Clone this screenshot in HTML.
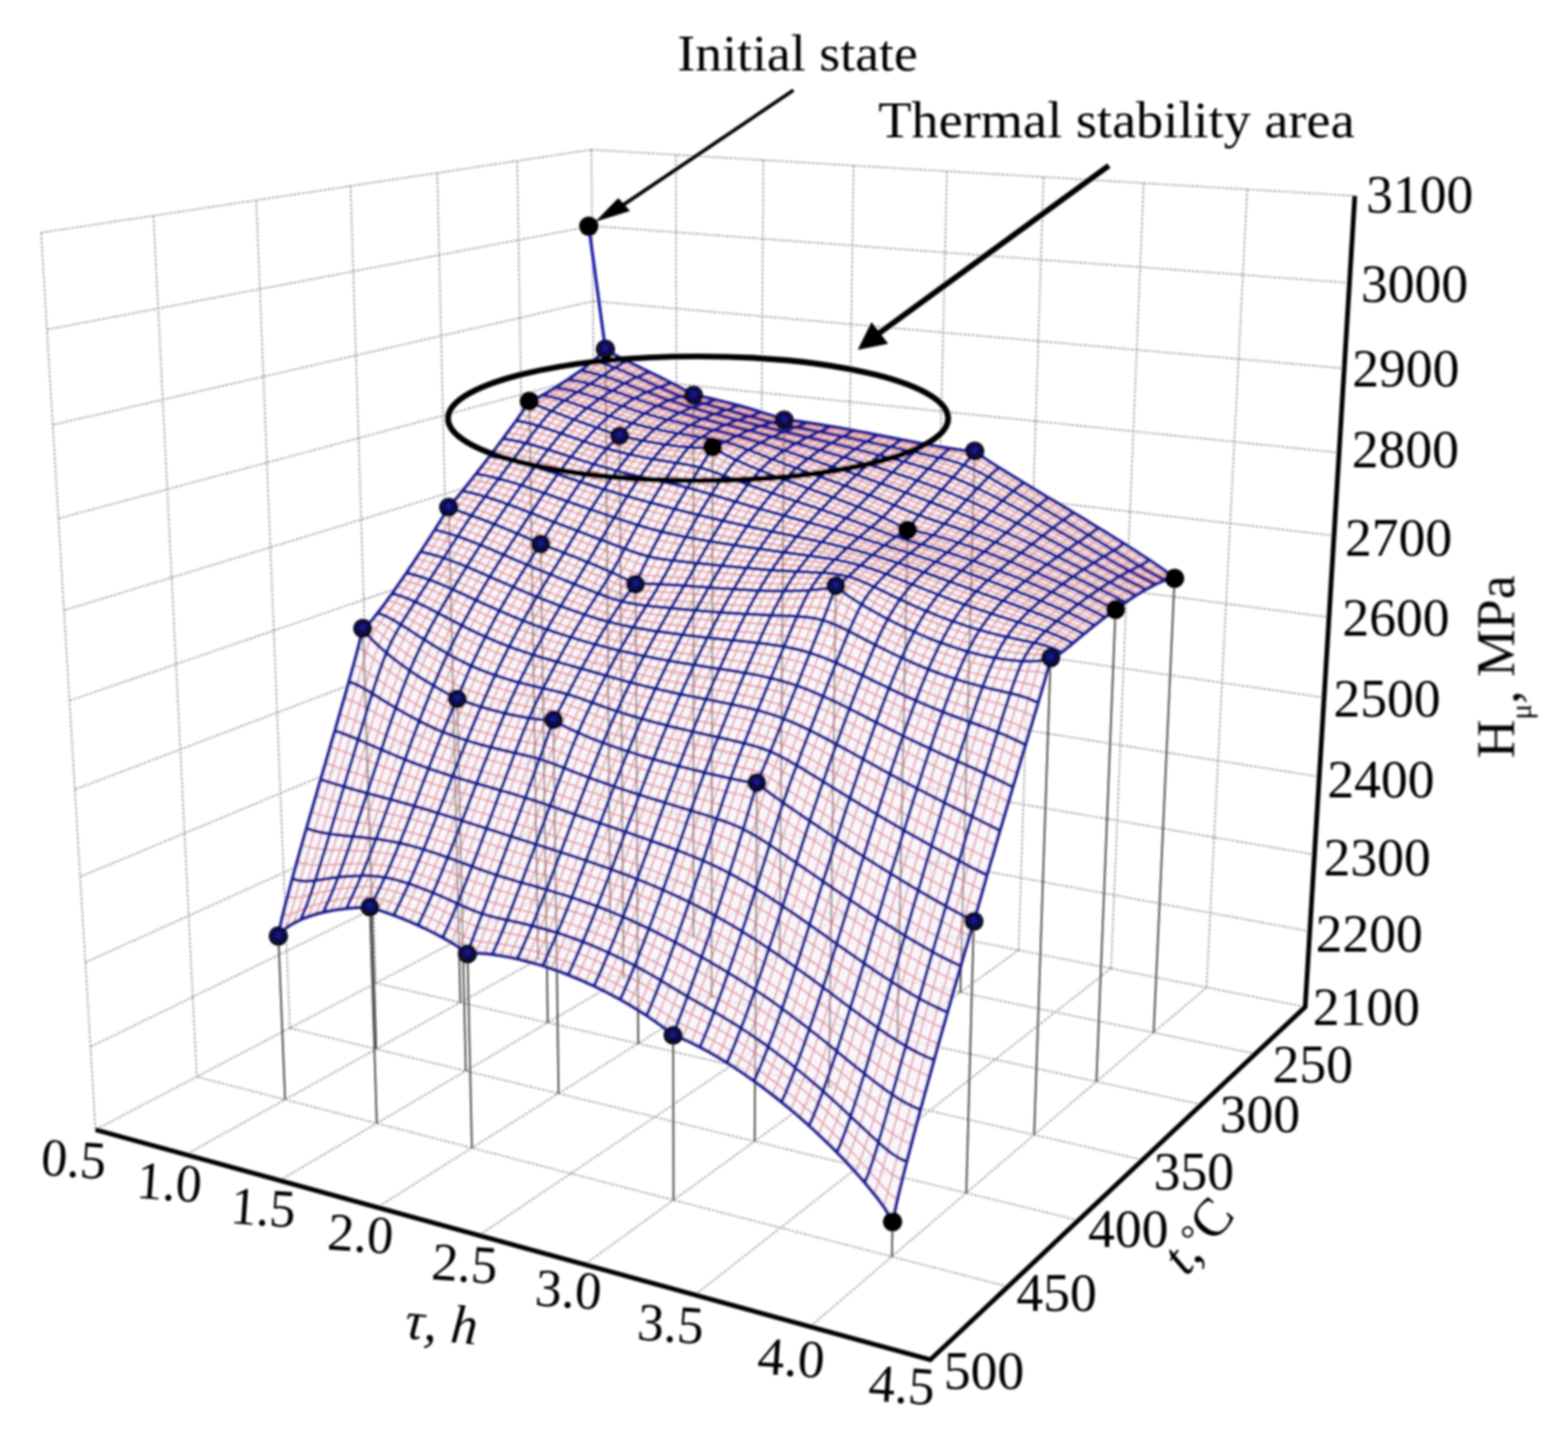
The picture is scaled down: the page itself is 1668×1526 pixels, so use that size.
<!DOCTYPE html>
<html><head><meta charset="utf-8"><title>Figure</title>
<style>html,body{margin:0;padding:0;background:#fff}svg{display:block}</style></head>
<body>
<svg width="1668" height="1526" viewBox="0 0 1668 1526">
<rect width="100%" height="100%" fill="#fff"/>
<defs><filter id="soft" x="0" y="0" width="1668" height="1526" filterUnits="userSpaceOnUse"><feGaussianBlur stdDeviation="0.9"/></filter></defs>
<g filter="url(#soft)">
<path d="M629.1 159.2L636.4 921.7M550.2 171.1L563.2 959.9M563.2 959.9L1335.5 1120.6M465.1 183.9L484.5 1001.1M484.5 1001.1L1278.1 1174.6M372.9 197.8L399.9 1045.4M399.9 1045.4L1215.6 1233.4M272.6 212.9L308.4 1093.2M308.4 1093.2L1147.3 1297.7M163.3 229.4L209.3 1145.0M209.3 1145.0L1072.3 1368.2M43.7 247.4L101.6 1201.3M101.6 1201.3L989.6 1446.0M719.1 164.6L720.4 938.3M720.4 938.3L197.7 1227.8M812.0 170.3L807.0 955.5M807.0 955.5L297.5 1255.3M908.0 176.1L896.3 973.2M896.3 973.2L401.3 1283.9M1007.3 182.1L988.5 991.5M988.5 991.5L509.4 1313.7M1110.1 188.3L1083.6 1010.3M1083.6 1010.3L621.9 1344.7M1216.6 194.7L1181.9 1029.8M1181.9 1029.8L739.3 1377.0M1326.8 201.4L1283.4 1050.0M1283.4 1050.0L861.7 1410.8M1441.2 208.3L1388.4 1070.8M1388.4 1070.8L989.6 1446.0M101.6 1201.3L636.4 921.7M636.4 921.7L1388.4 1070.8M96.3 1113.2L635.7 850.0M635.7 850.0L1393.3 990.4M90.8 1023.5L635.0 777.3M635.0 777.3L1398.3 908.8M85.3 932.3L634.3 703.7M634.3 703.7L1403.4 826.0M79.7 839.5L633.6 629.1M633.6 629.1L1408.5 741.8M73.9 745.1L632.9 553.5M632.9 553.5L1413.8 656.4M68.1 649.1L632.1 476.8M632.1 476.8L1419.1 569.6M62.2 551.3L631.4 399.0M631.4 399.0L1424.5 481.4M56.1 451.8L630.7 320.2M630.7 320.2L1429.9 391.8M50.0 350.5L629.9 240.3M629.9 240.3L1435.5 300.8M43.7 247.4L629.1 159.2M629.1 159.2L1441.2 208.3" fill="none" stroke="#6a6a6a" stroke-width="1.4" stroke-dasharray="3 1.6" opacity="0.72"/>
<path d="M644.0 371.2L649.1 977.8M737.7 420.3L737.7 996.2M834.1 446.7L829.3 1015.3M1036.8 479.7L1021.6 1055.3M1249.5 615.0L1227.2 1098.1M563.1 426.8L572.4 1020.3M659.1 463.5L663.2 1040.1M758.0 475.5L757.0 1060.7M965.5 563.5L954.5 1103.8M1186.7 648.0L1166.3 1150.2M477.4 539.5L489.7 1066.1M575.2 578.6L582.7 1087.5M676.1 621.4L678.9 1109.7M889.1 622.9L881.8 1156.5M1117.6 699.4L1100.1 1206.8M386.0 668.3L400.3 1115.6M486.4 743.3L495.5 1138.8M588.7 765.5L594.2 1162.9M805.1 832.3L802.8 1213.7M1035.9 979.8L1027.9 1268.6M296.1 995.4L303.3 1169.3M393.4 964.2L400.8 1194.5M497.3 1014.2L502.0 1220.7M716.1 1100.7L716.5 1276.2M949.5 1299.2L948.8 1336.3" fill="none" stroke="#555" stroke-width="1.9"/>
<path d="M644.0 371.2L649.8 375.0L655.6 378.2L661.4 381.2L667.2 384.1L673.0 387.0L678.8 389.8L684.7 392.7L690.5 395.6L696.4 398.5L702.2 401.4L708.1 404.3L714.0 407.3L719.9 410.4L725.8 413.5L731.7 416.7L737.7 420.3L743.6 421.1L749.5 422.4L755.5 423.7L761.5 425.1L767.5 426.6L773.5 428.1L779.5 429.7L785.5 431.3L791.5 433.0L797.6 434.7L803.6 436.5L809.7 438.4L815.8 440.3L821.9 442.2L828.0 444.3L834.1 446.7L840.2 447.1L846.3 447.8L852.5 448.6L858.7 449.5L864.9 450.4L871.1 451.4L877.3 452.4L883.5 453.4L889.7 454.5L896.0 455.6L902.2 456.8L908.5 458.0L914.8 459.1L921.1 460.3L927.4 461.5L933.7 462.8L940.1 464.0L946.4 465.2L952.8 466.5L959.2 467.7L965.6 469.0L972.0 470.2L978.4 471.4L984.8 472.6L991.3 473.8L997.7 474.9L1004.2 476.0L1010.7 477.1L1017.2 478.0L1023.7 478.9L1030.3 479.6L1036.8 479.7L1043.3 484.7L1049.8 489.1L1056.3 493.4L1062.8 497.5L1069.3 501.6L1075.8 505.6L1082.4 509.6L1088.9 513.6L1095.5 517.5L1102.1 521.5L1108.7 525.4L1115.3 529.4L1121.9 533.3L1128.5 537.3L1135.2 541.3L1141.8 545.3L1148.5 549.3L1155.1 553.3L1161.8 557.4L1168.5 561.4L1175.2 565.6L1181.9 569.7L1188.6 573.9L1195.4 578.1L1202.1 582.4L1208.9 586.7L1215.6 591.1L1222.4 595.5L1229.2 600.1L1235.9 604.7L1242.7 609.6L1249.5 615.0L1249.5 615.0L1247.0 614.9L1244.5 615.4L1242.0 616.1L1239.5 616.9L1237.0 617.9L1234.5 618.9L1231.9 620.0L1229.3 621.2L1226.8 622.5L1224.2 623.9L1221.6 625.2L1218.9 626.7L1216.3 628.2L1213.7 629.8L1211.0 631.4L1208.4 633.1L1205.7 634.8L1203.0 636.5L1200.3 638.3L1197.6 640.2L1194.9 642.1L1192.2 644.0L1189.4 646.0L1186.7 648.0L1183.9 650.0L1181.1 652.0L1178.4 654.0L1175.6 656.1L1172.8 658.2L1170.0 660.4L1167.1 662.6L1164.3 664.8L1161.5 667.1L1158.6 669.4L1155.7 671.8L1152.8 674.1L1150.0 676.5L1147.1 678.9L1144.1 681.4L1141.2 683.8L1138.3 686.3L1135.3 688.7L1132.4 691.1L1129.4 693.4L1126.5 695.7L1123.5 697.7L1120.5 699.4L1117.6 699.4L1114.2 712.8L1110.9 724.6L1107.5 736.1L1104.2 747.3L1100.8 758.5L1097.5 769.7L1094.1 780.8L1090.8 792.0L1087.4 803.2L1084.0 814.4L1080.7 825.7L1077.3 837.0L1073.9 848.5L1070.5 860.0L1067.1 871.5L1063.6 883.2L1060.2 894.9L1056.8 906.7L1053.3 918.6L1049.8 930.6L1046.4 942.7L1042.9 954.9L1039.4 967.2L1035.9 979.8L1032.4 991.4L1028.9 1003.2L1025.4 1015.1L1021.9 1027.2L1018.4 1039.3L1014.8 1051.6L1011.3 1063.9L1007.8 1076.4L1004.2 1088.9L1000.6 1101.6L997.0 1114.4L993.5 1127.2L989.9 1140.2L986.3 1153.3L982.6 1166.6L979.0 1180.0L975.4 1193.5L971.7 1207.2L968.1 1221.2L964.4 1235.4L960.7 1249.9L957.0 1264.9L953.3 1280.7L949.5 1299.2L949.5 1299.2L942.2 1286.1L934.8 1275.7L927.3 1266.3L919.9 1257.4L912.5 1248.9L905.1 1240.7L897.7 1232.8L890.3 1225.2L882.9 1217.8L875.5 1210.7L868.2 1203.7L860.8 1197.0L853.5 1190.4L846.1 1184.0L838.8 1177.8L831.5 1171.8L824.2 1166.0L816.9 1160.3L809.6 1154.8L802.3 1149.5L795.0 1144.4L787.8 1139.4L780.6 1134.6L773.4 1130.0L766.1 1125.6L759.0 1121.3L751.8 1117.3L744.6 1113.4L737.5 1109.8L730.3 1106.3L723.2 1103.2L716.1 1100.7L709.0 1094.8L702.0 1089.6L694.9 1084.6L687.9 1079.9L680.8 1075.3L673.8 1071.0L666.8 1066.8L659.8 1062.8L652.8 1059.0L645.9 1055.3L638.9 1051.8L632.0 1048.5L625.1 1045.3L618.2 1042.2L611.4 1039.3L604.5 1036.5L597.7 1033.9L590.8 1031.4L584.0 1029.1L577.2 1026.9L570.5 1024.9L563.7 1023.0L557.0 1021.2L550.3 1019.6L543.6 1018.1L536.9 1016.9L530.3 1015.7L523.6 1014.8L517.0 1014.1L510.4 1013.6L503.9 1013.4L497.3 1014.2L490.7 1008.9L484.1 1004.6L477.5 1000.6L470.9 996.9L464.3 993.3L457.8 990.0L451.3 986.8L444.8 983.8L438.3 980.9L431.8 978.2L425.4 975.6L418.9 973.2L412.5 970.8L406.1 968.6L399.7 966.5L393.4 964.2L387.1 964.7L380.8 965.0L374.6 965.4L368.4 966.0L362.2 966.7L356.0 967.6L349.9 968.7L343.8 970.0L337.7 971.5L331.6 973.4L325.6 975.5L319.6 978.0L313.6 980.9L307.7 984.3L301.8 988.6L296.1 995.4L296.1 995.4L299.7 978.0L303.5 962.9L307.3 948.6L311.1 934.6L314.8 921.0L318.6 907.5L322.4 894.1L326.2 880.9L330.0 867.8L333.8 854.8L337.6 841.8L341.3 828.8L345.1 815.9L348.9 803.0L352.6 790.1L356.4 777.2L360.1 764.2L363.8 751.2L367.6 738.2L371.3 725.0L375.0 711.6L378.7 698.1L382.4 684.0L386.0 668.3L390.0 665.8L394.0 661.7L397.9 657.0L401.8 652.1L405.7 647.1L409.6 641.9L413.4 636.6L417.3 631.2L421.1 625.8L425.0 620.3L428.8 614.8L432.6 609.2L436.4 603.6L440.2 598.0L443.9 592.3L447.7 586.7L451.4 580.9L455.2 575.2L458.9 569.4L462.6 563.6L466.3 557.7L470.0 551.8L473.7 545.8L477.4 539.5L481.1 535.5L484.7 531.1L488.4 526.7L492.1 522.2L495.7 517.7L499.4 513.1L503.0 508.5L506.6 503.9L510.2 499.3L513.8 494.7L517.4 490.0L521.0 485.3L524.6 480.7L528.1 476.0L531.7 471.3L535.2 466.6L538.7 461.8L542.2 457.1L545.8 452.3L549.3 447.5L552.7 442.6L556.2 437.6L559.7 432.5L563.1 426.8L566.6 425.8L570.1 424.1L573.6 422.3L577.1 420.4L580.5 418.5L583.9 416.5L587.4 414.4L590.8 412.3L594.2 410.2L597.6 408.0L601.0 405.8L604.3 403.6L607.7 401.3L611.1 399.0L614.4 396.7L617.7 394.3L621.0 391.9L624.4 389.3L627.7 386.8L630.9 384.1L634.2 381.3L637.5 378.3L640.7 375.2L644.0 371.2Z" fill="#f7f1fb" fill-opacity="0.7" stroke="none"/>
<path d="M644.0 371.2L649.1 977.8M737.7 420.3L737.7 996.2M834.1 446.7L829.3 1015.3M1036.8 479.7L1021.6 1055.3M1249.5 615.0L1227.2 1098.1M563.1 426.8L572.4 1020.3M659.1 463.5L663.2 1040.1M758.0 475.5L757.0 1060.7M965.5 563.5L954.5 1103.8M1186.7 648.0L1166.3 1150.2M477.4 539.5L489.7 1066.1M575.2 578.6L582.7 1087.5M676.1 621.4L678.9 1109.7M889.1 622.9L881.8 1156.5M1117.6 699.4L1100.1 1206.8M386.0 668.3L400.3 1115.6M486.4 743.3L495.5 1138.8M588.7 765.5L594.2 1162.9M805.1 832.3L802.8 1213.7M1035.9 979.8L1027.9 1268.6M296.1 995.4L303.3 1169.3M393.4 964.2L400.8 1194.5M497.3 1014.2L502.0 1220.7M716.1 1100.7L716.5 1276.2M949.5 1299.2L948.8 1336.3" fill="none" stroke="#4a4a3a" stroke-width="1.6" opacity="0.45"/>
<path d="M651.7 376.1L648.4 377.9L645.2 380.4L641.9 383.1L638.7 385.7L635.4 388.3L632.1 390.8L628.8 393.3L625.5 395.7L622.1 398.0L618.8 400.3L615.5 402.6L612.1 404.8L608.7 407.0L605.4 409.2L602.0 411.4L598.6 413.5L595.2 415.6L591.8 417.7L588.3 419.7L584.9 421.7L581.4 423.7L578.0 425.8L574.5 427.9L571.0 430.7L567.6 434.7L564.1 439.3L560.6 444.0L557.1 448.8L553.6 453.6L550.1 458.3L546.6 463.1L543.1 467.8L539.6 472.5L536.0 477.2L532.5 481.9L528.9 486.6L525.3 491.3L521.8 496.0L518.2 500.7L514.6 505.3L511.0 510.0L507.3 514.6L503.7 519.2L500.1 523.8L496.4 528.4L492.7 533.0L489.1 537.6L485.4 542.5L481.7 548.0L478.0 553.8L474.3 559.6L470.6 565.5L466.9 571.3L463.2 577.1L459.5 582.8L455.7 588.6L452.0 594.3L448.2 600.0L444.4 605.6L440.7 611.3L436.9 616.9L433.0 622.5L429.2 628.0L425.4 633.5L421.5 639.0L417.7 644.4L413.8 649.8L409.9 655.0L406.0 660.3L402.1 665.6L398.2 671.3L394.4 678.8L390.6 689.5L386.9 702.1L383.2 715.1L379.5 728.1L375.7 741.1L372.0 754.1L368.3 767.1L364.5 780.0L360.8 792.8L357.0 805.7L353.3 818.6L349.5 831.5L345.7 844.4L341.9 857.4L338.2 870.4L334.4 883.5L330.6 896.6L326.8 909.9L323.0 923.2L319.2 936.7L315.4 950.2L311.6 963.7L307.7 976.6L303.8 987.0M639.7 376.3L645.4 377.9L651.2 380.4L657.0 383.1L662.9 385.9L668.7 388.7L674.5 391.5L680.4 394.3L686.2 397.2L692.1 400.1L698.0 403.0L703.9 405.9L709.8 408.8L715.7 411.8L721.6 414.8L727.5 417.7L733.4 420.3L739.4 422.1L745.3 423.7L751.3 425.1L757.3 426.6L763.3 428.1L769.3 429.7L775.3 431.3L781.3 432.9L787.4 434.6L793.4 436.4L799.5 438.1L805.6 439.9L811.7 441.8L817.8 443.7L823.9 445.6L830.0 447.2L836.1 448.4L842.3 449.3L848.5 450.2L854.6 451.2L860.8 452.2L867.0 453.2L873.3 454.2L879.5 455.3L885.7 456.5L892.0 457.6L898.3 458.8L904.6 460.0L910.8 461.2L917.2 462.4L923.5 463.7L929.8 464.9L936.2 466.2L942.5 467.5L948.9 468.8L955.3 470.0L961.7 471.3L968.1 472.6L974.5 473.8L981.0 475.1L987.4 476.3L993.9 477.5L1000.4 478.6L1006.9 479.8L1013.4 480.9L1019.9 482.0L1026.4 483.3L1033.0 485.3L1039.5 488.4L1046.0 492.3L1052.5 496.3L1059.0 500.3L1065.6 504.3L1072.1 508.3L1078.7 512.3L1085.3 516.2L1091.8 520.2L1098.4 524.1L1105.0 528.0L1111.7 532.0L1118.3 535.9L1124.9 539.9L1131.6 543.8L1138.2 547.8L1144.9 551.8L1151.6 555.9L1158.3 559.9L1165.0 564.0L1171.7 568.1L1178.4 572.2L1185.1 576.4L1191.9 580.6L1198.6 584.9L1205.4 589.2L1212.2 593.6L1218.9 598.0L1225.7 602.4L1232.5 606.9L1239.4 611.2L1246.2 615.0M659.4 380.2L656.2 381.6L652.9 383.6L649.7 385.8L646.4 388.1L643.1 390.5L639.8 392.8L636.5 395.1L633.2 397.5L629.9 399.7L626.6 402.0L623.3 404.2L619.9 406.4L616.5 408.6L613.2 410.8L609.8 412.9L606.4 415.1L603.0 417.2L599.6 419.3L596.2 421.5L592.7 423.6L589.3 425.9L585.8 428.2L582.4 430.9L578.9 434.0L575.5 437.6L572.0 441.8L568.5 446.2L565.0 450.7L561.6 455.3L558.1 460.0L554.5 464.7L551.0 469.4L547.5 474.1L544.0 478.8L540.4 483.5L536.9 488.2L533.3 492.9L529.7 497.6L526.1 502.3L522.5 507.0L518.9 511.7L515.3 516.4L511.7 521.1L508.1 525.8L504.4 530.5L500.8 535.3L497.1 540.2L493.4 545.3L489.8 550.7L486.1 556.3L482.4 562.0L478.7 567.7L475.0 573.5L471.3 579.3L467.5 585.1L463.8 590.8L460.1 596.6L456.3 602.3L452.5 608.0L448.8 613.7L445.0 619.4L441.2 625.1L437.4 630.8L433.5 636.5L429.7 642.1L425.9 647.8L422.0 653.5L418.1 659.2L414.3 665.2L410.4 671.5L406.5 678.5L402.7 686.9L398.9 696.8L395.2 708.1L391.4 720.1L387.7 732.4L384.0 745.0L380.2 757.7L376.5 770.4L372.7 783.1L369.0 795.8L365.2 808.6L361.4 821.3L357.7 834.1L353.9 846.9L350.1 859.7L346.3 872.6L342.5 885.4L338.7 898.3L334.9 911.2L331.1 924.1L327.3 936.9L323.4 949.5L319.6 961.6L315.6 972.7L311.6 981.9M635.3 380.3L641.1 381.6L646.9 383.5L652.7 385.8L658.5 388.3L664.4 390.9L670.2 393.5L676.1 396.2L681.9 399.0L687.8 401.8L693.7 404.6L699.6 407.4L705.5 410.2L711.4 413.1L717.3 415.8L723.3 418.5L729.2 420.8L735.2 422.9L741.1 424.7L747.1 426.4L753.1 428.0L759.1 429.6L765.1 431.2L771.1 432.8L777.2 434.4L783.2 436.1L789.3 437.8L795.4 439.6L801.5 441.4L807.6 443.1L813.7 444.9L819.8 446.6L825.9 448.1L832.1 449.4L838.2 450.6L844.4 451.7L850.6 452.8L856.8 453.8L863.0 454.9L869.2 456.1L875.5 457.2L881.7 458.4L888.0 459.6L894.3 460.8L900.6 462.1L906.9 463.3L913.2 464.6L919.5 465.9L925.9 467.2L932.2 468.5L938.6 469.9L945.0 471.2L951.4 472.5L957.8 473.9L964.2 475.2L970.6 476.5L977.1 477.8L983.5 479.1L990.0 480.4L996.5 481.7L1003.0 483.1L1009.5 484.4L1016.1 486.0L1022.6 487.8L1029.1 490.0L1035.7 492.9L1042.2 496.2L1048.7 499.9L1055.3 503.6L1061.8 507.5L1068.4 511.3L1075.0 515.2L1081.5 519.1L1088.1 523.0L1094.7 526.9L1101.4 530.8L1108.0 534.7L1114.6 538.6L1121.3 542.5L1127.9 546.5L1134.6 550.4L1141.3 554.4L1148.0 558.4L1154.7 562.5L1161.4 566.5L1168.1 570.6L1174.9 574.7L1181.6 578.9L1188.4 583.0L1195.1 587.2L1201.9 591.5L1208.7 595.7L1215.5 600.0L1222.3 604.2L1229.2 608.4L1236.0 612.3L1242.9 615.8M674.9 387.9L671.7 389.2L668.5 390.6L665.2 392.3L662.0 394.1L658.7 396.0L655.4 398.0L652.1 400.0L648.8 402.1L645.5 404.2L642.2 406.2L638.9 408.3L635.6 410.4L632.2 412.6L628.9 414.7L625.5 416.9L622.1 419.1L618.7 421.3L615.3 423.6L611.9 426.0L608.5 428.5L605.1 431.1L601.7 433.9L598.2 436.9L594.8 440.1L591.3 443.6L587.9 447.4L584.4 451.4L580.9 455.6L577.5 459.9L574.0 464.3L570.5 468.8L567.0 473.4L563.5 478.0L559.9 482.6L556.4 487.3L552.8 492.0L549.3 496.8L545.7 501.5L542.2 506.3L538.6 511.1L535.0 516.0L531.4 520.8L527.8 525.7L524.2 530.7L520.5 535.7L516.9 540.7L513.2 545.9L509.6 551.2L505.9 556.5L502.3 562.0L498.6 567.6L494.9 573.3L491.2 579.0L487.5 584.7L483.8 590.5L480.1 596.3L476.3 602.1L472.6 608.0L468.8 613.8L465.1 619.7L461.3 625.7L457.5 631.6L453.7 637.7L449.9 643.8L446.1 649.9L442.3 656.2L438.5 662.7L434.6 669.5L430.8 676.5L427.0 684.0L423.2 692.1L419.4 700.9L415.6 710.4L411.8 720.6L408.0 731.4L404.2 742.6L400.5 754.1L396.7 765.9L393.0 777.9L389.2 790.0L385.4 802.1L381.6 814.4L377.9 826.6L374.1 838.9L370.3 851.2L366.5 863.5L362.7 875.7L358.8 887.9L355.0 900.0L351.2 911.9L347.3 923.7L343.4 935.1L339.5 946.1L335.6 956.5L331.6 966.1L327.6 974.7M626.6 387.6L632.3 388.7L638.2 390.1L644.0 391.8L649.8 393.8L655.7 396.0L661.5 398.2L667.4 400.6L673.3 403.1L679.2 405.6L685.1 408.2L691.0 410.7L696.9 413.3L702.8 415.8L708.8 418.2L714.7 420.6L720.7 422.8L726.7 424.9L732.6 426.9L738.6 428.7L744.7 430.5L750.7 432.2L756.7 433.9L762.8 435.6L768.8 437.3L774.9 439.0L781.0 440.6L787.0 442.3L793.2 444.0L799.3 445.6L805.4 447.3L811.5 448.8L817.7 450.4L823.9 451.8L830.0 453.2L836.2 454.5L842.4 455.8L848.7 457.1L854.9 458.4L861.1 459.7L867.4 461.0L873.7 462.3L879.9 463.7L886.2 465.0L892.5 466.4L898.9 467.8L905.2 469.2L911.6 470.7L917.9 472.1L924.3 473.6L930.7 475.0L937.1 476.5L943.5 478.0L949.9 479.5L956.3 481.0L962.8 482.5L969.3 484.0L975.7 485.6L982.2 487.2L988.7 488.8L995.2 490.5L1001.8 492.4L1008.3 494.4L1014.9 496.6L1021.4 499.0L1028.0 501.7L1034.5 504.7L1041.1 507.9L1047.7 511.2L1054.2 514.7L1060.8 518.2L1067.4 521.9L1074.1 525.5L1080.7 529.2L1087.3 532.9L1094.0 536.7L1100.6 540.5L1107.3 544.3L1114.0 548.1L1120.6 551.9L1127.3 555.8L1134.1 559.7L1140.8 563.6L1147.5 567.5L1154.3 571.5L1161.0 575.5L1167.8 579.5L1174.6 583.5L1181.3 587.5L1188.1 591.6L1195.0 595.6L1201.8 599.6L1208.6 603.6L1215.5 607.4L1222.3 611.2L1229.2 614.8L1236.2 618.2M682.7 391.8L679.5 393.0L676.3 394.3L673.0 395.9L669.8 397.5L666.5 399.2L663.2 401.0L660.0 402.9L656.7 404.8L653.4 406.8L650.1 408.8L646.8 410.8L643.4 412.8L640.1 414.9L636.7 417.1L633.4 419.2L630.0 421.5L626.6 423.8L623.3 426.1L619.9 428.6L616.5 431.2L613.0 433.9L609.6 436.8L606.2 439.8L602.8 443.1L599.3 446.6L595.9 450.3L592.4 454.2L588.9 458.2L585.5 462.4L582.0 466.8L578.5 471.2L575.0 475.7L571.5 480.2L567.9 484.9L564.4 489.5L560.9 494.3L557.3 499.0L553.8 503.8L550.2 508.7L546.6 513.5L543.0 518.4L539.5 523.4L535.9 528.4L532.2 533.4L528.6 538.5L525.0 543.7L521.3 548.9L517.7 554.2L514.0 559.6L510.4 565.1L506.7 570.7L503.0 576.3L499.3 582.0L495.6 587.8L491.9 593.6L488.2 599.4L484.5 605.3L480.7 611.2L477.0 617.1L473.2 623.2L469.5 629.2L465.7 635.3L461.9 641.6L458.1 647.9L454.3 654.3L450.5 660.9L446.7 667.7L442.9 674.8L439.1 682.2L435.3 690.1L431.5 698.4L427.7 707.2L423.9 716.6L420.1 726.5L416.3 736.9L412.6 747.8L408.8 758.9L405.0 770.3L401.2 781.9L397.5 793.6L393.7 805.4L389.9 817.3L386.1 829.2L382.3 841.2L378.5 853.2L374.7 865.1L370.9 876.9L367.0 888.7L363.2 900.4L359.3 911.8L355.4 923.0L351.5 933.9L347.6 944.4L343.7 954.3L339.7 963.6L335.7 972.1M622.1 391.0L627.9 392.0L633.8 393.4L639.6 394.9L645.4 396.7L651.3 398.7L657.1 400.8L663.0 403.0L668.9 405.3L674.8 407.7L680.7 410.1L686.6 412.6L692.6 415.0L698.5 417.4L704.5 419.7L710.4 422.0L716.4 424.1L722.4 426.2L728.4 428.2L734.4 430.1L740.4 431.9L746.4 433.6L752.5 435.4L758.5 437.1L764.6 438.7L770.7 440.4L776.8 442.1L782.9 443.7L789.0 445.3L795.1 447.0L801.2 448.6L807.4 450.1L813.6 451.6L819.7 453.1L825.9 454.6L832.1 456.0L838.3 457.4L844.6 458.8L850.8 460.1L857.1 461.5L863.3 462.9L869.6 464.4L875.9 465.8L882.2 467.3L888.5 468.7L894.8 470.2L901.2 471.7L907.5 473.2L913.9 474.7L920.3 476.3L926.7 477.8L933.1 479.4L939.5 481.0L945.9 482.5L952.4 484.1L958.8 485.8L965.3 487.4L971.8 489.1L978.3 490.8L984.8 492.6L991.3 494.5L997.9 496.5L1004.4 498.6L1011.0 500.9L1017.5 503.4L1024.1 506.1L1030.7 509.0L1037.2 512.0L1043.8 515.2L1050.4 518.5L1057.0 521.9L1063.7 525.4L1070.3 529.0L1076.9 532.5L1083.6 536.2L1090.2 539.8L1096.9 543.5L1103.6 547.2L1110.3 551.0L1117.0 554.7L1123.7 558.5L1130.4 562.4L1137.2 566.2L1143.9 570.1L1150.7 574.0L1157.4 577.9L1164.2 581.8L1171.0 585.7L1177.8 589.7L1184.6 593.6L1191.5 597.5L1198.3 601.4L1205.2 605.3L1212.0 609.1L1218.9 612.7L1225.8 616.3L1232.8 619.7M698.3 399.4L695.1 400.6L691.9 401.9L688.7 403.2L685.4 404.5L682.2 406.0L679.0 407.5L675.7 409.1L672.4 410.7L669.1 412.4L665.8 414.2L662.5 416.1L659.2 418.1L655.9 420.1L652.6 422.2L649.2 424.3L645.9 426.6L642.5 429.0L639.1 431.4L635.8 434.0L632.4 436.7L629.0 439.6L625.6 442.6L622.2 445.7L618.7 449.0L615.3 452.5L611.9 456.1L608.4 459.9L605.0 463.8L601.5 467.8L598.0 472.0L594.5 476.3L591.1 480.7L587.6 485.2L584.0 489.8L580.5 494.4L577.0 499.2L573.5 504.0L569.9 508.8L566.4 513.8L562.8 518.8L559.2 523.8L555.7 528.9L552.1 534.1L548.5 539.3L544.9 544.5L541.3 549.9L537.6 555.2L534.0 560.7L530.4 566.1L526.7 571.7L523.0 577.3L519.4 582.9L515.7 588.7L512.0 594.4L508.3 600.3L504.6 606.2L500.9 612.1L497.2 618.2L493.4 624.3L489.7 630.5L486.0 636.8L482.2 643.2L478.4 649.8L474.7 656.5L470.9 663.4L467.1 670.5L463.3 677.8L459.6 685.3L455.8 693.2L452.0 701.4L448.2 709.9L444.4 718.7L440.6 728.0L436.8 737.5L433.0 747.4L429.2 757.6L425.5 768.1L421.7 778.8L417.9 789.7L414.1 800.7L410.3 811.9L406.5 823.1L402.7 834.4L398.8 845.7L395.0 856.9L391.2 868.1L387.3 879.3L383.5 890.3L379.6 901.1L375.7 911.7L371.8 922.0L367.9 932.1L363.9 941.7L360.0 951.0L356.0 959.9L351.9 968.3M613.3 397.5L619.1 398.4L624.9 399.6L630.8 401.0L636.6 402.5L642.5 404.2L648.4 406.1L654.2 408.1L660.1 410.2L666.1 412.3L672.0 414.5L677.9 416.7L683.9 418.9L689.8 421.1L695.8 423.3L701.8 425.4L707.8 427.5L713.8 429.5L719.8 431.4L725.8 433.3L731.8 435.1L737.9 436.8L743.9 438.5L750.0 440.2L756.1 441.8L762.2 443.5L768.3 445.1L774.4 446.7L780.6 448.3L786.7 449.8L792.9 451.4L799.0 453.0L805.2 454.5L811.4 456.1L817.6 457.6L823.8 459.2L830.1 460.7L836.3 462.3L842.6 463.9L848.8 465.5L855.1 467.0L861.4 468.7L867.7 470.3L874.0 471.9L880.4 473.6L886.7 475.2L893.1 476.9L899.5 478.6L905.8 480.3L912.2 482.0L918.7 483.7L925.1 485.5L931.5 487.3L938.0 489.1L944.4 490.9L950.9 492.7L957.4 494.6L963.9 496.5L970.4 498.5L976.9 500.5L983.5 502.6L990.0 504.8L996.6 507.1L1003.1 509.5L1009.7 512.1L1016.3 514.7L1022.9 517.5L1029.5 520.4L1036.1 523.3L1042.7 526.4L1049.4 529.6L1056.0 532.8L1062.7 536.1L1069.3 539.5L1076.0 542.9L1082.7 546.3L1089.4 549.8L1096.1 553.4L1102.8 556.9L1109.6 560.5L1116.3 564.2L1123.1 567.8L1129.8 571.5L1136.6 575.2L1143.4 579.0L1150.2 582.7L1157.0 586.5L1163.8 590.2L1170.7 594.0L1177.5 597.8L1184.4 601.5L1191.3 605.2L1198.2 608.9L1205.1 612.5L1212.0 616.1L1218.9 619.6L1225.9 623.0M706.2 403.3L703.0 404.5L699.8 405.7L696.5 406.9L693.3 408.1L690.1 409.4L686.8 410.8L683.6 412.3L680.3 413.8L677.0 415.4L673.8 417.1L670.5 418.9L667.2 420.8L663.8 422.8L660.5 424.8L657.2 427.0L653.8 429.3L650.5 431.7L647.1 434.2L643.8 436.8L640.4 439.5L637.0 442.4L633.6 445.5L630.2 448.6L626.8 452.0L623.3 455.4L619.9 459.0L616.5 462.7L613.0 466.6L609.6 470.5L606.1 474.7L602.6 478.9L599.1 483.3L595.6 487.8L592.1 492.3L588.6 497.0L585.1 501.8L581.6 506.6L578.0 511.5L574.5 516.5L570.9 521.5L567.4 526.7L563.8 531.8L560.2 537.1L556.6 542.4L553.0 547.7L549.4 553.1L545.8 558.6L542.2 564.0L538.6 569.6L534.9 575.1L531.3 580.7L527.6 586.4L523.9 592.1L520.2 597.9L516.5 603.8L512.8 609.7L509.1 615.7L505.4 621.8L501.7 628.0L498.0 634.3L494.2 640.8L490.5 647.3L486.7 654.0L483.0 660.9L479.2 667.9L475.4 675.1L471.7 682.6L467.9 690.4L464.1 698.4L460.3 706.6L456.5 715.2L452.8 724.1L449.0 733.2L445.2 742.6L441.4 752.3L437.6 762.3L433.8 772.5L430.0 782.9L426.2 793.5L422.4 804.2L418.6 815.1L414.8 826.0L411.0 836.9L407.1 847.9L403.3 858.8L399.5 869.7L395.6 880.5L391.7 891.1L387.9 901.6L384.0 911.8L380.0 921.8L376.1 931.5L372.1 940.9L368.2 949.9L364.2 958.6L360.1 966.9M608.8 400.6L614.6 401.5L620.5 402.6L626.3 403.9L632.2 405.4L638.1 407.1L643.9 408.8L649.8 410.7L655.7 412.7L661.7 414.8L667.6 416.9L673.5 419.0L679.5 421.2L685.5 423.3L691.4 425.4L697.4 427.4L703.4 429.4L709.4 431.4L715.5 433.3L721.5 435.1L727.5 436.9L733.6 438.6L739.7 440.3L745.7 442.0L751.8 443.6L757.9 445.2L764.1 446.7L770.2 448.3L776.3 449.9L782.5 451.4L788.6 453.0L794.8 454.6L801.0 456.1L807.2 457.7L813.4 459.3L819.7 460.9L825.9 462.6L832.2 464.2L838.4 465.9L844.7 467.5L851.0 469.2L857.3 470.9L863.6 472.6L869.9 474.4L876.3 476.1L882.6 477.9L889.0 479.7L895.4 481.4L901.8 483.2L908.2 485.1L914.6 486.9L921.0 488.7L927.5 490.6L933.9 492.5L940.4 494.4L946.9 496.4L953.4 498.3L959.9 500.4L966.4 502.4L972.9 504.6L979.5 506.8L986.0 509.1L992.6 511.4L999.2 513.8L1005.8 516.4L1012.4 519.0L1019.0 521.7L1025.6 524.5L1032.2 527.5L1038.9 530.4L1045.5 533.5L1052.2 536.6L1058.8 539.8L1065.5 543.1L1072.2 546.3L1078.9 549.7L1085.6 553.1L1092.4 556.5L1099.1 560.0L1105.8 563.5L1112.6 567.0L1119.4 570.6L1126.2 574.2L1133.0 577.8L1139.8 581.5L1146.6 585.2L1153.4 588.8L1160.2 592.5L1167.1 596.2L1174.0 599.9L1180.8 603.6L1187.7 607.2L1194.6 610.8L1201.6 614.4L1208.5 617.9L1215.5 621.4L1222.4 624.8M721.9 411.4L718.7 412.5L715.5 413.4L712.3 414.3L709.1 415.2L705.9 416.2L702.6 417.4L699.4 418.6L696.2 419.9L692.9 421.3L689.6 422.9L686.4 424.5L683.1 426.3L679.8 428.2L676.5 430.2L673.1 432.3L669.8 434.6L666.5 437.0L663.1 439.5L659.8 442.2L656.4 445.0L653.0 448.0L649.7 451.1L646.3 454.4L642.9 457.7L639.5 461.1L636.0 464.6L632.6 468.3L629.2 472.0L625.7 475.9L622.3 480.0L618.8 484.2L615.3 488.5L611.9 493.0L608.4 497.6L604.9 502.3L601.4 507.1L597.9 512.0L594.3 517.0L590.8 522.1L587.3 527.3L583.7 532.6L580.2 537.9L576.6 543.3L573.0 548.8L569.4 554.3L565.8 559.9L562.2 565.5L558.6 571.1L555.0 576.7L551.4 582.2L547.7 587.9L544.1 593.5L540.4 599.3L536.8 605.1L533.1 611.0L529.4 617.0L525.7 623.1L522.0 629.3L518.3 635.6L514.6 642.0L510.8 648.6L507.1 655.3L503.4 662.2L499.6 669.3L495.9 676.6L492.1 684.1L488.4 691.8L484.6 699.8L480.8 708.0L477.1 716.5L473.3 725.1L469.5 734.0L465.7 742.9L462.0 752.1L458.2 761.4L454.4 770.9L450.6 780.6L446.8 790.6L443.0 800.6L439.1 810.9L435.3 821.2L431.5 831.6L427.7 842.0L423.8 852.4L420.0 862.8L416.1 873.1L412.3 883.3L408.4 893.4L404.5 903.2L400.6 912.9L396.6 922.3L392.7 931.4L388.7 940.2L384.7 948.8L380.7 957.1L376.7 965.3M599.8 406.6L605.7 407.4L611.5 408.5L617.4 409.7L623.3 411.2L629.1 412.7L635.0 414.4L641.0 416.2L646.9 418.1L652.8 420.1L658.8 422.1L664.7 424.1L670.7 426.2L676.7 428.2L682.7 430.2L688.7 432.1L694.7 434.1L700.7 435.9L706.7 437.7L712.8 439.5L718.9 441.2L724.9 442.8L731.0 444.4L737.1 446.0L743.2 447.5L749.4 449.0L755.5 450.5L761.6 451.9L767.8 453.4L774.0 454.9L780.2 456.5L786.3 458.0L792.6 459.6L798.8 461.3L805.0 463.0L811.3 464.7L817.5 466.5L823.8 468.3L830.1 470.1L836.4 472.0L842.7 473.9L849.0 475.8L855.3 477.7L861.7 479.7L868.0 481.6L874.4 483.5L880.8 485.5L887.2 487.5L893.6 489.5L900.0 491.5L906.5 493.5L912.9 495.5L919.4 497.6L925.8 499.7L932.3 501.8L938.8 503.9L945.3 506.1L951.9 508.3L958.4 510.6L964.9 512.9L971.5 515.2L978.1 517.6L984.7 520.1L991.3 522.5L997.9 525.1L1004.5 527.7L1011.1 530.3L1017.8 533.0L1024.4 535.7L1031.1 538.5L1037.7 541.4L1044.4 544.3L1051.1 547.3L1057.8 550.3L1064.6 553.4L1071.3 556.5L1078.0 559.7L1084.8 562.9L1091.6 566.2L1098.3 569.5L1105.1 572.9L1111.9 576.3L1118.7 579.7L1125.6 583.2L1132.4 586.6L1139.3 590.2L1146.1 593.7L1153.0 597.2L1159.9 600.8L1166.8 604.3L1173.7 607.9L1180.6 611.4L1187.5 614.9L1194.5 618.4L1201.5 621.9L1208.4 625.3L1215.4 628.7M729.8 415.6L726.6 416.5L723.4 417.2L720.2 417.8L717.0 418.6L713.8 419.5L710.6 420.5L707.4 421.6L704.1 422.9L700.9 424.2L697.6 425.7L694.3 427.3L691.1 429.0L687.8 430.9L684.5 432.8L681.2 434.9L677.8 437.2L674.5 439.5L671.2 442.1L667.8 444.7L664.5 447.6L661.1 450.6L657.7 453.8L654.3 457.2L650.9 460.6L647.5 463.9L644.1 467.3L640.7 470.9L637.3 474.6L633.8 478.5L630.4 482.6L626.9 486.8L623.5 491.1L620.0 495.6L616.5 500.2L613.0 505.0L609.5 509.8L606.0 514.8L602.5 519.8L599.0 525.0L595.5 530.2L591.9 535.5L588.4 540.9L584.8 546.4L581.2 552.0L577.7 557.6L574.1 563.3L570.5 569.0L566.9 574.7L563.3 580.3L559.6 585.9L556.0 591.4L552.4 597.1L548.7 602.8L545.0 608.7L541.4 614.6L537.7 620.6L534.0 626.7L530.3 633.0L526.6 639.3L522.9 645.8L519.2 652.4L515.5 659.2L511.7 666.2L508.0 673.3L504.2 680.7L500.5 688.2L496.7 696.0L493.0 704.1L489.2 712.4L485.5 721.0L481.7 729.8L477.9 738.6L474.1 747.5L470.4 756.4L466.6 765.5L462.8 774.8L459.0 784.4L455.2 794.1L451.4 804.0L447.5 814.0L443.7 824.1L439.9 834.3L436.1 844.5L432.2 854.7L428.4 864.9L424.5 875.0L420.6 885.0L416.7 894.8L412.8 904.5L408.9 913.9L405.0 923.1L401.0 932.0L397.0 940.6L393.0 948.8L389.0 956.8L385.0 964.8M595.3 409.5L601.2 410.3L607.0 411.4L612.9 412.6L618.8 414.0L624.7 415.6L630.6 417.3L636.5 419.1L642.4 421.0L648.4 422.9L654.3 424.9L660.3 426.9L666.3 429.0L672.3 430.9L678.3 432.9L684.3 434.8L690.3 436.7L696.3 438.5L702.4 440.3L708.4 442.0L714.5 443.6L720.6 445.2L726.7 446.8L732.8 448.3L738.9 449.7L745.0 451.1L751.2 452.6L757.3 454.0L763.5 455.4L769.7 456.8L775.9 458.3L782.1 459.9L788.3 461.5L794.5 463.2L800.8 464.9L807.0 466.7L813.3 468.6L819.6 470.5L825.9 472.5L832.2 474.4L838.5 476.4L844.8 478.4L851.2 480.5L857.5 482.5L863.9 484.5L870.3 486.6L876.7 488.6L883.1 490.7L889.5 492.8L895.9 494.8L902.4 496.9L908.8 499.1L915.3 501.2L921.8 503.4L928.3 505.6L934.8 507.8L941.3 510.1L947.8 512.4L954.4 514.7L960.9 517.1L967.5 519.5L974.1 522.0L980.7 524.4L987.3 526.9L993.9 529.5L1000.5 532.1L1007.2 534.6L1013.8 537.3L1020.5 539.9L1027.1 542.6L1033.8 545.4L1040.5 548.2L1047.3 551.1L1054.0 554.0L1060.7 557.0L1067.5 560.0L1074.2 563.1L1081.0 566.2L1087.8 569.4L1094.6 572.6L1101.4 575.8L1108.2 579.2L1115.0 582.5L1121.9 585.9L1128.7 589.3L1135.6 592.7L1142.4 596.2L1149.3 599.6L1156.2 603.1L1163.1 606.6L1170.1 610.1L1177.0 613.6L1184.0 617.1L1190.9 620.6L1197.9 624.0L1204.9 627.4L1211.9 630.8M745.6 421.5L742.4 422.5L739.3 423.1L736.1 423.7L732.9 424.4L729.7 425.3L726.5 426.2L723.3 427.2L720.1 428.4L716.8 429.7L713.6 431.0L710.4 432.5L707.1 434.2L703.8 435.9L700.5 437.8L697.2 439.8L693.9 442.0L690.6 444.3L687.3 446.8L684.0 449.4L680.6 452.2L677.3 455.2L673.9 458.4L670.5 461.8L667.2 465.2L663.8 468.5L660.4 471.9L657.0 475.5L653.6 479.3L650.1 483.2L646.7 487.3L643.3 491.6L639.8 496.0L636.3 500.6L632.9 505.3L629.4 510.2L625.9 515.1L622.4 520.2L618.9 525.4L615.4 530.7L611.9 536.1L608.4 541.5L604.8 547.0L601.3 552.7L597.7 558.3L594.2 564.1L590.6 569.9L587.0 575.7L583.4 581.5L579.8 587.2L576.2 592.8L572.6 598.4L569.0 604.1L565.3 609.9L561.7 615.8L558.0 621.7L554.4 627.7L550.7 633.9L547.0 640.2L543.3 646.6L539.6 653.1L535.9 659.8L532.2 666.6L528.5 673.6L524.8 680.8L521.0 688.2L517.3 695.8L513.5 703.7L509.8 711.7L506.0 720.0L502.3 728.6L498.5 737.3L494.8 746.1L491.0 754.8L487.2 763.6L483.4 772.6L479.6 781.7L475.8 791.1L472.0 800.6L468.2 810.2L464.4 820.0L460.6 829.8L456.7 839.7L452.9 849.6L449.1 859.6L445.2 869.5L441.3 879.3L437.5 889.0L433.6 898.5L429.7 907.9L425.7 917.1L421.8 926.1L417.9 934.8L413.9 943.2L409.9 951.4L405.9 959.3L401.9 967.2M586.2 415.1L592.1 416.0L597.9 417.0L603.8 418.4L609.7 419.9L615.6 421.5L621.6 423.3L627.5 425.2L633.4 427.1L639.4 429.1L645.4 431.1L651.4 433.1L657.4 435.2L663.4 437.1L669.4 439.1L675.4 441.0L681.4 442.8L687.5 444.5L693.6 446.2L699.6 447.8L705.7 449.3L711.8 450.8L717.9 452.2L724.1 453.5L730.2 454.8L736.3 456.1L742.5 457.3L748.7 458.5L754.9 459.8L761.1 461.1L767.3 462.5L773.5 463.9L779.7 465.5L786.0 467.3L792.2 469.1L798.5 471.1L804.8 473.2L811.1 475.3L817.4 477.5L823.7 479.7L830.1 481.9L836.4 484.2L842.8 486.4L849.2 488.6L855.5 490.8L861.9 493.0L868.3 495.3L874.8 497.5L881.2 499.7L887.7 501.9L894.1 504.2L900.6 506.4L907.1 508.7L913.6 511.1L920.1 513.4L926.6 515.8L933.1 518.2L939.7 520.7L946.2 523.2L952.8 525.7L959.4 528.3L966.0 530.8L972.6 533.4L979.2 536.0L985.9 538.5L992.5 541.0L999.2 543.5L1005.9 545.9L1012.6 548.4L1019.3 550.9L1026.0 553.5L1032.7 556.0L1039.4 558.7L1046.2 561.4L1053.0 564.1L1059.7 566.9L1066.5 569.8L1073.3 572.7L1080.1 575.7L1087.0 578.8L1093.8 581.9L1100.6 585.0L1107.5 588.2L1114.4 591.4L1121.2 594.7L1128.1 598.0L1135.0 601.3L1142.0 604.6L1148.9 608.0L1155.8 611.4L1162.8 614.8L1169.8 618.2L1176.7 621.6L1183.7 625.1L1190.7 628.5L1197.8 631.9L1204.8 635.3M753.5 423.2L750.4 424.3L747.2 425.3L744.1 426.1L740.9 426.9L737.7 427.8L734.5 428.8L731.3 429.8L728.1 431.0L724.9 432.2L721.6 433.5L718.4 435.0L715.1 436.6L711.9 438.3L708.6 440.1L705.3 442.1L702.0 444.2L698.7 446.5L695.4 448.9L692.1 451.5L688.7 454.3L685.4 457.2L682.0 460.3L678.7 463.5L675.3 466.9L671.9 470.3L668.5 473.8L665.1 477.5L661.7 481.4L658.3 485.4L654.9 489.5L651.5 493.9L648.0 498.4L644.6 503.0L641.1 507.8L637.6 512.7L634.2 517.7L630.7 522.9L627.2 528.2L623.7 533.5L620.2 538.9L616.6 544.5L613.1 550.1L609.6 555.7L606.0 561.5L602.5 567.2L598.9 573.0L595.3 578.8L591.7 584.6L588.2 590.4L584.5 596.1L580.9 601.8L577.3 607.5L573.7 613.3L570.0 619.2L566.4 625.2L562.7 631.2L559.1 637.4L555.4 643.7L551.7 650.1L548.0 656.6L544.3 663.3L540.6 670.1L536.9 677.1L533.2 684.3L529.4 691.6L525.7 699.2L522.0 707.0L518.2 715.0L514.5 723.2L510.7 731.7L507.0 740.2L503.2 748.9L499.4 757.7L495.6 766.5L491.9 775.5L488.1 784.7L484.3 794.0L480.5 803.5L476.7 813.1L472.9 822.8L469.0 832.6L465.2 842.4L461.4 852.2L457.5 862.1L453.7 871.9L449.8 881.6L445.9 891.3L442.0 900.8L438.1 910.1L434.2 919.3L430.3 928.3L426.3 937.0L422.4 945.5L418.4 953.9L414.4 962.0L410.4 970.1M581.7 417.8L587.5 418.7L593.4 419.8L599.3 421.2L605.2 422.9L611.1 424.6L617.0 426.5L623.0 428.4L628.9 430.4L634.9 432.5L640.9 434.5L646.9 436.6L652.9 438.6L658.9 440.6L664.9 442.6L671.0 444.5L677.0 446.3L683.1 448.0L689.1 449.6L695.2 451.1L701.3 452.6L707.4 454.0L713.5 455.3L719.7 456.5L725.8 457.7L732.0 458.9L738.1 460.0L744.3 461.1L750.5 462.2L756.7 463.4L762.9 464.7L769.2 466.1L775.4 467.6L781.7 469.4L788.0 471.4L794.2 473.5L800.5 475.7L806.8 478.0L813.2 480.3L819.5 482.7L825.8 485.0L832.2 487.3L838.6 489.6L844.9 491.9L851.3 494.2L857.7 496.5L864.2 498.8L870.6 501.1L877.0 503.4L883.5 505.6L890.0 507.9L896.4 510.3L902.9 512.6L909.4 515.0L916.0 517.4L922.5 519.9L929.0 522.4L935.6 524.9L942.2 527.5L948.7 530.1L955.3 532.7L961.9 535.4L968.6 538.0L975.2 540.6L981.8 543.1L988.5 545.6L995.2 548.0L1001.9 550.3L1008.6 552.7L1015.3 555.1L1022.0 557.5L1028.8 559.9L1035.5 562.5L1042.3 565.0L1049.1 567.7L1055.8 570.4L1062.6 573.2L1069.5 576.0L1076.3 578.9L1083.1 581.9L1090.0 584.9L1096.8 587.9L1103.7 591.1L1110.6 594.2L1117.5 597.4L1124.4 600.6L1131.3 603.9L1138.2 607.2L1145.2 610.5L1152.1 613.9L1159.1 617.2L1166.1 620.6L1173.1 624.0L1180.1 627.4L1187.1 630.9L1194.2 634.3L1201.2 637.7M769.5 427.1L766.3 428.3L763.2 429.4L760.1 430.4L756.9 431.5L753.7 432.5L750.6 433.5L747.4 434.6L744.2 435.7L741.0 437.0L737.8 438.3L734.5 439.7L731.3 441.2L728.0 442.8L724.8 444.5L721.5 446.4L718.2 448.4L715.0 450.5L711.7 452.8L708.3 455.2L705.0 457.9L701.7 460.7L698.4 463.6L695.0 466.8L691.7 470.1L688.3 473.5L684.9 477.2L681.5 481.0L678.1 485.0L674.7 489.2L671.3 493.6L667.9 498.1L664.5 502.7L661.0 507.6L657.6 512.5L654.1 517.6L650.7 522.8L647.2 528.1L643.7 533.5L640.2 539.1L636.7 544.7L633.2 550.3L629.7 556.1L626.2 561.9L622.7 567.7L619.1 573.5L615.6 579.4L612.0 585.2L608.4 591.1L604.9 596.9L601.3 602.7L597.7 608.5L594.0 614.3L590.4 620.1L586.8 626.0L583.2 632.0L579.5 638.0L575.9 644.1L572.2 650.4L568.5 656.7L564.8 663.2L561.1 669.8L557.5 676.6L553.7 683.5L550.0 690.6L546.3 697.9L542.6 705.3L538.9 713.0L535.1 720.8L531.4 728.9L527.6 737.1L523.9 745.5L520.1 754.1L516.4 762.8L512.6 771.7L508.8 780.8L505.0 790.0L501.2 799.4L497.5 808.8L493.7 818.4L489.8 828.1L486.0 837.9L482.2 847.7L478.4 857.5L474.5 867.3L470.7 877.1L466.8 886.8L463.0 896.4L459.1 906.0L455.2 915.4L451.3 924.7L447.3 933.7L443.4 942.7L439.5 951.4L435.5 959.9L431.5 968.3L427.5 976.5M572.4 423.0L578.3 424.0L584.2 425.5L590.1 427.3L596.0 429.2L602.0 431.3L607.9 433.4L613.9 435.5L619.9 437.7L625.9 439.9L631.8 442.0L637.9 444.1L643.9 446.3L649.9 448.3L655.9 450.4L662.0 452.3L668.1 454.1L674.1 455.8L680.2 457.3L686.3 458.7L692.4 460.0L698.5 461.2L704.7 462.4L710.8 463.5L717.0 464.5L723.2 465.5L729.3 466.3L735.5 467.2L741.8 467.9L748.0 468.7L754.2 469.5L760.5 470.5L766.7 472.0L773.0 473.9L779.3 476.3L785.6 478.8L791.9 481.5L798.2 484.1L804.6 486.7L810.9 489.3L817.3 491.9L823.7 494.4L830.0 496.8L836.4 499.3L842.9 501.7L849.3 504.0L855.7 506.4L862.2 508.7L868.6 511.1L875.1 513.5L881.6 515.8L888.1 518.2L894.6 520.6L901.1 523.1L907.7 525.6L914.2 528.1L920.8 530.7L927.4 533.3L933.9 536.0L940.5 538.8L947.1 541.6L953.8 544.5L960.4 547.4L967.0 550.2L973.7 552.7L980.4 555.0L987.1 557.1L993.8 559.2L1000.5 561.2L1007.3 563.3L1014.1 565.4L1020.8 567.6L1027.6 569.9L1034.4 572.3L1041.2 574.8L1048.0 577.3L1054.9 579.9L1061.7 582.6L1068.5 585.3L1075.4 588.1L1082.3 591.0L1089.2 593.9L1096.1 596.9L1103.0 599.9L1109.9 603.0L1116.9 606.1L1123.8 609.3L1130.8 612.5L1137.7 615.7L1144.7 619.0L1151.7 622.3L1158.7 625.6L1165.8 629.0L1172.8 632.4L1179.8 635.8L1186.9 639.2L1194.0 642.7M777.5 429.2L774.4 430.4L771.2 431.5L768.1 432.6L764.9 433.7L761.8 434.7L758.6 435.8L755.4 436.9L752.3 438.0L749.1 439.2L745.9 440.5L742.6 441.9L739.4 443.3L736.2 444.9L732.9 446.6L729.7 448.4L726.4 450.3L723.1 452.4L719.8 454.6L716.5 456.9L713.2 459.5L709.9 462.2L706.5 465.1L703.2 468.2L699.9 471.5L696.5 475.0L693.1 478.7L689.8 482.6L686.4 486.7L683.0 491.0L679.6 495.4L676.2 500.0L672.7 504.8L669.3 509.7L665.9 514.8L662.4 520.0L659.0 525.3L655.5 530.7L652.0 536.2L648.6 541.8L645.1 547.5L641.6 553.2L638.1 559.1L634.5 564.9L631.0 570.8L627.5 576.7L623.9 582.7L620.4 588.5L616.8 594.4L613.2 600.3L609.7 606.1L606.1 611.9L602.5 617.7L598.8 623.5L595.2 629.4L591.6 635.3L587.9 641.3L584.3 647.4L580.6 653.6L577.0 659.9L573.3 666.3L569.6 672.9L565.9 679.6L562.2 686.5L558.5 693.5L554.8 700.7L551.1 708.1L547.3 715.6L543.6 723.4L539.9 731.3L536.1 739.5L532.4 747.9L528.6 756.4L524.9 765.1L521.1 774.1L517.3 783.1L513.5 792.4L509.8 801.8L506.0 811.3L502.2 820.9L498.4 830.7L494.6 840.4L490.7 850.3L486.9 860.1L483.1 870.0L479.2 879.8L475.4 889.5L471.5 899.2L467.6 908.9L463.7 918.3L459.8 927.7L455.9 936.9L452.0 945.9L448.1 954.7L444.1 963.4L440.1 971.8L436.1 980.0M567.8 425.3L573.7 426.6L579.6 428.5L585.5 430.7L591.5 432.9L597.4 435.1L603.4 437.3L609.3 439.5L615.3 441.7L621.3 443.9L627.3 446.1L633.3 448.3L639.3 450.5L645.4 452.6L651.4 454.7L657.5 456.7L663.6 458.6L669.6 460.2L675.7 461.6L681.8 462.9L688.0 464.1L694.1 465.3L700.2 466.4L706.4 467.5L712.5 468.4L718.7 469.3L724.9 470.1L731.1 470.8L737.3 471.4L743.6 471.9L749.8 472.4L756.1 472.9L762.4 474.1L768.7 476.3L775.0 479.2L781.3 482.1L787.6 485.0L793.9 487.8L800.3 490.5L806.6 493.2L813.0 495.8L819.4 498.3L825.8 500.8L832.2 503.3L838.6 505.7L845.0 508.1L851.5 510.5L857.9 512.8L864.4 515.2L870.9 517.5L877.4 519.9L883.9 522.3L890.4 524.7L896.9 527.2L903.5 529.7L910.1 532.2L916.6 534.8L923.2 537.5L929.8 540.2L936.4 543.1L943.0 546.0L949.7 549.0L956.3 552.0L962.9 555.1L969.6 557.8L976.3 559.9L983.0 561.7L989.8 563.4L996.5 565.3L1003.3 567.2L1010.1 569.2L1016.8 571.3L1023.6 573.6L1030.4 575.9L1037.3 578.3L1044.1 580.7L1050.9 583.3L1057.8 585.9L1064.7 588.6L1071.5 591.3L1078.4 594.1L1085.3 597.0L1092.2 599.9L1099.2 602.8L1106.1 605.9L1113.1 608.9L1120.0 612.0L1127.0 615.2L1134.0 618.4L1141.0 621.6L1148.0 624.9L1155.0 628.2L1162.1 631.6L1169.1 634.9L1176.2 638.4L1183.3 641.8L1190.3 645.3M793.5 433.6L790.4 434.8L787.3 436.0L784.2 437.1L781.1 438.1L777.9 439.2L774.8 440.2L771.6 441.3L768.5 442.4L765.3 443.6L762.1 444.8L758.9 446.1L755.7 447.5L752.5 449.0L749.2 450.5L746.0 452.2L742.7 453.9L739.5 455.8L736.2 457.8L732.9 460.0L729.6 462.3L726.3 464.9L723.0 467.6L719.7 470.6L716.3 473.9L713.0 477.4L709.6 481.3L706.3 485.3L702.9 489.7L699.5 494.2L696.1 498.9L692.7 503.7L689.3 508.7L685.9 513.9L682.5 519.1L679.1 524.5L675.6 530.0L672.2 535.6L668.7 541.3L665.2 547.1L661.8 553.0L658.3 559.0L654.8 565.0L651.3 571.1L647.8 577.2L644.3 583.3L640.7 589.4L637.2 595.4L633.6 601.3L630.1 607.2L626.5 613.0L622.9 618.7L619.3 624.4L615.7 630.2L612.1 635.9L608.5 641.8L604.9 647.7L601.2 653.6L597.6 659.7L593.9 665.9L590.3 672.2L586.6 678.7L582.9 685.3L579.2 692.0L575.5 698.9L571.8 705.9L568.1 713.1L564.4 720.4L560.6 728.0L556.9 735.7L553.2 743.7L549.4 752.0L545.7 760.4L541.9 769.2L538.2 778.2L534.4 787.4L530.6 796.8L526.9 806.3L523.1 816.0L519.3 825.8L515.5 835.6L511.7 845.5L507.9 855.5L504.1 865.5L500.2 875.4L496.4 885.4L492.6 895.3L488.7 905.2L484.8 915.0L481.0 924.7L477.1 934.3L473.2 943.8L469.3 953.1L465.3 962.2L461.4 971.0L457.4 979.6L453.4 987.8M558.5 434.3L564.4 435.6L570.3 437.5L576.3 439.7L582.2 441.9L588.2 444.1L594.2 446.3L600.2 448.5L606.2 450.7L612.2 452.9L618.2 455.1L624.2 457.3L630.2 459.5L636.3 461.6L642.4 463.7L648.4 465.7L654.5 467.6L660.6 469.2L666.7 470.6L672.8 471.9L679.0 473.2L685.1 474.4L691.3 475.5L697.4 476.5L703.6 477.5L709.8 478.4L716.0 479.2L722.2 479.9L728.5 480.5L734.7 481.1L741.0 481.5L747.3 482.1L753.6 483.2L759.9 485.4L766.2 488.3L772.5 491.2L778.8 494.1L785.2 496.9L791.6 499.6L797.9 502.2L804.3 504.8L810.7 507.3L817.1 509.8L823.6 512.2L830.0 514.6L836.4 516.9L842.9 519.2L849.4 521.5L855.9 523.8L862.4 526.1L868.9 528.5L875.4 530.8L882.0 533.1L888.5 535.5L895.1 538.0L901.7 540.4L908.3 543.0L914.9 545.6L921.5 548.2L928.1 551.0L934.8 553.8L941.4 556.8L948.1 559.8L954.7 562.8L961.4 565.4L968.2 567.5L974.9 569.1L981.7 570.8L988.4 572.6L995.2 574.4L1002.0 576.4L1008.8 578.4L1015.6 580.6L1022.5 582.8L1029.3 585.1L1036.2 587.5L1043.0 589.9L1049.9 592.4L1056.8 595.0L1063.7 597.6L1070.6 600.4L1077.6 603.1L1084.5 605.9L1091.5 608.8L1098.4 611.7L1105.4 614.7L1112.4 617.7L1119.4 620.8L1126.4 623.9L1133.5 627.0L1140.5 630.3L1147.5 633.5L1154.6 636.8L1161.7 640.2L1168.8 643.6L1175.9 647.1L1183.0 650.6M801.6 435.9L798.5 437.1L795.4 438.3L792.3 439.4L789.2 440.4L786.1 441.4L782.9 442.5L779.8 443.5L776.6 444.6L773.4 445.7L770.3 446.9L767.1 448.2L763.9 449.5L760.7 451.0L757.4 452.5L754.2 454.0L751.0 455.7L747.7 457.5L744.4 459.4L741.2 461.4L737.9 463.6L734.6 466.0L731.3 468.7L727.9 471.6L724.6 474.8L721.3 478.4L717.9 482.3L714.6 486.5L711.2 491.0L707.8 495.7L704.5 500.5L701.1 505.5L697.7 510.6L694.3 515.9L690.8 521.3L687.4 526.7L684.0 532.3L680.5 538.0L677.1 543.8L673.6 549.7L670.2 555.7L666.7 561.8L663.2 568.0L659.7 574.2L656.2 580.4L652.7 586.6L649.2 592.8L645.6 598.9L642.1 604.9L638.5 610.8L635.0 616.5L631.4 622.2L627.8 627.8L624.2 633.5L620.6 639.1L617.0 644.9L613.4 650.7L609.7 656.6L606.1 662.6L602.4 668.8L598.8 675.0L595.1 681.4L591.4 687.9L587.7 694.6L584.0 701.4L580.3 708.3L576.6 715.4L572.9 722.6L569.2 730.0L565.5 737.7L561.7 745.5L558.0 753.7L554.2 762.1L550.5 770.9L546.7 780.0L543.0 789.3L539.2 798.8L535.4 808.4L531.7 818.2L527.9 828.1L524.1 838.1L520.3 848.1L516.5 858.1L512.7 868.2L508.9 878.2L505.0 888.3L501.2 898.3L497.4 908.3L493.5 918.2L489.6 928.0L485.7 937.8L481.8 947.4L477.9 956.9L474.0 966.2L470.1 975.2L466.1 983.9L462.1 992.2M553.9 441.0L559.8 442.0L565.7 443.5L571.7 445.3L577.6 447.3L583.6 449.3L589.6 451.4L595.5 453.6L601.5 455.7L607.6 457.9L613.6 460.0L619.6 462.2L625.7 464.3L631.7 466.3L637.8 468.4L643.9 470.3L650.0 472.1L656.1 473.8L662.2 475.3L668.3 476.7L674.5 478.1L680.6 479.3L686.8 480.5L692.9 481.6L699.1 482.7L705.3 483.6L711.6 484.6L717.8 485.4L724.0 486.2L730.3 487.0L736.6 487.8L742.8 488.8L749.1 490.2L755.4 492.2L761.8 494.5L768.1 497.1L774.4 499.7L780.8 502.3L787.2 504.9L793.6 507.4L800.0 509.9L806.4 512.3L812.8 514.7L819.2 517.1L825.7 519.4L832.1 521.7L838.6 523.9L845.1 526.2L851.6 528.4L858.1 530.6L864.6 532.9L871.2 535.2L877.7 537.5L884.3 539.8L890.9 542.1L897.5 544.5L904.1 547.0L910.7 549.5L917.3 552.1L923.9 554.7L930.6 557.4L937.3 560.1L943.9 562.9L950.6 565.5L957.3 568.0L964.1 570.1L970.8 572.1L977.6 574.0L984.4 575.8L991.2 577.7L998.0 579.7L1004.8 581.8L1011.6 583.9L1018.5 586.2L1025.3 588.4L1032.2 590.8L1039.1 593.2L1046.0 595.7L1052.9 598.3L1059.8 600.9L1066.7 603.5L1073.7 606.3L1080.6 609.0L1087.6 611.8L1094.6 614.7L1101.6 617.6L1108.6 620.6L1115.6 623.6L1122.6 626.7L1129.7 629.8L1136.7 633.0L1143.8 636.3L1150.9 639.6L1157.9 642.9L1165.1 646.3L1172.2 649.8L1179.3 653.3M817.8 440.9L814.7 442.1L811.6 443.1L808.6 444.0L805.5 445.0L802.3 445.9L799.2 446.8L796.1 447.8L793.0 448.9L789.8 450.0L786.6 451.1L783.5 452.4L780.3 453.6L777.1 455.0L773.9 456.4L770.7 457.8L767.4 459.4L764.2 461.0L761.0 462.7L757.7 464.4L754.4 466.3L751.2 468.3L747.9 470.4L744.6 473.0L741.2 476.1L737.9 479.8L734.6 484.1L731.3 488.8L727.9 493.7L724.5 498.7L721.2 503.9L717.8 509.1L714.4 514.5L711.0 519.9L707.6 525.5L704.2 531.1L700.8 536.9L697.4 542.7L693.9 548.7L690.5 554.7L687.0 560.9L683.5 567.2L680.1 573.5L676.6 580.0L673.1 586.6L669.6 593.2L666.1 599.8L662.6 606.3L659.0 612.5L655.5 618.2L651.9 623.7L648.4 629.0L644.8 634.3L641.2 639.7L637.6 645.1L634.0 650.7L630.4 656.4L626.8 662.2L623.2 668.1L619.5 674.1L615.9 680.3L612.2 686.6L608.5 693.0L604.9 699.5L601.2 706.2L597.5 712.9L593.8 719.8L590.1 726.8L586.4 733.9L582.6 741.2L578.9 748.6L575.2 756.4L571.4 764.8L567.7 773.7L564.0 783.1L560.2 792.8L556.5 802.7L552.7 812.7L548.9 822.8L545.2 832.9L541.4 843.0L537.6 853.2L533.8 863.4L530.0 873.6L526.2 883.8L522.4 894.0L518.5 904.2L514.7 914.4L510.9 924.6L507.0 934.7L503.1 944.8L499.3 954.8L495.4 964.8L491.5 974.6L487.6 984.2L483.6 993.4L479.7 1001.9M544.6 453.9L550.5 454.8L556.4 456.0L562.4 457.4L568.3 459.0L574.3 460.7L580.3 462.6L586.3 464.5L592.3 466.5L598.3 468.5L604.4 470.6L610.4 472.6L616.5 474.6L622.5 476.6L628.6 478.6L634.7 480.5L640.8 482.3L646.9 484.0L653.1 485.7L659.2 487.2L665.4 488.7L671.5 490.2L677.7 491.5L683.9 492.9L690.1 494.1L696.3 495.3L702.6 496.5L708.8 497.6L715.1 498.8L721.3 500.0L727.6 501.3L733.9 502.7L740.2 504.3L746.5 506.0L752.9 508.0L759.2 510.1L765.6 512.2L772.0 514.4L778.4 516.7L784.8 518.9L791.2 521.1L797.6 523.3L804.0 525.5L810.5 527.6L817.0 529.7L823.4 531.8L829.9 533.9L836.4 536.0L843.0 538.0L849.5 540.1L856.0 542.2L862.6 544.2L869.2 546.3L875.8 548.5L882.4 550.6L889.0 552.8L895.6 555.0L902.2 557.3L908.9 559.6L915.6 561.9L922.2 564.3L928.9 566.7L935.6 569.0L942.4 571.3L949.1 573.6L955.8 575.8L962.6 577.9L969.4 580.0L976.2 582.0L983.0 584.1L989.8 586.2L996.7 588.4L1003.5 590.6L1010.4 592.9L1017.3 595.2L1024.2 597.5L1031.1 600.0L1038.0 602.4L1044.9 604.9L1051.8 607.5L1058.8 610.1L1065.8 612.8L1072.8 615.4L1079.8 618.2L1086.8 621.0L1093.8 623.8L1100.8 626.7L1107.9 629.6L1114.9 632.6L1122.0 635.7L1129.1 638.8L1136.2 642.0L1143.3 645.2L1150.4 648.5L1157.5 651.9L1164.7 655.4L1171.8 659.0M825.9 443.6L822.9 444.7L819.8 445.5L816.7 446.3L813.6 447.1L810.5 448.0L807.4 449.0L804.3 449.9L801.2 451.0L798.0 452.1L794.9 453.2L791.7 454.4L788.5 455.7L785.3 457.0L782.2 458.4L778.9 459.9L775.7 461.3L772.5 462.9L769.3 464.5L766.0 466.1L762.8 467.8L759.5 469.6L756.2 471.4L752.9 473.5L749.6 476.2L746.3 480.3L743.0 485.1L739.6 490.1L736.3 495.3L732.9 500.5L729.6 505.7L726.2 511.1L722.8 516.5L719.4 522.0L716.0 527.6L712.6 533.3L709.2 539.1L705.8 544.9L702.4 550.9L698.9 557.0L695.5 563.3L692.0 569.6L688.5 576.1L685.1 582.7L681.6 589.4L678.1 596.2L674.6 603.2L671.1 610.1L667.6 616.6L664.0 622.1L660.5 627.1L656.9 632.1L653.3 637.2L649.8 642.4L646.2 647.8L642.6 653.3L639.0 658.9L635.4 664.7L631.7 670.6L628.1 676.6L624.5 682.8L620.8 689.1L617.1 695.5L613.5 702.0L609.8 708.6L606.1 715.3L602.4 722.1L598.7 729.0L595.0 735.9L591.3 743.0L587.5 750.1L583.8 757.5L580.1 765.6L576.3 774.8L572.6 784.6L568.9 794.7L565.1 804.8L561.4 815.0L557.6 825.2L553.8 835.4L550.1 845.6L546.3 855.9L542.5 866.1L538.7 876.4L534.9 886.6L531.1 896.9L527.3 907.2L523.4 917.4L519.6 927.6L515.7 937.9L511.9 948.1L508.0 958.3L504.1 968.5L500.2 978.6L496.3 988.7L492.4 998.5L488.5 1007.5M539.9 460.3L545.8 461.1L551.8 462.3L557.7 463.6L563.7 465.1L569.6 466.7L575.6 468.5L581.6 470.3L587.7 472.2L593.7 474.2L599.7 476.2L605.8 478.2L611.9 480.2L617.9 482.1L624.0 484.1L630.1 486.0L636.2 487.8L642.4 489.6L648.5 491.3L654.6 493.0L660.8 494.5L667.0 496.1L673.2 497.5L679.4 498.9L685.6 500.3L691.8 501.6L698.0 503.0L704.3 504.3L710.6 505.6L716.8 506.9L723.1 508.3L729.4 509.8L735.7 511.4L742.1 513.1L748.4 515.0L754.8 516.9L761.1 518.9L767.5 520.9L773.9 523.0L780.3 525.1L786.8 527.2L793.2 529.2L799.6 531.3L806.1 533.3L812.6 535.3L819.1 537.2L825.6 539.2L832.1 541.2L838.6 543.1L845.2 545.1L851.7 547.0L858.3 549.0L864.9 550.9L871.5 552.9L878.1 555.0L884.7 557.0L891.3 559.1L898.0 561.2L904.7 563.4L911.3 565.6L918.0 567.8L924.7 570.0L931.5 572.2L938.2 574.5L944.9 576.6L951.7 578.8L958.5 580.9L965.3 583.1L972.1 585.2L978.9 587.3L985.7 589.5L992.6 591.7L999.4 594.0L1006.3 596.3L1013.2 598.6L1020.1 601.0L1027.0 603.4L1034.0 605.9L1040.9 608.4L1047.9 610.9L1054.8 613.5L1061.8 616.1L1068.8 618.8L1075.8 621.5L1082.8 624.2L1089.9 627.0L1096.9 629.9L1104.0 632.7L1111.1 635.7L1118.1 638.7L1125.2 641.8L1132.4 644.9L1139.5 648.1L1146.6 651.4L1153.8 654.8L1160.9 658.3L1168.1 661.9M842.2 447.3L839.2 448.4L836.2 449.3L833.1 450.1L830.0 451.0L826.9 451.9L823.9 452.9L820.8 454.0L817.6 455.1L814.5 456.2L811.4 457.4L808.2 458.7L805.1 460.0L801.9 461.4L798.7 462.8L795.6 464.3L792.4 465.8L789.1 467.3L785.9 469.0L782.7 470.6L779.5 472.3L776.2 474.1L772.9 475.9L769.7 478.0L766.4 480.7L763.1 484.8L759.8 489.6L756.4 494.6L753.1 499.7L749.8 504.9L746.4 510.2L743.1 515.5L739.7 520.9L736.3 526.4L732.9 532.0L729.6 537.6L726.1 543.4L722.7 549.2L719.3 555.2L715.9 561.3L712.5 567.5L709.0 573.8L705.5 580.3L702.1 586.9L698.6 593.6L695.1 600.4L691.6 607.4L688.1 614.3L684.6 620.8L681.1 626.3L677.6 631.3L674.0 636.4L670.5 641.5L666.9 646.7L663.3 652.2L659.8 657.7L656.2 663.4L652.6 669.2L648.9 675.2L645.3 681.3L641.7 687.5L638.1 693.8L634.4 700.2L630.8 706.8L627.1 713.4L623.4 720.2L619.7 727.0L616.0 734.0L612.3 741.0L608.6 748.1L604.9 755.2L601.2 762.7L597.4 770.7L593.7 780.0L590.0 789.9L586.3 800.0L582.5 810.1L578.8 820.3L575.0 830.6L571.3 840.8L567.5 851.1L563.7 861.3L560.0 871.6L556.2 881.9L552.4 892.2L548.6 902.5L544.7 912.8L540.9 923.1L537.1 933.4L533.2 943.6L529.4 953.9L525.5 964.1L521.7 974.3L517.8 984.5L513.9 994.6L510.0 1004.5L506.0 1013.4M530.5 472.9L536.4 473.7L542.4 474.8L548.3 476.1L554.3 477.4L560.3 479.0L566.3 480.6L572.3 482.4L578.3 484.2L584.4 486.1L590.4 488.0L596.5 489.9L602.6 491.9L608.7 493.9L614.8 495.8L620.9 497.8L627.0 499.7L633.1 501.6L639.3 503.4L645.5 505.2L651.6 506.9L657.8 508.6L664.0 510.3L670.2 511.9L676.5 513.5L682.7 515.1L689.0 516.6L695.2 518.2L701.5 519.7L707.8 521.2L714.1 522.8L720.4 524.4L726.7 526.0L733.1 527.7L739.4 529.4L745.8 531.1L752.2 532.9L758.6 534.7L765.0 536.4L771.4 538.2L777.9 540.0L784.3 541.8L790.8 543.5L797.3 545.3L803.8 547.0L810.3 548.7L816.8 550.4L823.3 552.1L829.9 553.8L836.4 555.5L843.0 557.1L849.6 558.8L856.2 560.5L862.8 562.2L869.5 564.0L876.1 565.7L882.8 567.5L889.4 569.4L896.1 571.2L902.8 573.1L909.6 575.0L916.3 577.0L923.0 579.0L929.8 581.1L936.6 583.1L943.3 585.2L950.1 587.4L957.0 589.5L963.8 591.7L970.6 594.0L977.5 596.3L984.4 598.6L991.2 600.9L998.1 603.3L1005.0 605.7L1012.0 608.2L1018.9 610.7L1025.9 613.2L1032.8 615.7L1039.8 618.2L1046.8 620.8L1053.8 623.3L1060.8 625.9L1067.9 628.6L1074.9 631.2L1082.0 633.9L1089.1 636.6L1096.1 639.4L1103.2 642.2L1110.4 645.1L1117.5 648.0L1124.6 651.1L1131.8 654.2L1139.0 657.4L1146.1 660.8L1153.3 664.3L1160.5 667.9M850.5 448.3L847.4 449.6L844.4 450.7L841.3 451.7L838.3 452.7L835.2 453.7L832.1 454.8L829.0 455.9L825.9 457.0L822.8 458.3L819.7 459.5L816.5 460.8L813.4 462.2L810.2 463.6L807.1 465.1L803.9 466.6L800.7 468.2L797.5 469.9L794.3 471.6L791.1 473.4L787.8 475.3L784.6 477.3L781.3 479.5L778.1 482.0L774.8 485.1L771.5 488.8L768.2 493.1L764.9 497.8L761.6 502.6L758.2 507.7L754.9 512.8L751.5 518.0L748.2 523.3L744.8 528.7L741.4 534.2L738.0 539.8L734.7 545.5L731.2 551.3L727.8 557.2L724.4 563.2L721.0 569.4L717.5 575.6L714.1 581.9L710.6 588.4L707.2 595.0L703.7 601.6L700.2 608.2L696.7 614.7L693.2 620.9L689.7 626.7L686.2 632.2L682.6 637.5L679.1 642.9L675.5 648.3L672.0 653.9L668.4 659.5L664.8 665.3L661.2 671.2L657.6 677.2L654.0 683.4L650.4 689.7L646.7 696.1L643.1 702.6L639.4 709.2L635.8 715.9L632.1 722.8L628.4 729.7L624.7 736.8L621.0 744.0L617.3 751.3L613.6 758.9L609.9 766.7L606.2 775.1L602.5 784.1L598.8 793.6L595.0 803.4L591.3 813.3L587.6 823.4L583.8 833.6L580.1 843.7L576.3 854.0L572.5 864.2L568.7 874.5L564.9 884.7L561.2 895.0L557.3 905.3L553.5 915.5L549.7 925.8L545.9 936.0L542.0 946.2L538.2 956.4L534.3 966.5L530.4 976.5L526.6 986.4L522.7 996.0L518.8 1005.3L514.8 1013.9M525.7 479.1L531.7 480.0L537.6 481.1L543.6 482.3L549.6 483.7L555.6 485.2L561.6 486.8L567.6 488.6L573.6 490.4L579.7 492.2L585.7 494.1L591.8 496.1L597.9 498.1L604.0 500.1L610.1 502.1L616.2 504.0L622.4 506.0L628.5 507.9L634.7 509.8L640.8 511.7L647.0 513.5L653.2 515.3L659.4 517.1L665.6 518.8L671.9 520.5L678.1 522.2L684.4 523.8L690.7 525.4L696.9 527.1L703.2 528.7L709.6 530.3L715.9 531.9L722.2 533.5L728.6 535.2L734.9 536.8L741.3 538.5L747.7 540.1L754.1 541.8L760.5 543.5L767.0 545.1L773.4 546.7L779.9 548.4L786.3 550.0L792.8 551.6L799.3 553.2L805.8 554.7L812.4 556.3L818.9 557.8L825.5 559.4L832.0 560.9L838.6 562.4L845.2 564.0L851.8 565.5L858.5 567.1L865.1 568.7L871.8 570.3L878.5 571.9L885.1 573.6L891.8 575.3L898.6 577.0L905.3 578.8L912.0 580.7L918.8 582.6L925.6 584.5L932.3 586.6L939.1 588.6L945.9 590.8L952.8 592.9L959.6 595.2L966.5 597.5L973.3 599.8L980.2 602.2L987.1 604.6L994.0 607.1L1000.9 609.5L1007.9 612.0L1014.8 614.5L1021.8 617.0L1028.7 619.6L1035.7 622.1L1042.7 624.7L1049.8 627.2L1056.8 629.8L1063.9 632.4L1070.9 634.9L1078.0 637.6L1085.1 640.2L1092.2 642.9L1099.3 645.6L1106.4 648.4L1113.6 651.3L1120.7 654.3L1127.9 657.4L1135.1 660.6L1142.3 663.9L1149.5 667.4L1156.7 671.0M866.9 450.7L863.9 452.1L860.9 453.4L857.9 454.6L854.8 455.9L851.8 457.1L848.7 458.4L845.6 459.7L842.5 461.0L839.4 462.4L836.3 463.8L833.2 465.2L830.1 466.8L826.9 468.4L823.8 470.0L820.6 471.7L817.5 473.5L814.3 475.4L811.1 477.4L807.9 479.5L804.7 481.7L801.4 484.1L798.2 486.8L794.9 489.7L791.7 492.9L788.4 496.5L785.1 500.4L781.8 504.6L778.5 509.0L775.2 513.6L771.9 518.4L768.5 523.3L765.2 528.3L761.9 533.5L758.5 538.8L755.1 544.2L751.7 549.7L748.3 555.3L744.9 561.0L741.5 566.8L738.1 572.7L734.7 578.7L731.2 584.7L727.8 590.9L724.3 597.1L720.9 603.3L717.4 609.5L713.9 615.6L710.4 621.7L706.9 627.6L703.4 633.4L699.9 639.2L696.4 645.0L692.8 650.8L689.3 656.6L685.7 662.6L682.1 668.6L678.5 674.7L675.0 680.9L671.4 687.3L667.7 693.8L664.1 700.4L660.5 707.1L656.9 713.9L653.2 720.9L649.6 728.0L645.9 735.3L642.2 742.7L638.6 750.3L634.9 758.0L631.2 766.1L627.5 774.4L623.8 783.0L620.1 791.9L616.3 801.1L612.6 810.5L608.9 820.2L605.2 830.0L601.4 839.9L597.7 849.9L593.9 860.0L590.1 870.1L586.4 880.3L582.6 890.4L578.8 900.6L575.0 910.8L571.2 920.9L567.4 931.0L563.5 941.1L559.7 951.0L555.8 960.9L552.0 970.7L548.1 980.3L544.2 989.7L540.3 998.9L536.4 1007.7L532.5 1016.1M516.2 491.6L522.2 492.5L528.1 493.6L534.1 494.9L540.1 496.3L546.1 497.8L552.1 499.5L558.2 501.2L564.2 503.0L570.3 504.9L576.3 506.9L582.4 508.9L588.5 510.9L594.6 513.0L600.8 515.1L606.9 517.1L613.0 519.2L619.2 521.3L625.4 523.3L631.6 525.3L637.8 527.3L644.0 529.3L650.2 531.2L656.4 533.1L662.7 535.0L668.9 536.9L675.2 538.8L681.5 540.6L687.8 542.4L694.1 544.1L700.4 545.8L706.8 547.5L713.1 549.1L719.5 550.7L725.9 552.3L732.2 553.8L738.6 555.2L745.1 556.7L751.5 558.1L757.9 559.5L764.4 560.8L770.9 562.2L777.4 563.5L783.9 564.8L790.4 566.1L796.9 567.4L803.5 568.6L810.0 569.9L816.6 571.1L823.2 572.4L829.8 573.6L836.4 574.8L843.1 576.1L849.7 577.3L856.4 578.5L863.1 579.8L869.8 581.1L876.5 582.4L883.2 583.8L889.9 585.2L896.7 586.7L903.5 588.3L910.2 590.0L917.0 591.8L923.8 593.7L930.7 595.8L937.5 597.9L944.3 600.1L951.2 602.5L958.1 604.9L965.0 607.4L971.8 609.9L978.8 612.5L985.7 615.1L992.6 617.7L999.6 620.3L1006.5 622.9L1013.5 625.5L1020.5 628.1L1027.5 630.6L1034.6 633.2L1041.6 635.7L1048.7 638.2L1055.8 640.6L1062.8 643.1L1070.0 645.6L1077.1 648.1L1084.2 650.5L1091.4 653.1L1098.5 655.7L1105.7 658.3L1112.9 661.1L1120.1 664.0L1127.3 667.0L1134.5 670.3L1141.8 673.7L1149.0 677.3M875.2 452.0L872.2 453.4L869.2 454.8L866.2 456.1L863.1 457.5L860.1 458.8L857.0 460.2L853.9 461.5L850.9 463.0L847.8 464.4L844.7 465.9L841.6 467.5L838.5 469.1L835.3 470.8L832.2 472.6L829.0 474.4L825.9 476.3L822.7 478.3L819.5 480.4L816.3 482.6L813.1 485.0L809.9 487.6L806.7 490.3L803.4 493.3L800.2 496.6L796.9 500.1L793.6 503.9L790.3 507.9L787.0 512.2L783.7 516.6L780.4 521.2L777.1 526.0L773.8 530.9L770.4 535.9L767.0 541.1L763.7 546.3L760.3 551.7L756.9 557.2L753.5 562.7L750.1 568.4L746.7 574.2L743.3 580.0L739.9 586.0L736.4 592.0L733.0 598.0L729.5 604.1L726.0 610.1L722.6 616.2L719.1 622.2L715.6 628.1L712.1 634.1L708.6 640.0L705.0 645.9L701.5 651.8L698.0 657.8L694.4 663.9L690.8 670.0L687.3 676.3L683.7 682.6L680.1 689.1L676.5 695.7L672.9 702.4L669.2 709.3L665.6 716.2L662.0 723.4L658.3 730.6L654.7 738.0L651.0 745.6L647.3 753.3L643.7 761.3L640.0 769.4L636.3 777.9L632.6 786.5L628.9 795.4L625.2 804.6L621.5 814.0L617.7 823.6L614.0 833.3L610.3 843.1L606.5 853.1L602.7 863.1L599.0 873.1L595.2 883.2L591.4 893.3L587.6 903.4L583.8 913.5L580.0 923.6L576.2 933.6L572.4 943.6L568.6 953.5L564.7 963.2L560.9 972.9L557.0 982.3L553.1 991.6L549.2 1000.6L545.3 1009.3L541.4 1017.7M511.4 497.7L517.4 498.7L523.4 499.9L529.3 501.2L535.3 502.6L541.3 504.2L547.4 505.9L553.4 507.6L559.5 509.5L565.5 511.5L571.6 513.5L577.7 515.5L583.8 517.6L589.9 519.7L596.1 521.8L602.2 524.0L608.4 526.1L614.5 528.2L620.7 530.3L626.9 532.4L633.1 534.5L639.3 536.5L645.6 538.6L651.8 540.6L658.0 542.6L664.3 544.5L670.6 546.5L676.9 548.4L683.2 550.3L689.5 552.1L695.8 553.9L702.2 555.6L708.5 557.2L714.9 558.8L721.3 560.2L727.7 561.7L734.1 563.1L740.5 564.4L747.0 565.7L753.4 566.9L759.9 568.1L766.4 569.3L772.9 570.5L779.4 571.7L785.9 572.8L792.4 574.0L799.0 575.1L805.6 576.2L812.2 577.3L818.8 578.4L825.4 579.5L832.0 580.5L838.6 581.6L845.3 582.7L852.0 583.7L858.7 584.8L865.4 585.9L872.1 587.1L878.8 588.3L885.6 589.5L892.4 590.9L899.1 592.3L905.9 593.9L912.7 595.6L919.6 597.5L926.4 599.5L933.2 601.6L940.1 603.9L947.0 606.4L953.8 608.9L960.7 611.5L967.6 614.1L974.6 616.8L981.5 619.5L988.4 622.2L995.4 624.9L1002.4 627.5L1009.4 630.2L1016.4 632.8L1023.4 635.3L1030.5 637.9L1037.5 640.4L1044.6 642.8L1051.7 645.2L1058.8 647.6L1065.9 650.0L1073.0 652.4L1080.2 654.8L1087.4 657.2L1094.5 659.6L1101.7 662.1L1108.9 664.7L1116.2 667.5L1123.4 670.4L1130.6 673.5L1137.9 676.9L1145.1 680.6M891.8 454.9L888.8 456.3L885.8 457.8L882.8 459.3L879.8 460.8L876.8 462.3L873.7 463.8L870.7 465.4L867.6 467.0L864.5 468.6L861.5 470.3L858.4 472.1L855.3 473.9L852.2 475.8L849.0 477.8L845.9 479.8L842.8 481.9L839.6 484.1L836.4 486.5L833.2 488.9L830.1 491.5L826.9 494.2L823.6 497.1L820.4 500.2L817.2 503.5L813.9 506.9L810.7 510.6L807.4 514.4L804.1 518.4L800.8 522.6L797.5 526.9L794.2 531.4L790.9 536.0L787.6 540.8L784.2 545.6L780.9 550.6L777.5 555.7L774.2 560.9L770.8 566.2L767.4 571.6L764.0 577.0L760.6 582.6L757.2 588.3L753.7 594.0L750.3 599.8L746.9 605.6L743.4 611.5L739.9 617.5L736.5 623.4L733.0 629.4L729.5 635.4L726.0 641.4L722.5 647.5L718.9 653.7L715.4 659.9L711.9 666.2L708.3 672.6L704.8 679.1L701.2 685.7L697.6 692.5L694.0 699.3L690.4 706.3L686.8 713.4L683.2 720.6L679.6 728.0L676.0 735.6L672.3 743.2L668.7 751.1L665.0 759.1L661.3 767.3L657.7 775.7L654.0 784.3L650.3 793.1L646.6 802.1L642.9 811.3L639.2 820.6L635.5 830.1L631.7 839.7L628.0 849.5L624.3 859.3L620.5 869.2L616.8 879.2L613.0 889.2L609.2 899.2L605.4 909.2L601.7 919.2L597.9 929.1L594.0 939.0L590.2 948.8L586.4 958.5L582.5 968.1L578.7 977.5L574.8 986.8L571.0 995.9L567.1 1004.7L563.2 1013.4L559.2 1021.8M501.8 510.1L507.8 511.1L513.7 512.3L519.7 513.8L525.7 515.3L531.8 517.0L537.8 518.8L543.9 520.7L549.9 522.7L556.0 524.8L562.1 526.9L568.2 529.1L574.3 531.3L580.5 533.6L586.6 535.8L592.8 538.1L599.0 540.4L605.1 542.6L611.3 544.8L617.5 547.1L623.8 549.3L630.0 551.5L636.2 553.7L642.5 555.9L648.7 558.1L655.0 560.3L661.3 562.4L667.6 564.6L673.9 566.6L680.3 568.6L686.6 570.5L693.0 572.3L699.3 574.0L705.7 575.5L712.1 576.9L718.5 578.1L725.0 579.3L731.4 580.3L737.8 581.3L744.3 582.3L750.8 583.3L757.3 584.2L763.8 585.1L770.3 586.0L776.9 586.9L783.4 587.7L790.0 588.6L796.6 589.4L803.2 590.3L809.8 591.1L816.4 591.8L823.1 592.6L829.7 593.4L836.4 594.1L843.1 594.8L849.8 595.6L856.6 596.3L863.3 597.0L870.1 597.8L876.9 598.6L883.6 599.6L890.4 600.7L897.3 601.9L904.1 603.4L910.9 605.2L917.8 607.2L924.7 609.5L931.5 612.0L938.4 614.7L945.3 617.5L952.2 620.4L959.1 623.3L966.1 626.3L973.0 629.2L980.0 632.1L987.0 635.0L994.0 637.8L1001.0 640.5L1008.0 643.2L1015.1 645.8L1022.1 648.4L1029.2 650.9L1036.3 653.3L1043.4 655.6L1050.5 657.8L1057.7 660.0L1064.9 662.1L1072.1 664.2L1079.3 666.3L1086.5 668.4L1093.7 670.5L1101.0 672.6L1108.2 675.0L1115.5 677.5L1122.7 680.3L1130.0 683.5L1137.3 687.1M900.2 456.4L897.2 457.9L894.2 459.4L891.2 460.9L888.2 462.5L885.1 464.0L882.1 465.7L879.1 467.3L876.0 469.0L873.0 470.8L869.9 472.6L866.8 474.4L863.7 476.3L860.6 478.3L857.5 480.4L854.4 482.5L851.2 484.8L848.1 487.1L844.9 489.5L841.8 492.0L838.6 494.7L835.4 497.5L832.2 500.4L829.0 503.5L825.7 506.8L822.5 510.2L819.2 513.8L816.0 517.5L812.7 521.5L809.4 525.5L806.1 529.7L802.8 534.1L799.5 538.5L796.2 543.1L792.9 547.8L789.5 552.7L786.2 557.6L782.8 562.7L779.5 567.8L776.1 573.1L772.7 578.4L769.3 583.9L765.9 589.4L762.4 595.0L759.0 600.7L755.6 606.4L752.1 612.3L748.7 618.1L745.2 624.1L741.7 630.0L738.2 636.1L734.7 642.2L731.2 648.3L727.7 654.6L724.2 660.9L720.7 667.3L717.1 673.8L713.6 680.5L710.0 687.2L706.4 694.0L702.8 701.0L699.3 708.1L695.7 715.3L692.0 722.7L688.4 730.2L684.8 737.9L681.2 745.7L677.5 753.7L673.9 761.8L670.2 770.1L666.5 778.6L662.9 787.3L659.2 796.2L655.5 805.2L651.8 814.4L648.1 823.8L644.4 833.3L640.7 842.9L636.9 852.6L633.2 862.4L629.4 872.3L625.7 882.2L621.9 892.2L618.2 902.2L614.4 912.1L610.6 922.1L606.8 931.9L603.0 941.8L599.2 951.5L595.3 961.2L591.5 970.7L587.7 980.1L583.8 989.3L579.9 998.4L576.0 1007.2L572.1 1015.8L568.2 1024.2M496.9 516.1L502.9 517.3L508.9 518.6L514.9 520.0L520.9 521.7L527.0 523.5L533.0 525.4L539.1 527.4L545.2 529.5L551.2 531.6L557.3 533.8L563.5 536.1L569.6 538.4L575.7 540.7L581.9 543.0L588.0 545.4L594.2 547.7L600.4 550.0L606.6 552.3L612.8 554.6L619.0 556.9L625.3 559.2L631.5 561.4L637.8 563.7L644.1 566.0L650.4 568.3L656.7 570.6L663.0 572.8L669.3 575.0L675.6 577.2L682.0 579.2L688.3 581.0L694.7 582.7L701.1 584.2L707.5 585.5L713.9 586.6L720.4 587.6L726.8 588.5L733.3 589.4L739.7 590.2L746.2 591.0L752.7 591.8L759.2 592.6L765.8 593.4L772.3 594.1L778.9 594.9L785.5 595.6L792.1 596.3L798.7 597.0L805.3 597.7L811.9 598.4L818.6 599.0L825.3 599.6L832.0 600.2L838.7 600.8L845.4 601.3L852.1 601.9L858.9 602.4L865.7 602.9L872.4 603.5L879.2 604.2L886.1 605.0L892.9 606.1L899.7 607.4L906.6 609.1L913.5 611.2L920.3 613.6L927.2 616.3L934.1 619.2L941.0 622.2L947.9 625.3L954.9 628.5L961.8 631.6L968.8 634.7L975.7 637.7L982.7 640.7L989.7 643.6L996.7 646.4L1003.8 649.1L1010.8 651.8L1017.9 654.3L1025.0 656.8L1032.1 659.1L1039.2 661.4L1046.4 663.6L1053.6 665.7L1060.7 667.7L1067.9 669.6L1075.2 671.5L1082.4 673.4L1089.6 675.2L1096.9 677.1L1104.2 679.1L1111.5 681.3L1118.8 683.8L1126.1 686.8L1133.4 690.3M916.9 459.5L913.9 461.1L911.0 462.7L908.0 464.3L905.0 466.0L902.0 467.7L899.0 469.5L895.9 471.3L892.9 473.2L889.9 475.1L886.8 477.1L883.7 479.2L880.7 481.3L877.6 483.5L874.5 485.7L871.4 488.0L868.2 490.4L865.1 492.9L862.0 495.5L858.8 498.2L855.7 501.0L852.5 503.8L849.3 506.8L846.1 509.9L842.9 513.2L839.7 516.5L836.4 520.0L833.2 523.6L830.0 527.4L826.7 531.2L823.4 535.2L820.1 539.3L816.8 543.5L813.5 547.8L810.2 552.2L806.9 556.8L803.6 561.4L800.2 566.2L796.9 571.0L793.5 576.0L790.1 581.1L786.7 586.3L783.3 591.6L779.9 596.9L776.5 602.4L773.1 608.0L769.7 613.7L766.2 619.5L762.8 625.4L759.3 631.3L755.8 637.4L752.3 643.6L748.8 649.9L745.3 656.2L741.8 662.7L738.3 669.3L734.8 676.1L731.2 682.9L727.7 689.9L724.1 697.0L720.6 704.2L717.0 711.5L713.4 719.0L709.8 726.6L706.2 734.4L702.6 742.3L698.9 750.3L695.3 758.5L691.7 766.9L688.0 775.4L684.4 784.1L680.7 792.9L677.0 801.9L673.4 811.1L669.7 820.4L666.0 829.8L662.3 839.3L658.6 849.0L654.8 858.7L651.1 868.6L647.4 878.4L643.6 888.4L639.9 898.3L636.1 908.3L632.3 918.2L628.6 928.1L624.8 937.9L621.0 947.7L617.2 957.4L613.4 967.0L609.5 976.5L605.7 985.8L601.8 995.0L598.0 1004.0L594.1 1012.8L590.2 1021.4L586.3 1029.9M487.2 528.2L493.2 529.4L499.2 531.0L505.2 532.7L511.2 534.6L517.3 536.7L523.4 538.8L529.4 540.9L535.5 543.2L541.6 545.5L547.8 547.9L553.9 550.3L560.0 552.8L566.2 555.3L572.3 557.8L578.5 560.3L584.7 562.8L590.9 565.2L597.1 567.6L603.4 569.9L609.6 572.3L615.8 574.7L622.1 577.1L628.4 579.5L634.7 582.0L641.0 584.5L647.3 587.0L653.6 589.5L660.0 592.1L666.3 594.6L672.7 597.0L679.1 599.2L685.4 601.1L691.8 602.4L698.2 603.3L704.7 604.0L711.1 604.6L717.6 605.2L724.0 605.7L730.5 606.3L737.0 606.8L743.5 607.4L750.1 608.0L756.6 608.6L763.2 609.1L769.8 609.7L776.4 610.3L783.0 610.8L789.6 611.3L796.2 611.8L802.9 612.3L809.6 612.7L816.3 613.1L823.0 613.4L829.7 613.7L836.4 614.0L843.2 614.2L850.0 614.3L856.8 614.4L863.6 614.5L870.4 614.5L877.2 614.6L884.1 614.8L891.0 615.5L897.9 616.9L904.7 619.2L911.6 622.3L918.5 625.7L925.4 629.4L932.3 633.0L939.3 636.7L946.2 640.2L953.2 643.7L960.1 647.1L967.1 650.4L974.1 653.5L981.1 656.6L988.2 659.6L995.2 662.4L1002.3 665.1L1009.4 667.7L1016.5 670.2L1023.7 672.6L1030.8 674.8L1038.0 676.9L1045.2 678.8L1052.4 680.7L1059.6 682.3L1066.8 683.9L1074.1 685.3L1081.4 686.5L1088.7 687.7L1096.1 688.8L1103.4 689.9L1110.8 691.3L1118.1 693.3L1125.5 696.4M925.3 461.1L922.4 462.7L919.4 464.4L916.4 466.1L913.4 467.8L910.4 469.6L907.4 471.4L904.4 473.3L901.4 475.3L898.3 477.3L895.3 479.4L892.2 481.6L889.2 483.8L886.1 486.0L883.0 488.4L879.9 490.8L876.8 493.3L873.7 495.9L870.5 498.5L867.4 501.2L864.2 504.1L861.1 507.0L857.9 510.0L854.7 513.1L851.5 516.3L848.3 519.6L845.1 523.1L841.9 526.6L838.6 530.3L835.4 534.0L832.1 537.9L828.8 541.8L825.5 545.9L822.2 550.1L818.9 554.4L815.6 558.8L812.3 563.3L809.0 567.9L805.6 572.6L802.3 577.5L798.9 582.4L795.5 587.4L792.1 592.6L788.7 597.9L785.3 603.3L781.9 608.8L778.5 614.4L775.0 620.1L771.6 626.0L768.1 631.9L764.7 638.0L761.2 644.2L757.7 650.6L754.2 657.0L750.7 663.6L747.2 670.3L743.6 677.1L740.1 684.1L736.6 691.1L733.0 698.3L729.4 705.7L725.9 713.1L722.3 720.7L718.7 728.4L715.1 736.3L711.5 744.3L707.9 752.5L704.3 760.8L700.6 769.3L697.0 777.9L693.3 786.6L689.7 795.6L686.0 804.6L682.3 813.9L678.6 823.2L675.0 832.7L671.3 842.3L667.5 852.0L663.8 861.8L660.1 871.6L656.4 881.5L652.6 891.5L648.9 901.4L645.1 911.4L641.4 921.3L637.6 931.2L633.8 941.1L630.0 950.9L626.2 960.6L622.4 970.2L618.6 979.7L614.7 989.0L610.9 998.2L607.0 1007.2L603.2 1016.0L599.3 1024.6L595.4 1033.1M482.3 534.0L488.3 535.4L494.3 537.3L500.3 539.2L506.4 541.3L512.4 543.4L518.5 545.6L524.6 547.9L530.7 550.2L536.8 552.6L542.9 555.1L549.1 557.6L555.2 560.1L561.4 562.7L567.6 565.4L573.7 568.0L579.9 570.6L586.2 573.0L592.4 575.3L598.6 577.7L604.8 580.1L611.1 582.5L617.4 584.9L623.7 587.4L630.0 589.9L636.3 592.5L642.6 595.1L648.9 597.8L655.3 600.5L661.6 603.2L668.0 606.0L674.4 608.7L680.8 610.8L687.2 611.8L693.6 612.3L700.0 612.7L706.5 613.0L712.9 613.4L719.4 613.9L725.9 614.3L732.4 614.8L738.9 615.3L745.5 615.8L752.0 616.3L758.6 616.9L765.2 617.4L771.8 617.9L778.4 618.4L785.0 618.8L791.7 619.3L798.3 619.7L805.0 620.0L811.7 620.3L818.4 620.6L825.2 620.8L831.9 621.0L838.7 621.1L845.5 621.1L852.3 621.0L859.1 620.8L865.9 620.6L872.8 620.2L879.7 619.8L886.6 619.6L893.5 620.5L900.3 623.4L907.2 627.3L914.1 631.4L921.0 635.5L927.9 639.5L934.9 643.3L941.8 647.1L948.8 650.7L955.8 654.2L962.8 657.6L969.8 660.8L976.8 664.0L983.9 667.0L990.9 669.9L998.0 672.7L1005.1 675.3L1012.2 677.8L1019.4 680.2L1026.5 682.4L1033.7 684.5L1040.9 686.4L1048.1 688.2L1055.4 689.8L1062.6 691.3L1069.9 692.5L1077.2 693.6L1084.6 694.4L1091.9 695.1L1099.3 695.6L1106.7 695.9L1114.1 696.6L1121.5 698.9M942.2 464.4L939.3 466.1L936.3 467.8L933.4 469.6L930.4 471.5L927.4 473.4L924.4 475.4L921.4 477.5L918.4 479.6L915.4 481.8L912.4 484.1L909.3 486.4L906.3 488.8L903.2 491.3L900.1 493.8L897.0 496.4L893.9 499.0L890.8 501.8L887.7 504.5L884.6 507.4L881.5 510.3L878.3 513.2L875.2 516.3L872.0 519.4L868.8 522.6L865.6 525.8L862.4 529.1L859.2 532.5L856.0 536.0L852.8 539.6L849.5 543.2L846.3 547.0L843.0 550.8L839.7 554.7L836.4 558.7L833.1 562.8L829.8 567.0L826.5 571.3L823.2 575.7L819.8 580.3L816.5 584.9L813.1 589.7L809.8 594.6L806.4 599.7L803.0 604.8L799.6 610.2L796.2 615.7L792.7 621.3L789.3 627.1L785.9 633.0L782.4 639.2L778.9 645.4L775.5 651.9L772.0 658.5L768.5 665.2L765.0 672.1L761.5 679.1L758.0 686.2L754.4 693.5L750.9 700.9L747.3 708.5L743.8 716.2L740.2 724.0L736.6 731.9L733.0 740.0L729.4 748.2L725.8 756.6L722.2 765.1L718.6 773.7L715.0 782.5L711.3 791.5L707.7 800.6L704.0 809.8L700.3 819.2L696.7 828.7L693.0 838.3L689.3 848.0L685.6 857.8L681.9 867.7L678.2 877.7L674.5 887.7L670.7 897.8L667.0 907.8L663.3 917.9L659.5 927.9L655.7 937.9L652.0 947.8L648.2 957.7L644.4 967.4L640.6 977.1L636.8 986.6L632.9 995.9L629.1 1005.2L625.3 1014.2L621.4 1023.1L617.5 1031.8L613.6 1040.2M472.5 547.8L478.5 549.3L484.5 551.2L490.5 553.2L496.6 555.4L502.7 557.6L508.8 559.9L514.9 562.2L521.0 564.7L527.1 567.1L533.2 569.7L539.4 572.3L545.6 574.9L551.7 577.6L557.9 580.3L564.1 583.1L570.3 585.7L576.6 588.2L582.8 590.6L589.0 593.1L595.3 595.5L601.6 598.0L607.8 600.5L614.1 603.0L620.5 605.6L626.8 608.2L633.1 610.9L639.5 613.6L645.8 616.4L652.2 619.1L658.6 621.9L665.0 624.6L671.4 626.7L677.8 627.8L684.2 628.3L690.7 628.6L697.1 629.0L703.6 629.4L710.1 629.8L716.6 630.3L723.1 630.7L729.6 631.2L736.2 631.7L742.8 632.2L749.3 632.7L755.9 633.2L762.6 633.7L769.2 634.1L775.8 634.5L782.5 634.9L789.2 635.3L795.9 635.6L802.6 635.9L809.3 636.2L816.1 636.3L822.8 636.5L829.6 636.5L836.4 636.5L843.2 636.4L850.1 636.2L856.9 636.0L863.8 635.6L870.7 635.3L877.6 635.1L884.5 636.0L891.4 638.9L898.3 642.9L905.2 647.1L912.1 651.3L919.1 655.3L926.0 659.3L933.0 663.1L940.0 666.8L947.0 670.4L954.0 673.9L961.0 677.3L968.1 680.5L975.1 683.7L982.2 686.7L989.3 689.5L996.4 692.3L1003.6 694.9L1010.7 697.4L1017.9 699.7L1025.1 701.9L1032.3 703.9L1039.5 705.7L1046.8 707.4L1054.1 708.9L1061.4 710.2L1068.7 711.3L1076.1 712.2L1083.4 712.9L1090.8 713.4L1098.3 713.8L1105.7 714.5L1113.1 716.8M950.7 466.1L947.7 467.8L944.8 469.5L941.9 471.4L938.9 473.3L935.9 475.3L932.9 477.4L930.0 479.6L927.0 481.8L923.9 484.1L920.9 486.5L917.9 488.9L914.8 491.4L911.8 494.0L908.7 496.6L905.6 499.2L902.6 502.0L899.5 504.7L896.4 507.6L893.2 510.5L890.1 513.4L887.0 516.4L883.8 519.4L880.7 522.6L877.5 525.7L874.3 528.9L871.1 532.2L867.9 535.5L864.7 538.9L861.5 542.4L858.3 545.9L855.0 549.5L851.8 553.2L848.5 557.0L845.2 560.9L841.9 564.8L838.6 568.9L835.3 573.0L832.0 577.3L828.7 581.7L825.3 586.2L822.0 590.8L818.6 595.6L815.2 600.5L811.9 605.6L808.5 610.8L805.1 616.2L801.6 621.8L798.2 627.6L794.8 633.5L791.3 639.6L787.9 646.0L784.4 652.4L780.9 659.1L777.4 665.9L773.9 672.9L770.4 680.0L766.9 687.3L763.4 694.7L759.9 702.2L756.3 709.9L752.8 717.6L749.2 725.6L745.6 733.6L742.0 741.8L738.4 750.1L734.8 758.5L731.2 767.1L727.6 775.9L724.0 784.7L720.4 793.8L716.7 802.9L713.1 812.3L709.4 821.7L705.7 831.3L702.1 841.0L698.4 850.8L694.7 860.7L691.0 870.7L687.3 880.8L683.6 890.9L679.8 901.0L676.1 911.1L672.4 921.3L668.6 931.4L664.8 941.4L661.1 951.4L657.3 961.3L653.5 971.1L649.7 980.8L645.9 990.3L642.1 999.8L638.3 1009.0L634.4 1018.1L630.6 1027.0L626.7 1035.7L622.8 1044.2M467.5 555.8L473.6 557.1L479.6 558.8L485.6 560.7L491.7 562.8L497.8 565.0L503.9 567.3L510.0 569.6L516.1 572.1L522.2 574.6L528.4 577.1L534.5 579.7L540.7 582.4L546.9 585.1L553.1 587.8L559.3 590.5L565.5 593.1L571.7 595.7L578.0 598.2L584.2 600.7L590.5 603.2L596.8 605.7L603.1 608.2L609.4 610.8L615.7 613.4L622.0 615.9L628.3 618.6L634.7 621.2L641.1 623.8L647.4 626.4L653.8 628.9L660.2 631.1L666.6 633.0L673.1 634.3L679.5 635.3L686.0 636.0L692.4 636.6L698.9 637.1L705.4 637.6L711.9 638.2L718.4 638.7L725.0 639.2L731.5 639.8L738.1 640.3L744.7 640.8L751.3 641.3L757.9 641.8L764.6 642.3L771.2 642.8L777.9 643.2L784.6 643.6L791.3 643.9L798.0 644.3L804.7 644.5L811.5 644.8L818.2 645.0L825.0 645.1L831.8 645.2L838.7 645.3L845.5 645.3L852.4 645.3L859.2 645.4L866.1 645.7L873.0 646.4L879.9 647.9L886.9 650.3L893.8 653.5L900.7 657.1L907.6 660.9L914.6 664.7L921.5 668.5L928.5 672.3L935.5 676.0L942.5 679.5L949.5 683.0L956.6 686.4L963.6 689.7L970.7 692.9L977.8 695.9L984.9 698.9L992.0 701.7L999.2 704.4L1006.3 706.9L1013.5 709.3L1020.7 711.6L1027.9 713.7L1035.2 715.7L1042.4 717.5L1049.7 719.2L1057.0 720.7L1064.4 722.1L1071.7 723.3L1079.1 724.5L1086.5 725.7L1093.9 727.1L1101.3 729.1L1108.6 732.3M967.7 469.4L964.8 471.1L961.9 473.0L958.9 475.0L956.0 477.0L953.0 479.2L950.1 481.5L947.1 483.9L944.1 486.3L941.1 488.8L938.1 491.4L935.1 494.0L932.1 496.7L929.0 499.4L926.0 502.2L922.9 505.1L919.8 507.9L916.8 510.9L913.7 513.8L910.6 516.8L907.5 519.8L904.3 522.9L901.2 525.9L898.1 529.0L894.9 532.1L891.8 535.3L888.6 538.4L885.4 541.6L882.2 544.8L879.0 548.1L875.8 551.4L872.6 554.7L869.4 558.2L866.1 561.6L862.9 565.2L859.6 568.8L856.3 572.6L853.0 576.4L849.7 580.3L846.4 584.4L843.1 588.6L839.8 592.9L836.4 597.3L833.1 602.0L829.7 606.8L826.3 611.8L822.9 617.1L819.5 622.5L816.1 628.2L812.7 634.2L809.3 640.4L805.8 646.8L802.4 653.4L798.9 660.3L795.4 667.3L791.9 674.5L788.4 681.8L784.9 689.3L781.4 697.0L777.9 704.7L774.4 712.6L770.8 720.6L767.3 728.7L763.7 737.0L760.1 745.3L756.5 753.8L753.0 762.4L749.4 771.1L745.8 780.0L742.1 789.0L738.5 798.2L734.9 807.5L731.2 817.0L727.6 826.6L723.9 836.4L720.3 846.4L716.6 856.4L712.9 866.5L709.2 876.7L705.5 887.0L701.8 897.3L698.1 907.7L694.4 918.0L690.6 928.3L686.9 938.6L683.2 948.8L679.4 959.0L675.6 969.0L671.9 979.0L668.1 988.8L664.3 998.5L660.5 1008.0L656.6 1017.4L652.8 1026.6L649.0 1035.6L645.1 1044.4L641.3 1053.0M457.7 571.3L463.7 572.7L469.7 574.3L475.8 576.1L481.8 578.0L487.9 580.1L494.0 582.4L500.1 584.7L506.3 587.2L512.4 589.7L518.6 592.3L524.8 594.9L530.9 597.6L537.1 600.3L543.3 603.0L549.6 605.7L555.8 608.3L562.0 611.0L568.3 613.6L574.6 616.2L580.8 618.7L587.1 621.3L593.4 623.8L599.7 626.3L606.1 628.8L612.4 631.3L618.8 633.7L625.1 636.1L631.5 638.5L637.9 640.7L644.3 642.9L650.7 644.8L657.1 646.6L663.6 648.1L670.0 649.4L676.5 650.5L683.0 651.5L689.5 652.4L696.0 653.3L702.5 654.1L709.0 654.8L715.6 655.5L722.2 656.2L728.7 656.9L735.3 657.6L742.0 658.2L748.6 658.8L755.2 659.4L761.9 660.0L768.6 660.5L775.3 661.0L782.0 661.5L788.7 662.0L795.5 662.4L802.3 662.9L809.0 663.3L815.8 663.7L822.6 664.2L829.5 664.7L836.3 665.2L843.2 665.9L850.1 666.8L857.0 667.9L863.9 669.3L870.8 671.1L877.7 673.4L884.7 676.0L891.6 679.0L898.6 682.2L905.5 685.6L912.5 689.1L919.5 692.6L926.5 696.1L933.6 699.6L940.6 703.1L947.7 706.5L954.7 709.8L961.8 713.1L968.9 716.2L976.0 719.3L983.2 722.3L990.3 725.2L997.5 727.9L1004.7 730.6L1011.9 733.1L1019.1 735.5L1026.4 737.9L1033.6 740.1L1040.9 742.2L1048.2 744.3L1055.6 746.4L1062.9 748.4L1070.2 750.6L1077.6 752.9L1085.0 755.6L1092.4 758.6L1099.7 762.2M976.2 471.0L973.3 472.8L970.4 474.7L967.5 476.8L964.6 478.9L961.6 481.2L958.7 483.6L955.7 486.1L952.7 488.6L949.7 491.2L946.7 493.9L943.7 496.6L940.7 499.4L937.7 502.2L934.6 505.1L931.6 508.0L928.5 511.0L925.5 514.0L922.4 517.0L919.3 520.1L916.2 523.1L913.1 526.2L910.0 529.3L906.8 532.4L903.7 535.5L900.5 538.6L897.4 541.7L894.2 544.8L891.0 547.9L887.8 551.0L884.6 554.2L881.4 557.4L878.2 560.7L875.0 564.0L871.7 567.4L868.5 570.9L865.2 574.5L861.9 578.1L858.6 581.9L855.3 585.8L852.0 589.8L848.7 593.9L845.4 598.2L842.0 602.7L838.7 607.3L835.3 612.2L831.9 617.4L828.5 622.8L825.1 628.4L821.7 634.4L818.3 640.6L814.8 647.1L811.4 653.8L807.9 660.8L804.5 668.0L801.0 675.3L797.5 682.8L794.0 690.4L790.5 698.2L787.0 706.1L783.4 714.1L779.9 722.2L776.3 730.4L772.8 738.7L769.2 747.1L765.6 755.6L762.1 764.3L758.5 773.1L754.9 782.0L751.3 791.1L747.6 800.3L744.0 809.7L740.4 819.3L736.7 829.0L733.1 838.9L729.4 849.0L725.7 859.2L722.1 869.4L718.4 879.8L714.7 890.2L711.0 900.7L707.3 911.1L703.6 921.6L699.8 932.0L696.1 942.4L692.4 952.7L688.6 963.0L684.8 973.2L681.1 983.2L677.3 993.1L673.5 1002.9L669.7 1012.5L665.9 1022.0L662.1 1031.3L658.2 1040.3L654.4 1049.1L650.5 1057.7M452.7 579.0L458.7 580.4L464.8 582.0L470.8 583.8L476.9 585.7L483.0 587.8L489.1 590.1L495.2 592.4L501.3 594.9L507.5 597.4L513.7 600.1L519.8 602.7L526.0 605.4L532.2 608.1L538.4 610.8L544.7 613.5L550.9 616.2L557.2 618.8L563.4 621.5L569.7 624.0L576.0 626.6L582.3 629.2L588.6 631.7L594.9 634.1L601.2 636.6L607.6 639.0L613.9 641.4L620.3 643.7L626.7 646.0L633.1 648.1L639.5 650.1L645.9 652.0L652.4 653.8L658.8 655.4L665.3 656.8L671.7 658.0L678.2 659.2L684.7 660.2L691.2 661.2L697.8 662.1L704.3 663.0L710.9 663.8L717.4 664.7L724.0 665.4L730.6 666.2L737.3 666.9L743.9 667.6L750.6 668.3L757.2 668.9L763.9 669.5L770.6 670.2L777.3 670.7L784.1 671.3L790.8 671.9L797.6 672.4L804.4 673.0L811.2 673.6L818.0 674.3L824.9 675.0L831.7 675.8L838.6 676.7L845.5 677.8L852.4 679.1L859.3 680.8L866.2 682.7L873.1 685.0L880.1 687.5L887.0 690.4L894.0 693.5L901.0 696.7L908.0 700.1L915.0 703.5L922.0 706.9L929.0 710.4L936.1 713.9L943.1 717.3L950.2 720.6L957.3 724.0L964.4 727.2L971.6 730.3L978.7 733.4L985.9 736.4L993.0 739.3L1000.2 742.1L1007.4 744.8L1014.7 747.4L1021.9 749.9L1029.2 752.4L1036.5 754.8L1043.8 757.1L1051.1 759.5L1058.4 761.9L1065.8 764.5L1073.1 767.2L1080.5 770.1L1087.9 773.4L1095.3 777.1M993.4 474.1L990.5 476.0L987.6 478.1L984.7 480.3L981.8 482.7L978.9 485.2L975.9 487.9L973.0 490.6L970.0 493.4L967.0 496.2L964.1 499.1L961.1 502.0L958.1 505.0L955.0 508.0L952.0 511.1L949.0 514.2L945.9 517.3L942.9 520.5L939.8 523.6L936.8 526.8L933.7 530.0L930.6 533.2L927.5 536.3L924.4 539.4L921.2 542.5L918.1 545.5L915.0 548.4L911.8 551.3L908.7 554.2L905.5 557.1L902.3 560.0L899.2 562.9L896.0 565.9L892.7 568.9L889.5 572.0L886.3 575.2L883.1 578.4L879.8 581.7L876.5 585.1L873.3 588.6L870.0 592.3L866.7 596.0L863.4 599.9L860.0 604.0L856.7 608.2L853.3 612.8L850.0 617.6L846.6 622.8L843.2 628.4L839.8 634.4L836.4 640.8L833.0 647.5L829.5 654.6L826.1 661.9L822.6 669.4L819.1 677.1L815.7 684.9L812.2 692.8L808.7 700.9L805.2 709.0L801.6 717.2L798.1 725.5L794.6 733.9L791.0 742.4L787.5 750.9L783.9 759.5L780.3 768.3L776.8 777.1L773.2 786.0L769.6 795.2L766.0 804.5L762.3 814.0L758.7 823.7L755.1 833.7L751.4 843.9L747.8 854.2L744.1 864.8L740.5 875.4L736.8 886.1L733.1 896.9L729.4 907.6L725.7 918.4L722.0 929.2L718.3 939.9L714.6 950.5L710.8 961.1L707.1 971.6L703.3 982.0L699.6 992.2L695.8 1002.4L692.0 1012.4L688.2 1022.2L684.4 1031.9L680.6 1041.3L676.8 1050.5L673.0 1059.5L669.1 1068.2M442.7 594.2L448.7 595.7L454.8 597.3L460.8 599.1L466.9 601.1L473.0 603.3L479.2 605.6L485.3 608.1L491.4 610.6L497.6 613.2L503.8 615.9L510.0 618.7L516.2 621.4L522.4 624.2L528.6 627.0L534.9 629.7L541.1 632.4L547.4 635.1L553.6 637.7L559.9 640.3L566.2 642.9L572.5 645.4L578.8 647.8L585.2 650.2L591.5 652.6L597.9 654.9L604.3 657.1L610.6 659.3L617.0 661.4L623.4 663.5L629.9 665.4L636.3 667.3L642.7 669.0L649.2 670.7L655.7 672.2L662.2 673.7L668.7 675.1L675.2 676.4L681.7 677.6L688.2 678.8L694.8 679.9L701.4 681.0L708.0 682.0L714.6 683.0L721.2 684.0L727.8 684.9L734.5 685.8L741.2 686.7L747.8 687.5L754.5 688.4L761.3 689.2L768.0 690.0L774.7 690.8L781.5 691.6L788.3 692.4L795.1 693.3L801.9 694.2L808.7 695.2L815.6 696.2L822.4 697.4L829.3 698.7L836.2 700.2L843.1 701.9L850.0 703.8L857.0 705.9L863.9 708.2L870.9 710.8L877.8 713.6L884.8 716.6L891.8 719.7L898.8 723.0L905.8 726.3L912.9 729.8L919.9 733.2L927.0 736.7L934.1 740.2L941.2 743.7L948.3 747.1L955.4 750.5L962.5 753.8L969.7 757.1L976.8 760.4L984.0 763.5L991.2 766.6L998.5 769.6L1005.7 772.6L1012.9 775.5L1020.2 778.4L1027.5 781.3L1034.8 784.2L1042.1 787.1L1049.5 790.1L1056.8 793.1L1064.2 796.3L1071.5 799.6L1078.9 803.2L1086.3 806.9M1002.0 475.6L999.2 477.6L996.3 479.7L993.4 482.1L990.5 484.7L987.5 487.3L984.6 490.1L981.7 493.0L978.7 495.9L975.7 498.8L972.8 501.8L969.8 504.9L966.8 508.0L963.8 511.1L960.7 514.2L957.7 517.4L954.7 520.6L951.6 523.8L948.6 527.0L945.5 530.3L942.4 533.6L939.4 536.8L936.3 540.0L933.2 543.1L930.1 546.2L926.9 549.1L923.8 552.0L920.7 554.8L917.5 557.5L914.4 560.2L911.2 563.0L908.1 565.8L904.9 568.6L901.7 571.5L898.5 574.4L895.2 577.4L892.0 580.5L888.8 583.7L885.5 586.9L882.3 590.2L879.0 593.6L875.7 597.2L872.4 600.8L869.1 604.6L865.8 608.7L862.4 612.9L859.1 617.6L855.7 622.6L852.3 628.2L848.9 634.2L845.5 640.7L842.1 647.7L838.6 654.9L835.2 662.5L831.7 670.2L828.3 678.1L824.8 686.1L821.3 694.3L817.8 702.5L814.3 710.7L810.8 719.1L807.3 727.5L803.7 735.9L800.2 744.5L796.7 753.0L793.1 761.7L789.5 770.4L786.0 779.2L782.4 788.1L778.8 797.2L775.2 806.5L771.6 816.0L767.9 825.8L764.3 835.9L760.7 846.3L757.0 856.9L753.4 867.6L749.7 878.5L746.0 889.4L742.3 900.4L738.7 911.3L735.0 922.3L731.3 933.2L727.5 944.0L723.8 954.8L720.1 965.5L716.4 976.1L712.6 986.6L708.9 997.0L705.1 1007.3L701.3 1017.4L697.5 1027.4L693.8 1037.2L690.0 1046.8L686.1 1056.1L682.3 1065.1L678.5 1073.8M437.6 601.8L443.7 603.2L449.7 604.9L455.8 606.8L461.9 608.9L468.0 611.1L474.2 613.5L480.3 616.0L486.5 618.6L492.6 621.3L498.8 624.1L505.0 626.9L511.2 629.7L517.4 632.5L523.7 635.3L529.9 638.1L536.2 640.8L542.4 643.5L548.7 646.2L555.0 648.8L561.3 651.3L567.6 653.8L574.0 656.2L580.3 658.6L586.6 660.9L593.0 663.1L599.4 665.3L605.8 667.4L612.2 669.5L618.6 671.5L625.0 673.4L631.5 675.2L637.9 677.0L644.4 678.7L650.9 680.3L657.3 681.8L663.9 683.3L670.4 684.7L676.9 686.1L683.5 687.4L690.0 688.6L696.6 689.8L703.2 691.0L709.8 692.1L716.4 693.2L723.1 694.2L729.7 695.2L736.4 696.2L743.1 697.2L749.8 698.1L756.5 699.1L763.3 700.0L770.0 700.9L776.8 701.8L783.6 702.8L790.4 703.8L797.2 704.8L804.1 705.9L810.9 707.1L817.8 708.4L824.7 709.9L831.5 711.5L838.5 713.3L845.4 715.3L852.3 717.5L859.3 719.9L866.2 722.6L873.2 725.4L880.2 728.4L887.2 731.5L894.2 734.8L901.3 738.2L908.3 741.6L915.3 745.1L922.4 748.7L929.5 752.2L936.6 755.8L943.7 759.3L950.8 762.8L958.0 766.2L965.1 769.6L972.3 773.0L979.5 776.3L986.7 779.5L993.9 782.7L1001.2 785.9L1008.4 789.0L1015.7 792.1L1023.0 795.2L1030.3 798.3L1037.6 801.4L1044.9 804.5L1052.3 807.8L1059.6 811.1L1067.0 814.6L1074.4 818.2L1081.8 821.9M1019.4 478.4L1016.5 480.5L1013.6 483.0L1010.7 485.9L1007.8 488.9L1004.9 492.0L1002.0 495.1L999.1 498.2L996.1 501.4L993.2 504.5L990.2 507.7L987.2 510.9L984.3 514.1L981.3 517.3L978.3 520.6L975.3 523.9L972.2 527.2L969.2 530.6L966.2 534.0L963.1 537.4L960.1 540.9L957.0 544.3L953.9 547.8L950.8 551.1L947.7 554.1L944.7 556.9L941.6 559.4L938.5 561.9L935.3 564.2L932.2 566.6L929.1 569.1L925.9 571.6L922.8 574.2L919.6 576.8L916.4 579.5L913.2 582.2L910.0 585.0L906.8 587.9L903.6 590.8L900.3 593.8L897.1 596.9L893.8 600.0L890.5 603.2L887.2 606.5L883.9 609.8L880.6 613.4L877.3 617.2L874.0 621.6L870.6 626.9L867.2 633.2L863.8 640.4L860.4 648.1L857.0 656.2L853.5 664.4L850.1 672.6L846.6 681.0L843.1 689.4L839.7 697.9L836.2 706.4L832.7 714.9L829.2 723.5L825.7 732.1L822.1 740.7L818.6 749.3L815.1 758.0L811.5 766.7L808.0 775.4L804.4 784.1L800.8 792.8L797.3 801.7L793.7 810.7L790.1 820.0L786.5 829.8L782.8 840.2L779.2 851.2L775.6 862.5L771.9 873.8L768.3 885.3L764.6 896.7L760.9 908.1L757.2 919.4L753.6 930.6L749.9 941.8L746.2 952.9L742.4 964.0L738.7 974.9L735.0 985.7L731.3 996.5L727.5 1007.1L723.8 1017.6L720.0 1028.0L716.2 1038.3L712.5 1048.4L708.7 1058.3L704.9 1068.0L701.1 1077.4L697.3 1086.2M427.5 616.6L433.6 618.2L439.6 620.0L445.7 622.1L451.8 624.3L458.0 626.8L464.1 629.4L470.3 632.2L476.5 635.0L482.6 638.0L488.8 640.9L495.1 643.9L501.3 646.9L507.5 649.8L513.8 652.8L520.0 655.6L526.3 658.4L532.6 661.1L538.9 663.8L545.2 666.4L551.5 668.9L557.8 671.3L564.1 673.6L570.5 675.9L576.8 678.1L583.2 680.2L589.6 682.2L596.0 684.2L602.4 686.2L608.8 688.1L615.3 690.0L621.7 691.8L628.2 693.6L634.7 695.3L641.2 697.1L647.7 698.8L654.2 700.4L660.7 702.1L667.3 703.7L673.9 705.2L680.4 706.7L687.0 708.2L693.6 709.6L700.3 711.0L706.9 712.3L713.6 713.6L720.2 714.8L726.9 716.0L733.6 717.2L740.3 718.4L747.1 719.5L753.8 720.7L760.6 721.8L767.4 722.9L774.2 724.1L781.0 725.3L787.8 726.5L794.7 727.9L801.5 729.3L808.4 730.8L815.3 732.5L822.2 734.3L829.1 736.3L836.0 738.5L843.0 740.9L850.0 743.5L856.9 746.2L863.9 749.2L870.9 752.3L877.9 755.6L885.0 759.0L892.0 762.5L899.1 766.1L906.1 769.8L913.2 773.5L920.3 777.2L927.4 780.9L934.5 784.7L941.7 788.4L948.8 792.1L956.0 795.7L963.2 799.3L970.4 802.9L977.6 806.5L984.8 810.0L992.0 813.5L999.3 816.9L1006.6 820.4L1013.9 823.8L1021.2 827.3L1028.5 830.7L1035.8 834.2L1043.2 837.7L1050.6 841.2L1057.9 844.8L1065.3 848.5L1072.7 852.3M1028.1 479.4L1025.2 481.9L1022.3 485.0L1019.5 488.2L1016.6 491.5L1013.6 494.7L1010.7 498.0L1007.8 501.2L1004.9 504.4L1001.9 507.7L999.0 510.9L996.0 514.1L993.0 517.3L990.0 520.6L987.1 523.9L984.1 527.2L981.0 530.6L978.0 534.0L975.0 537.4L972.0 540.9L968.9 544.4L965.8 548.0L962.8 551.7L959.7 555.3L956.6 558.5L953.5 561.0L950.5 563.2L947.4 565.4L944.3 567.6L941.2 569.8L938.0 572.1L934.9 574.5L931.7 577.0L928.6 579.5L925.4 582.1L922.2 584.8L919.0 587.5L915.8 590.3L912.6 593.1L909.4 596.0L906.2 598.9L902.9 601.9L899.6 604.9L896.4 607.9L893.1 611.0L889.8 614.1L886.5 617.3L883.2 620.9L879.8 625.6L876.4 632.5L873.0 640.5L869.6 648.9L866.2 657.4L862.7 665.9L859.3 674.5L855.8 683.1L852.4 691.6L848.9 700.2L845.4 708.9L841.9 717.5L838.4 726.2L834.9 734.8L831.4 743.5L827.9 752.2L824.3 760.9L820.8 769.7L817.2 778.4L813.7 787.0L810.1 795.7L806.5 804.4L803.0 813.1L799.4 821.9L795.8 831.5L792.1 842.4L788.5 854.0L784.9 865.7L781.2 877.5L777.6 889.2L773.9 900.8L770.2 912.3L766.6 923.8L762.9 935.2L759.2 946.5L755.5 957.7L751.8 968.8L748.1 979.9L744.4 990.8L740.6 1001.6L736.9 1012.3L733.2 1023.0L729.4 1033.5L725.6 1043.8L721.9 1054.1L718.1 1064.2L714.3 1074.2L710.5 1083.9L706.7 1093.0M422.4 624.0L428.5 625.6L434.6 627.5L440.7 629.7L446.8 632.1L452.9 634.7L459.1 637.5L465.2 640.5L471.4 643.5L477.6 646.6L483.8 649.7L490.1 652.8L496.3 655.9L502.5 658.9L508.8 661.9L515.1 664.8L521.3 667.6L527.6 670.4L533.9 673.0L540.2 675.6L546.5 678.0L552.9 680.4L559.2 682.7L565.6 684.9L571.9 687.0L578.3 689.1L584.7 691.1L591.1 693.0L597.5 694.9L603.9 696.7L610.4 698.6L616.8 700.4L623.3 702.2L629.8 704.0L636.3 705.8L642.8 707.6L649.4 709.3L655.9 711.1L662.5 712.8L669.0 714.5L675.6 716.1L682.2 717.7L688.8 719.2L695.5 720.7L702.1 722.2L708.8 723.6L715.4 725.0L722.1 726.3L728.8 727.6L735.6 728.8L742.3 730.1L749.1 731.3L755.8 732.6L762.6 733.8L769.4 735.0L776.2 736.3L783.1 737.7L789.9 739.1L796.8 740.6L803.7 742.2L810.6 743.9L817.5 745.8L824.4 747.9L831.4 750.1L838.3 752.6L845.3 755.2L852.3 758.1L859.3 761.2L866.3 764.4L873.3 767.8L880.3 771.4L887.4 775.0L894.4 778.7L901.5 782.5L908.6 786.3L915.7 790.1L922.8 794.0L929.9 797.8L937.1 801.7L944.2 805.5L951.4 809.3L958.6 813.0L965.8 816.7L973.0 820.4L980.2 824.1L987.5 827.7L994.7 831.4L1002.0 835.0L1009.3 838.5L1016.6 842.1L1023.9 845.7L1031.3 849.3L1038.6 852.9L1046.0 856.5L1053.4 860.2L1060.8 863.9L1068.2 867.7M1045.5 486.2L1042.6 488.7L1039.8 491.8L1036.9 495.1L1034.0 498.4L1031.1 501.6L1028.2 504.9L1025.3 508.1L1022.4 511.3L1019.5 514.5L1016.5 517.8L1013.6 521.0L1010.6 524.2L1007.7 527.5L1004.7 530.7L1001.7 534.0L998.7 537.3L995.7 540.7L992.7 544.1L989.7 547.5L986.7 551.0L983.6 554.6L980.6 558.2L977.5 561.7L974.5 564.8L971.4 567.3L968.4 569.4L965.3 571.5L962.2 573.6L959.1 575.8L956.0 578.0L952.9 580.3L949.8 582.7L946.7 585.1L943.5 587.6L940.4 590.2L937.2 592.8L934.0 595.5L930.8 598.3L927.6 601.1L924.4 604.0L921.2 606.9L917.9 609.9L914.7 612.9L911.4 616.0L908.1 619.1L904.8 622.3L901.5 625.9L898.2 630.6L894.8 637.6L891.4 645.7L888.0 654.2L884.6 662.7L881.2 671.4L877.7 680.0L874.3 688.7L870.8 697.4L867.4 706.2L863.9 714.9L860.4 723.7L856.9 732.6L853.5 741.4L849.9 750.3L846.4 759.1L842.9 768.0L839.4 776.9L835.8 785.8L832.3 794.7L828.7 803.5L825.2 812.4L821.6 821.2L818.0 830.3L814.4 840.0L810.8 851.1L807.2 862.9L803.6 874.8L799.9 886.7L796.3 898.6L792.6 910.4L789.0 922.1L785.3 933.7L781.6 945.2L778.0 956.7L774.3 968.0L770.6 979.2L766.9 990.4L763.2 1001.4L759.4 1012.3L755.7 1023.2L752.0 1033.8L748.2 1044.4L744.5 1054.8L740.7 1065.2L737.0 1075.3L733.2 1085.3L729.4 1095.1L725.6 1104.2M412.2 638.4L418.2 640.1L424.3 642.3L430.5 644.9L436.6 647.8L442.8 650.9L449.0 654.2L455.1 657.6L461.4 661.1L467.6 664.6L473.8 668.0L480.0 671.4L486.3 674.7L492.5 678.0L498.8 681.1L505.1 684.2L511.4 687.1L517.7 689.8L524.0 692.5L530.3 695.0L536.6 697.3L543.0 699.6L549.3 701.8L555.7 703.8L562.0 705.8L568.4 707.7L574.8 709.5L581.2 711.2L587.7 712.9L594.1 714.6L600.6 716.4L607.0 718.1L613.5 719.9L620.0 721.8L626.5 723.8L633.1 725.7L639.6 727.7L646.2 729.8L652.7 731.7L659.3 733.7L665.9 735.6L672.5 737.5L679.2 739.3L685.8 741.0L692.5 742.7L699.1 744.4L705.8 746.0L712.5 747.5L719.2 749.0L726.0 750.5L732.7 752.0L739.5 753.4L746.3 754.8L753.1 756.2L759.9 757.6L766.7 759.0L773.6 760.4L780.4 761.9L787.3 763.5L794.2 765.1L801.1 766.9L808.0 768.9L815.0 771.0L821.9 773.4L828.9 776.0L835.9 778.9L842.9 782.0L849.9 785.4L856.9 788.9L863.9 792.7L871.0 796.5L878.0 800.4L885.1 804.5L892.2 808.5L899.3 812.6L906.4 816.7L913.5 820.8L920.6 824.9L927.8 829.0L934.9 833.1L942.1 837.2L949.3 841.2L956.5 845.2L963.7 849.2L971.0 853.1L978.2 857.0L985.5 860.9L992.8 864.8L1000.1 868.6L1007.4 872.5L1014.7 876.3L1022.1 880.1L1029.4 883.8L1036.8 887.6L1044.2 891.4L1051.6 895.1L1059.0 898.8M1054.1 492.0L1051.3 494.1L1048.5 496.7L1045.6 499.6L1042.7 502.7L1039.9 505.8L1037.0 508.9L1034.1 512.0L1031.2 515.2L1028.3 518.3L1025.3 521.5L1022.4 524.7L1019.5 527.8L1016.5 531.0L1013.6 534.2L1010.6 537.5L1007.6 540.7L1004.6 544.0L1001.6 547.3L998.6 550.7L995.6 554.0L992.6 557.4L989.6 560.7L986.5 563.9L983.5 566.8L980.4 569.4L977.4 571.8L974.3 574.1L971.2 576.3L968.2 578.5L965.1 580.8L962.0 583.1L958.9 585.5L955.7 588.0L952.6 590.5L949.4 593.1L946.3 595.7L943.1 598.5L939.9 601.3L936.7 604.1L933.5 607.1L930.3 610.1L927.1 613.2L923.8 616.4L920.6 619.8L917.3 623.3L914.0 627.2L910.7 631.6L907.4 636.9L904.0 643.3L900.7 650.7L897.3 658.6L893.8 666.8L890.4 675.2L887.0 683.7L883.6 692.3L880.1 701.0L876.7 709.7L873.2 718.5L869.7 727.4L866.2 736.3L862.8 745.2L859.3 754.2L855.8 763.2L852.2 772.2L848.7 781.2L845.2 790.3L841.6 799.4L838.1 808.5L834.5 817.7L831.0 827.1L827.4 836.7L823.8 846.9L820.2 857.7L816.6 869.0L812.9 880.6L809.3 892.4L805.7 904.1L802.0 915.8L798.4 927.5L794.7 939.1L791.0 950.7L787.4 962.1L783.7 973.5L780.0 984.8L776.3 995.9L772.6 1007.0L768.9 1017.9L765.2 1028.7L761.4 1039.4L757.7 1049.9L754.0 1060.3L750.2 1070.5L746.4 1080.5L742.7 1090.3L738.9 1099.7L735.1 1108.6M407.0 645.4L413.1 647.2L419.2 649.7L425.3 652.6L431.5 655.8L437.7 659.3L443.9 663.0L450.1 666.7L456.3 670.4L462.5 674.1L468.8 677.7L475.0 681.3L481.3 684.8L487.5 688.1L493.8 691.3L500.1 694.4L506.4 697.4L512.7 700.1L519.0 702.7L525.3 705.2L531.7 707.5L538.0 709.7L544.3 711.8L550.7 713.7L557.1 715.6L563.5 717.4L569.9 719.1L576.3 720.7L582.7 722.3L589.2 723.9L595.6 725.5L602.1 727.2L608.6 729.0L615.1 731.0L621.6 733.0L628.2 735.1L634.7 737.3L641.3 739.5L647.8 741.6L654.4 743.7L661.0 745.8L667.7 747.8L674.3 749.7L681.0 751.6L687.6 753.4L694.3 755.2L701.0 756.9L707.7 758.6L714.4 760.2L721.2 761.7L727.9 763.3L734.7 764.8L741.5 766.2L748.3 767.7L755.1 769.2L761.9 770.6L768.8 772.1L775.7 773.6L782.5 775.2L789.4 776.8L796.4 778.6L803.3 780.5L810.2 782.6L817.2 785.0L824.2 787.7L831.2 790.7L838.2 794.0L845.2 797.5L852.2 801.3L859.2 805.3L866.3 809.3L873.3 813.5L880.4 817.6L887.5 821.9L894.6 826.1L901.7 830.4L908.8 834.6L916.0 838.9L923.1 843.1L930.3 847.3L937.5 851.5L944.7 855.6L951.9 859.8L959.1 863.9L966.3 868.0L973.6 872.0L980.9 876.0L988.1 880.0L995.5 884.0L1002.8 887.9L1010.1 891.8L1017.5 895.7L1024.8 899.6L1032.2 903.4L1039.6 907.2L1047.0 910.9L1054.5 914.6M1071.5 502.9L1068.7 504.9L1065.9 507.2L1063.1 509.6L1060.2 512.2L1057.4 514.9L1054.5 517.7L1051.7 520.6L1048.8 523.5L1045.9 526.5L1043.0 529.5L1040.1 532.4L1037.2 535.5L1034.3 538.5L1031.3 541.5L1028.4 544.6L1025.4 547.7L1022.5 550.7L1019.5 553.8L1016.5 556.9L1013.5 560.0L1010.5 563.0L1007.5 565.9L1004.5 568.8L1001.5 571.6L998.5 574.2L995.5 576.8L992.4 579.2L989.4 581.6L986.3 584.0L983.2 586.4L980.1 588.9L977.1 591.3L974.0 593.9L970.8 596.5L967.7 599.2L964.6 601.9L961.4 604.8L958.2 607.7L955.1 610.8L951.9 614.0L948.7 617.3L945.5 620.8L942.2 624.5L939.0 628.5L935.7 632.7L932.4 637.4L929.1 642.5L925.8 648.2L922.5 654.4L919.1 661.2L915.8 668.5L912.4 676.1L909.0 684.0L905.6 692.2L902.2 700.6L898.7 709.2L895.3 717.9L891.8 726.7L888.4 735.6L884.9 744.6L881.4 753.7L878.0 762.9L874.5 772.1L871.0 781.4L867.4 790.8L863.9 800.2L860.4 809.8L856.8 819.5L853.3 829.3L849.7 839.3L846.2 849.6L842.6 860.1L839.0 870.9L835.4 882.0L831.8 893.3L828.1 904.7L824.5 916.2L820.9 927.8L817.2 939.3L813.6 950.9L809.9 962.4L806.3 973.8L802.6 985.2L798.9 996.4L795.2 1007.6L791.5 1018.6L787.8 1029.5L784.1 1040.3L780.4 1050.9L776.7 1061.3L773.0 1071.5L769.2 1081.5L765.5 1091.2L761.7 1100.7L757.9 1109.8L754.2 1118.6M396.6 658.6L402.7 661.0L408.8 664.5L415.0 668.6L421.2 673.0L427.5 677.5L433.7 681.9L439.9 686.2L446.2 690.4L452.4 694.5L458.7 698.5L464.9 702.3L471.2 706.1L477.5 709.6L483.8 713.1L490.1 716.3L496.4 719.3L502.7 722.0L509.0 724.5L515.3 726.8L521.7 728.9L528.0 730.9L534.4 732.8L540.8 734.6L547.1 736.3L553.5 737.9L559.9 739.3L566.4 740.7L572.8 742.0L579.2 743.2L585.7 744.5L592.2 745.8L598.7 747.5L605.2 749.7L611.7 752.1L618.3 754.7L624.9 757.3L631.4 759.8L638.0 762.4L644.6 764.8L651.3 767.1L657.9 769.4L664.5 771.5L671.2 773.6L677.9 775.7L684.6 777.6L691.3 779.5L698.0 781.4L704.7 783.2L711.5 784.9L718.3 786.6L725.0 788.3L731.8 789.9L738.7 791.5L745.5 793.1L752.3 794.6L759.2 796.2L766.1 797.7L773.0 799.3L779.9 800.8L786.8 802.4L793.7 804.1L800.7 805.9L807.7 808.0L814.7 810.7L821.7 814.1L828.7 818.0L835.7 822.2L842.7 826.6L849.8 831.1L856.8 835.7L863.9 840.2L871.0 844.8L878.0 849.3L885.2 853.9L892.3 858.4L899.4 862.9L906.6 867.4L913.7 871.9L920.9 876.4L928.1 880.8L935.3 885.2L942.5 889.6L949.7 893.9L957.0 898.2L964.3 902.5L971.5 906.7L978.8 910.9L986.1 915.1L993.5 919.3L1000.8 923.3L1008.2 927.4L1015.5 931.4L1022.9 935.4L1030.3 939.3L1037.8 943.1L1045.2 946.8M1080.2 508.3L1077.4 510.2L1074.6 512.4L1071.8 514.7L1069.0 517.2L1066.2 519.8L1063.3 522.4L1060.5 525.2L1057.6 528.0L1054.8 530.8L1051.9 533.6L1049.0 536.5L1046.1 539.4L1043.2 542.4L1040.3 545.3L1037.3 548.3L1034.4 551.2L1031.4 554.2L1028.5 557.1L1025.5 560.1L1022.5 563.0L1019.6 565.9L1016.6 568.8L1013.6 571.5L1010.6 574.2L1007.6 576.9L1004.5 579.4L1001.5 581.9L998.5 584.4L995.4 586.9L992.3 589.3L989.3 591.8L986.2 594.3L983.1 596.9L980.0 599.6L976.9 602.3L973.7 605.1L970.6 608.1L967.4 611.1L964.3 614.3L961.1 617.6L957.9 621.1L954.7 624.8L951.5 628.8L948.2 632.9L945.0 637.5L941.7 642.3L938.4 647.7L935.1 653.4L931.8 659.6L928.4 666.3L925.1 673.5L921.7 680.9L918.3 688.7L914.9 696.8L911.5 705.1L908.1 713.6L904.7 722.3L901.2 731.1L897.8 740.0L894.3 749.1L890.8 758.3L887.3 767.5L883.8 776.9L880.3 786.4L876.8 795.9L873.3 805.6L869.8 815.3L866.3 825.2L862.7 835.3L859.1 845.5L855.6 856.0L852.0 866.6L848.4 877.5L844.8 888.5L841.2 899.8L837.6 911.1L834.0 922.6L830.3 934.1L826.7 945.6L823.1 957.1L819.4 968.6L815.8 980.0L812.1 991.3L808.4 1002.6L804.7 1013.7L801.0 1024.7L797.4 1035.6L793.7 1046.3L789.9 1056.9L786.2 1067.2L782.5 1077.4L778.8 1087.3L775.0 1096.9L771.3 1106.3L767.5 1115.4L763.7 1124.1M391.3 664.5L397.5 667.7L403.7 672.6L409.9 677.8L416.1 682.9L422.4 687.8L428.6 692.5L434.9 697.0L441.1 701.4L447.4 705.6L453.6 709.7L459.9 713.6L466.2 717.4L472.5 721.0L478.8 724.6L485.1 727.9L491.4 731.0L497.7 733.6L504.0 735.9L510.3 738.1L516.7 740.1L523.0 742.1L529.4 743.9L535.8 745.6L542.1 747.2L548.5 748.7L555.0 750.1L561.4 751.3L567.8 752.5L574.3 753.5L580.7 754.4L587.2 755.4L593.7 756.8L600.2 759.2L606.8 762.1L613.3 765.0L619.9 767.9L626.5 770.7L633.1 773.3L639.7 775.9L646.4 778.3L653.0 780.7L659.6 782.9L666.3 785.1L673.0 787.2L679.7 789.3L686.4 791.3L693.1 793.2L699.9 795.1L706.6 796.9L713.4 798.7L720.2 800.4L727.0 802.2L733.8 803.8L740.6 805.5L747.5 807.1L754.4 808.7L761.3 810.3L768.2 811.8L775.1 813.3L782.0 814.8L789.0 816.3L795.9 817.8L802.9 819.5L809.9 822.0L816.9 825.8L823.9 830.3L830.9 835.0L838.0 839.8L845.0 844.6L852.1 849.3L859.1 854.0L866.2 858.7L873.3 863.4L880.4 868.1L887.5 872.8L894.7 877.4L901.8 882.0L909.0 886.6L916.2 891.2L923.4 895.7L930.6 900.3L937.8 904.7L945.0 909.2L952.3 913.6L959.6 918.0L966.9 922.3L974.2 926.6L981.5 930.9L988.8 935.1L996.1 939.3L1003.5 943.4L1010.9 947.5L1018.3 951.5L1025.7 955.5L1033.1 959.4L1040.6 963.1M1097.7 518.8L1095.0 520.8L1092.2 522.8L1089.4 525.0L1086.6 527.3L1083.8 529.7L1081.0 532.1L1078.2 534.6L1075.4 537.1L1072.5 539.7L1069.7 542.4L1066.8 545.0L1063.9 547.7L1061.0 550.4L1058.2 553.1L1055.3 555.9L1052.3 558.6L1049.4 561.4L1046.5 564.1L1043.6 566.8L1040.6 569.5L1037.7 572.2L1034.7 574.9L1031.7 577.5L1028.7 580.1L1025.7 582.7L1022.7 585.2L1019.7 587.7L1016.7 590.3L1013.7 592.8L1010.6 595.3L1007.6 597.9L1004.5 600.5L1001.5 603.2L998.4 606.0L995.3 608.8L992.2 611.8L989.0 614.9L985.9 618.1L982.8 621.5L979.6 625.1L976.4 628.9L973.2 632.9L970.0 637.1L966.8 641.7L963.5 646.5L960.3 651.7L957.0 657.2L953.7 663.1L950.4 669.4L947.1 676.1L943.7 683.1L940.4 690.5L937.0 698.1L933.6 706.1L930.2 714.3L926.8 722.8L923.4 731.5L920.0 740.3L916.6 749.3L913.1 758.5L909.6 767.9L906.2 777.4L902.7 787.0L899.2 796.7L895.7 806.6L892.2 816.5L888.7 826.7L885.1 836.9L881.6 847.3L878.0 857.9L874.5 868.6L870.9 879.4L867.3 890.4L863.8 901.6L860.2 912.8L856.6 924.2L853.0 935.6L849.3 947.0L845.7 958.5L842.1 970.0L838.4 981.4L834.8 992.8L831.1 1004.2L827.5 1015.4L823.8 1026.5L820.1 1037.5L816.5 1048.4L812.8 1059.0L809.1 1069.5L805.4 1079.8L801.7 1089.9L797.9 1099.7L794.2 1109.2L790.5 1118.5L786.7 1127.5L783.0 1136.2M381.1 688.8L387.3 692.1L393.5 697.0L399.7 702.2L406.0 707.3L412.2 712.2L418.5 716.8L424.7 721.3L431.0 725.6L437.3 729.8L443.5 733.8L449.8 737.6L456.1 741.3L462.4 744.8L468.7 748.2L475.0 751.5L481.3 754.4L487.6 757.0L493.9 759.2L500.3 761.3L506.6 763.3L513.0 765.2L519.4 767.0L525.7 768.6L532.1 770.2L538.5 771.7L545.0 773.0L551.4 774.3L557.8 775.4L564.3 776.4L570.8 777.4L577.2 778.4L583.8 779.8L590.3 782.3L596.9 785.2L603.4 788.2L610.0 791.1L616.6 794.0L623.2 796.7L629.9 799.3L636.5 801.9L643.1 804.3L649.8 806.7L656.5 809.0L663.2 811.3L669.9 813.4L676.6 815.6L683.3 817.6L690.1 819.7L696.9 821.7L703.6 823.6L710.4 825.5L717.3 827.4L724.1 829.3L730.9 831.1L737.8 832.9L744.7 834.7L751.6 836.5L758.5 838.2L765.4 839.9L772.3 841.6L779.3 843.3L786.3 845.0L793.3 846.9L800.3 849.5L807.3 853.5L814.3 858.2L821.3 863.1L828.4 868.0L835.4 873.0L842.5 877.9L849.6 882.8L856.7 887.6L863.8 892.5L870.9 897.4L878.0 902.2L885.2 907.0L892.3 911.8L899.5 916.6L906.7 921.4L913.9 926.1L921.1 930.9L928.4 935.5L935.6 940.2L942.9 944.8L950.1 949.4L957.4 953.9L964.7 958.4L972.1 962.8L979.4 967.1L986.8 971.4L994.1 975.6L1001.5 979.8L1008.9 983.8L1016.3 987.8L1023.8 991.7L1031.3 995.3M1106.5 524.1L1103.7 526.0L1101.0 528.1L1098.2 530.2L1095.5 532.4L1092.7 534.7L1089.9 537.0L1087.1 539.4L1084.3 541.9L1081.4 544.3L1078.6 546.9L1075.7 549.4L1072.9 552.0L1070.0 554.6L1067.1 557.2L1064.2 559.8L1061.4 562.5L1058.4 565.1L1055.5 567.7L1052.6 570.4L1049.7 573.0L1046.7 575.6L1043.8 578.2L1040.8 580.7L1037.9 583.3L1034.9 585.8L1031.9 588.3L1028.9 590.8L1025.9 593.4L1022.9 595.9L1019.8 598.5L1016.8 601.1L1013.7 603.7L1010.7 606.4L1007.6 609.3L1004.5 612.2L1001.4 615.2L998.3 618.4L995.2 621.7L992.0 625.1L988.9 628.8L985.7 632.7L982.5 636.8L979.3 641.2L976.1 645.8L972.9 650.8L969.6 656.0L966.4 661.7L963.1 667.6L959.8 674.0L956.5 680.7L953.1 687.7L949.8 695.1L946.4 702.7L943.0 710.7L939.7 718.9L936.3 727.4L932.8 736.1L929.4 745.0L926.0 754.1L922.5 763.4L919.1 772.8L915.6 782.4L912.1 792.1L908.7 802.0L905.2 812.0L901.7 822.1L898.1 832.4L894.6 842.8L891.1 853.3L887.5 864.0L884.0 874.8L880.4 885.8L876.9 896.9L873.3 908.1L869.7 919.4L866.1 930.7L862.5 942.2L858.9 953.6L855.2 965.1L851.6 976.6L848.0 988.1L844.3 999.5L840.7 1010.8L837.0 1022.1L833.4 1033.2L829.7 1044.2L826.0 1055.0L822.4 1065.7L818.7 1076.2L815.0 1086.5L811.3 1096.5L807.6 1106.3L803.8 1115.8L800.1 1125.1L796.4 1134.0L792.6 1142.7M376.2 707.1L382.4 709.6L388.5 713.2L394.7 717.4L401.0 721.8L407.2 726.3L413.4 730.6L419.7 734.8L425.9 738.9L432.2 742.8L438.5 746.6L444.7 750.3L451.0 753.8L457.3 757.2L463.6 760.4L469.9 763.4L476.2 766.2L482.6 768.8L488.9 771.1L495.2 773.2L501.6 775.2L508.0 777.1L514.3 778.9L520.7 780.7L527.1 782.3L533.5 783.8L539.9 785.2L546.4 786.6L552.8 787.9L559.3 789.1L565.8 790.4L572.3 791.8L578.8 793.6L585.3 795.8L591.9 798.3L598.5 801.0L605.1 803.7L611.7 806.4L618.3 809.1L624.9 811.7L631.5 814.2L638.2 816.7L644.9 819.1L651.6 821.4L658.3 823.7L665.0 825.9L671.7 828.1L678.4 830.2L685.2 832.3L692.0 834.4L698.8 836.4L705.6 838.4L712.4 840.4L719.2 842.4L726.1 844.3L732.9 846.3L739.8 848.2L746.7 850.1L753.6 852.0L760.5 854.0L767.5 855.9L774.5 858.0L781.4 860.2L788.4 862.7L795.4 865.7L802.4 869.5L809.5 873.7L816.5 878.3L823.6 883.1L830.6 887.9L837.7 892.7L844.8 897.6L851.9 902.5L859.0 907.4L866.1 912.3L873.3 917.2L880.4 922.1L887.6 927.0L894.8 931.9L902.0 936.7L909.2 941.5L916.4 946.3L923.6 951.1L930.9 955.9L938.1 960.6L945.4 965.2L952.7 969.8L960.0 974.4L967.4 978.9L974.7 983.3L982.1 987.6L989.4 991.8L996.8 996.0L1004.2 1000.0L1011.7 1003.9L1019.1 1007.6L1026.6 1011.1M1124.1 534.7L1121.4 536.6L1118.7 538.6L1115.9 540.6L1113.2 542.7L1110.4 544.8L1107.7 547.0L1104.9 549.2L1102.1 551.5L1099.3 553.8L1096.5 556.1L1093.7 558.5L1090.8 560.8L1088.0 563.2L1085.2 565.6L1082.3 568.0L1079.4 570.5L1076.6 572.9L1073.7 575.4L1070.8 577.8L1067.9 580.2L1065.0 582.7L1062.0 585.1L1059.1 587.6L1056.2 590.0L1053.2 592.5L1050.2 594.9L1047.3 597.4L1044.3 599.9L1041.3 602.4L1038.3 605.0L1035.3 607.6L1032.2 610.3L1029.2 613.1L1026.1 615.9L1023.1 618.9L1020.0 622.0L1016.9 625.2L1013.8 628.7L1010.7 632.2L1007.5 636.0L1004.4 640.1L1001.2 644.3L998.0 648.8L994.8 653.6L991.6 658.8L988.4 664.2L985.1 669.9L981.9 676.0L978.6 682.4L975.3 689.2L972.0 696.3L968.6 703.8L965.3 711.5L961.9 719.5L958.6 727.8L955.2 736.4L951.8 745.2L948.4 754.3L944.9 763.6L941.5 773.0L938.1 782.7L934.6 792.5L931.1 802.4L927.7 812.6L924.2 822.8L920.7 833.3L917.2 843.8L913.6 854.5L910.1 865.3L906.6 876.2L903.0 887.3L899.5 898.4L895.9 909.7L892.4 921.0L888.8 932.4L885.2 943.9L881.6 955.4L878.0 967.0L874.4 978.5L870.8 990.1L867.1 1001.6L863.5 1013.1L859.9 1024.5L856.2 1035.8L852.6 1047.0L848.9 1058.1L845.3 1069.0L841.6 1079.7L837.9 1090.2L834.2 1100.5L830.6 1110.6L826.9 1120.4L823.2 1129.9L819.4 1139.1L815.7 1148.0L812.0 1156.6M366.3 742.5L372.4 744.7L378.6 747.3L384.8 750.3L391.0 753.5L397.2 756.9L403.4 760.4L409.6 763.8L415.9 767.2L422.1 770.6L428.4 773.8L434.6 777.0L440.9 780.0L447.2 783.0L453.5 785.8L459.8 788.5L466.1 791.0L472.4 793.4L478.8 795.7L485.1 797.9L491.5 799.9L497.9 801.9L504.2 803.7L510.6 805.5L517.0 807.3L523.5 809.0L529.9 810.6L536.3 812.2L542.8 813.8L549.3 815.5L555.8 817.2L562.3 819.0L568.8 820.9L575.4 823.0L581.9 825.2L588.5 827.6L595.1 830.0L601.7 832.4L608.3 834.9L615.0 837.4L621.6 839.8L628.3 842.2L635.0 844.5L641.6 846.9L648.4 849.2L655.1 851.5L661.8 853.7L668.6 856.0L675.3 858.2L682.1 860.4L688.9 862.6L695.7 864.8L702.6 867.0L709.4 869.2L716.3 871.4L723.1 873.6L730.0 875.9L736.9 878.2L743.8 880.5L750.8 883.0L757.7 885.5L764.7 888.1L771.7 891.0L778.7 894.1L785.7 897.5L792.7 901.2L799.8 905.2L806.8 909.5L813.9 913.9L820.9 918.5L828.0 923.2L835.1 928.0L842.2 932.9L849.4 937.8L856.5 942.7L863.7 947.6L870.8 952.6L878.0 957.6L885.2 962.6L892.4 967.6L899.6 972.6L906.8 977.6L914.1 982.5L921.4 987.4L928.6 992.3L935.9 997.2L943.2 1001.9L950.5 1006.6L957.9 1011.2L965.2 1015.8L972.6 1020.2L980.0 1024.5L987.4 1028.6L994.8 1032.6L1002.3 1036.4L1009.7 1040.0L1017.2 1043.4M1133.0 540.0L1130.3 541.9L1127.5 543.8L1124.8 545.8L1122.1 547.9L1119.3 549.9L1116.6 552.1L1113.8 554.2L1111.0 556.4L1108.3 558.6L1105.5 560.8L1102.7 563.1L1099.8 565.3L1097.0 567.6L1094.2 570.0L1091.3 572.3L1088.5 574.6L1085.6 577.0L1082.8 579.3L1079.9 581.7L1077.0 584.0L1074.1 586.4L1071.2 588.8L1068.3 591.2L1065.3 593.6L1062.4 596.0L1059.4 598.4L1056.5 600.8L1053.5 603.3L1050.5 605.8L1047.5 608.3L1044.5 611.0L1041.5 613.7L1038.5 616.4L1035.4 619.3L1032.4 622.3L1029.3 625.4L1026.2 628.7L1023.1 632.1L1020.0 635.7L1016.9 639.5L1013.8 643.6L1010.6 647.9L1007.4 652.4L1004.2 657.3L1001.0 662.4L997.8 667.9L994.6 673.7L991.3 679.9L988.0 686.4L984.7 693.2L981.4 700.3L978.1 707.8L974.8 715.6L971.4 723.7L968.1 732.1L964.7 740.8L961.3 749.7L957.9 758.9L954.5 768.2L951.0 777.8L947.6 787.5L944.1 797.5L940.7 807.6L937.2 817.8L933.7 828.2L930.2 838.8L926.7 849.5L923.2 860.3L919.7 871.2L916.1 882.3L912.6 893.4L909.1 904.7L905.5 916.0L901.9 927.4L898.4 938.9L894.8 950.5L891.2 962.1L887.6 973.7L884.0 985.3L880.4 996.9L876.8 1008.5L873.1 1020.0L869.5 1031.5L865.9 1042.9L862.2 1054.1L858.6 1065.2L854.9 1076.2L851.3 1087.0L847.6 1097.6L843.9 1107.9L840.2 1118.0L836.5 1127.8L832.8 1137.4L829.1 1146.6L825.4 1155.5L821.7 1164.1M361.4 759.9L367.5 762.0L373.6 764.4L379.8 767.0L386.0 769.9L392.1 772.9L398.4 775.9L404.6 779.0L410.8 782.1L417.1 785.1L423.3 788.0L429.6 790.9L435.8 793.7L442.1 796.4L448.4 799.0L454.7 801.5L461.0 803.9L467.4 806.2L473.7 808.4L480.1 810.6L486.4 812.6L492.8 814.6L499.2 816.5L505.6 818.3L512.0 820.1L518.4 821.9L524.9 823.7L531.3 825.4L537.8 827.1L544.3 828.9L550.8 830.7L557.3 832.6L563.8 834.6L570.4 836.7L576.9 838.8L583.5 841.1L590.1 843.4L596.7 845.8L603.3 848.1L610.0 850.5L616.6 852.9L623.3 855.2L630.0 857.6L636.7 859.9L643.4 862.2L650.1 864.5L656.8 866.8L663.6 869.1L670.4 871.4L677.2 873.6L684.0 875.9L690.8 878.2L697.6 880.5L704.5 882.8L711.3 885.2L718.2 887.5L725.1 890.0L732.0 892.4L738.9 895.0L745.9 897.6L752.8 900.4L759.8 903.3L766.8 906.3L773.8 909.6L780.8 913.1L787.8 916.9L794.9 920.9L801.9 925.1L809.0 929.4L816.1 934.0L823.2 938.6L830.3 943.3L837.4 948.2L844.5 953.1L851.7 958.0L858.8 963.0L866.0 968.0L873.2 973.0L880.4 978.1L887.6 983.1L894.8 988.2L902.1 993.2L909.3 998.3L916.6 1003.3L923.8 1008.3L931.1 1013.2L938.4 1018.1L945.8 1022.9L953.1 1027.6L960.5 1032.1L967.8 1036.6L975.2 1040.9L982.6 1045.1L990.1 1049.1L997.5 1052.9L1005.0 1056.4L1012.5 1059.8M1150.7 550.6L1148.0 552.5L1145.3 554.5L1142.6 556.4L1139.9 558.4L1137.2 560.3L1134.5 562.3L1131.7 564.3L1129.0 566.3L1126.2 568.4L1123.5 570.4L1120.7 572.5L1117.9 574.6L1115.1 576.7L1112.3 578.8L1109.5 581.0L1106.7 583.1L1103.9 585.3L1101.0 587.5L1098.2 589.7L1095.3 591.9L1092.4 594.2L1089.6 596.4L1086.7 598.7L1083.8 601.0L1080.8 603.3L1077.9 605.6L1075.0 608.0L1072.0 610.4L1069.1 612.8L1066.1 615.3L1063.1 617.9L1060.2 620.5L1057.1 623.3L1054.1 626.1L1051.1 629.1L1048.1 632.2L1045.0 635.4L1041.9 638.8L1038.8 642.4L1035.7 646.2L1032.6 650.3L1029.5 654.6L1026.3 659.1L1023.2 664.0L1020.0 669.2L1016.8 674.7L1013.5 680.6L1010.3 686.9L1007.0 693.5L1003.8 700.4L1000.5 707.7L997.2 715.4L993.8 723.4L990.5 731.7L987.1 740.3L983.8 749.2L980.4 758.3L977.0 767.7L973.6 777.3L970.1 787.1L966.7 797.2L963.3 807.4L959.8 817.7L956.3 828.3L952.9 838.9L949.4 849.7L945.9 860.7L942.4 871.7L938.9 882.9L935.3 894.2L931.8 905.6L928.3 917.0L924.7 928.6L921.2 940.2L917.6 951.8L914.0 963.5L910.5 975.3L906.9 987.1L903.3 998.8L899.7 1010.6L896.1 1022.4L892.4 1034.1L888.8 1045.7L885.2 1057.2L881.6 1068.7L877.9 1080.0L874.3 1091.2L870.6 1102.1L867.0 1112.9L863.3 1123.4L859.6 1133.6L856.0 1143.5L852.3 1153.2L848.6 1162.4L844.9 1171.3L841.2 1179.9M351.4 794.4L357.5 796.4L363.6 798.6L369.8 800.8L375.9 803.1L382.1 805.4L388.3 807.8L394.5 810.2L400.7 812.5L406.9 814.9L413.2 817.2L419.4 819.4L425.7 821.7L432.0 823.9L438.2 826.1L444.5 828.2L450.9 830.3L457.2 832.4L463.5 834.5L469.9 836.5L476.2 838.5L482.6 840.5L489.0 842.4L495.4 844.4L501.8 846.3L508.3 848.2L514.7 850.1L521.2 852.1L527.7 854.0L534.2 856.0L540.7 857.9L547.2 859.9L553.7 862.0L560.3 864.1L566.9 866.2L573.5 868.4L580.1 870.5L586.7 872.8L593.3 875.0L599.9 877.2L606.6 879.5L613.3 881.8L620.0 884.0L626.7 886.3L633.4 888.6L640.1 890.9L646.9 893.2L653.6 895.6L660.4 897.9L667.2 900.3L674.0 902.7L680.9 905.2L687.7 907.7L694.6 910.3L701.4 912.9L708.3 915.5L715.2 918.2L722.2 921.0L729.1 923.9L736.0 926.9L743.0 930.0L750.0 933.3L757.0 936.6L764.0 940.2L771.0 943.9L778.1 947.7L785.1 951.7L792.2 955.9L799.3 960.2L806.3 964.7L813.5 969.3L820.6 974.0L827.7 978.7L834.8 983.6L842.0 988.5L849.2 993.6L856.3 998.6L863.5 1003.7L870.7 1008.9L878.0 1014.1L885.2 1019.3L892.4 1024.5L899.7 1029.8L907.0 1035.0L914.3 1040.2L921.6 1045.3L928.9 1050.4L936.2 1055.4L943.6 1060.3L950.9 1065.1L958.3 1069.8L965.7 1074.2L973.1 1078.5L980.6 1082.5L988.0 1086.3L995.5 1089.9L1003.0 1093.1M1159.6 556.0L1156.9 557.9L1154.3 559.8L1151.6 561.7L1148.9 563.7L1146.2 565.6L1143.5 567.5L1140.7 569.4L1138.0 571.4L1135.3 573.3L1132.5 575.3L1129.8 577.3L1127.0 579.3L1124.2 581.3L1121.4 583.4L1118.6 585.4L1115.8 587.5L1113.0 589.6L1110.2 591.7L1107.3 593.9L1104.5 596.0L1101.6 598.2L1098.8 600.4L1095.9 602.6L1093.0 604.8L1090.1 607.1L1087.2 609.4L1084.3 611.7L1081.3 614.0L1078.4 616.5L1075.5 618.9L1072.5 621.5L1069.5 624.1L1066.5 626.8L1063.5 629.6L1060.5 632.5L1057.5 635.5L1054.4 638.7L1051.4 642.1L1048.3 645.6L1045.2 649.4L1042.1 653.4L1039.0 657.7L1035.8 662.2L1032.7 667.1L1029.5 672.3L1026.3 677.8L1023.1 683.7L1019.8 690.0L1016.6 696.6L1013.3 703.7L1010.0 711.1L1006.7 718.8L1003.4 726.9L1000.1 735.4L996.7 744.1L993.3 753.1L990.0 762.4L986.6 772.0L983.2 781.7L979.7 791.7L976.3 801.9L972.9 812.2L969.4 822.7L966.0 833.4L962.5 844.2L959.0 855.2L955.5 866.2L952.0 877.4L948.5 888.7L945.0 900.1L941.5 911.6L937.9 923.1L934.4 934.8L930.8 946.5L927.3 958.2L923.7 970.0L920.1 981.9L916.5 993.7L912.9 1005.6L909.4 1017.4L905.7 1029.3L902.1 1041.1L898.5 1052.8L894.9 1064.5L891.3 1076.1L887.6 1087.5L884.0 1098.8L880.4 1109.9L876.7 1120.8L873.0 1131.4L869.4 1141.8L865.7 1151.8L862.0 1161.5L858.4 1170.8L854.7 1179.7L851.0 1188.3M346.4 811.6L352.5 813.6L358.6 815.7L364.7 817.7L370.9 819.8L377.1 821.9L383.2 823.9L389.4 825.9L395.6 828.0L401.9 830.0L408.1 832.0L414.3 833.9L420.6 835.9L426.9 837.9L433.1 839.8L439.4 841.8L445.8 843.7L452.1 845.7L458.4 847.6L464.8 849.6L471.1 851.6L477.5 853.5L483.9 855.5L490.3 857.5L496.8 859.5L503.2 861.5L509.7 863.5L516.1 865.5L522.6 867.5L529.1 869.5L535.6 871.6L542.1 873.6L548.7 875.7L555.2 877.8L561.8 879.9L568.4 882.0L575.0 884.2L581.6 886.3L588.3 888.5L594.9 890.7L601.6 892.9L608.3 895.1L614.9 897.3L621.7 899.6L628.4 901.9L635.1 904.2L641.9 906.5L648.6 908.9L655.4 911.3L662.2 913.7L669.1 916.2L675.9 918.7L682.7 921.3L689.6 924.0L696.5 926.7L703.4 929.5L710.3 932.3L717.2 935.3L724.1 938.3L731.1 941.5L738.1 944.7L745.1 948.1L752.1 951.6L759.1 955.2L766.1 959.0L773.1 962.9L780.2 966.9L787.3 971.1L794.4 975.5L801.5 979.9L808.6 984.5L815.7 989.1L822.8 993.9L830.0 998.8L837.1 1003.7L844.3 1008.7L851.5 1013.8L858.7 1019.0L865.9 1024.2L873.1 1029.4L880.4 1034.7L887.6 1040.0L894.9 1045.4L902.2 1050.7L909.4 1056.0L916.8 1061.3L924.1 1066.5L931.4 1071.7L938.8 1076.8L946.1 1081.7L953.5 1086.4L960.9 1091.0L968.3 1095.4L975.8 1099.5L983.2 1103.3L990.7 1106.9L998.2 1110.1M1177.4 566.9L1174.8 568.9L1172.2 570.7L1169.5 572.6L1166.8 574.4L1164.2 576.2L1161.5 578.0L1158.8 579.8L1156.1 581.6L1153.4 583.4L1150.7 585.2L1147.9 587.0L1145.2 588.8L1142.5 590.7L1139.7 592.6L1136.9 594.5L1134.2 596.4L1131.4 598.4L1128.6 600.4L1125.8 602.4L1122.9 604.4L1120.1 606.5L1117.3 608.5L1114.4 610.6L1111.6 612.8L1108.7 614.9L1105.8 617.1L1102.9 619.4L1100.0 621.6L1097.1 624.0L1094.2 626.3L1091.2 628.8L1088.3 631.3L1085.3 633.9L1082.3 636.6L1079.4 639.4L1076.4 642.3L1073.3 645.4L1070.3 648.6L1067.3 652.0L1064.2 655.6L1061.1 659.4L1058.0 663.5L1054.9 667.9L1051.8 672.6L1048.6 677.7L1045.4 683.2L1042.2 689.1L1039.0 695.4L1035.8 702.2L1032.5 709.4L1029.3 717.0L1026.0 725.0L1022.7 733.4L1019.3 742.2L1016.0 751.3L1012.6 760.7L1009.2 770.3L1005.8 780.2L1002.4 790.3L999.0 800.6L995.6 811.1L992.2 821.8L988.7 832.6L985.3 843.5L981.8 854.6L978.3 865.8L974.8 877.1L971.4 888.5L967.9 900.1L964.3 911.7L960.8 923.4L957.3 935.1L953.8 946.9L950.2 958.8L946.7 970.7L943.1 982.7L939.5 994.7L936.0 1006.8L932.4 1018.9L928.8 1030.9L925.2 1043.0L921.6 1055.1L918.0 1067.1L914.4 1079.0L910.7 1090.9L907.1 1102.7L903.5 1114.3L899.9 1125.8L896.2 1137.0L892.6 1148.0L888.9 1158.7L885.3 1169.1L881.6 1179.0L878.0 1188.5L874.3 1197.5L870.6 1206.0M336.3 846.1L342.4 848.1L348.5 850.0L354.7 851.7L360.8 853.3L367.0 854.8L373.1 856.2L379.3 857.6L385.5 858.9L391.7 860.2L397.9 861.6L404.1 862.9L410.4 864.3L416.6 865.8L422.9 867.3L429.2 868.8L435.5 870.4L441.8 872.1L448.2 873.9L454.5 875.8L460.9 877.7L467.3 879.6L473.7 881.7L480.1 883.7L486.5 885.8L493.0 888.0L499.4 890.2L505.9 892.3L512.4 894.5L518.9 896.7L525.4 898.9L532.0 901.0L538.5 903.2L545.1 905.3L551.7 907.3L558.3 909.4L564.9 911.4L571.5 913.5L578.1 915.5L584.8 917.6L591.5 919.7L598.2 921.8L604.9 923.9L611.6 926.1L618.3 928.3L625.1 930.6L631.8 932.9L638.6 935.3L645.4 937.8L652.2 940.3L659.0 943.0L665.9 945.6L672.7 948.4L679.6 951.2L686.5 954.2L693.4 957.2L700.3 960.3L707.3 963.5L714.2 966.8L721.2 970.2L728.2 973.7L735.2 977.3L742.2 981.0L749.2 984.8L756.2 988.7L763.3 992.7L770.3 996.8L777.4 1001.0L784.5 1005.4L791.6 1009.8L798.8 1014.3L805.9 1019.0L813.0 1023.7L820.2 1028.6L827.4 1033.5L834.6 1038.6L841.8 1043.7L849.0 1048.9L856.2 1054.3L863.4 1059.6L870.7 1065.1L877.9 1070.6L885.2 1076.2L892.5 1081.8L899.8 1087.4L907.1 1093.0L914.4 1098.6L921.8 1104.1L929.1 1109.5L936.5 1114.8L943.9 1119.9L951.3 1124.8L958.7 1129.5L966.2 1133.8L973.6 1137.8L981.1 1141.4L988.7 1144.6M1186.4 572.5L1183.8 574.4L1181.1 576.3L1178.5 578.1L1175.8 579.8L1173.2 581.6L1170.5 583.3L1167.8 585.0L1165.2 586.7L1162.5 588.4L1159.8 590.1L1157.1 591.9L1154.3 593.7L1151.6 595.4L1148.9 597.3L1146.1 599.1L1143.4 601.0L1140.6 602.9L1137.8 604.8L1135.0 606.7L1132.2 608.7L1129.4 610.7L1126.6 612.7L1123.7 614.8L1120.9 616.9L1118.0 619.0L1115.2 621.2L1112.3 623.4L1109.4 625.6L1106.5 627.9L1103.6 630.2L1100.7 632.6L1097.7 635.0L1094.8 637.6L1091.8 640.2L1088.8 642.9L1085.8 645.7L1082.8 648.7L1079.8 651.8L1076.8 655.1L1073.7 658.6L1070.7 662.2L1067.6 666.2L1064.5 670.5L1061.4 675.1L1058.2 680.0L1055.1 685.4L1051.9 691.3L1048.7 697.6L1045.5 704.5L1042.2 711.8L1038.9 719.6L1035.6 727.8L1032.3 736.4L1029.0 745.4L1025.7 754.7L1022.3 764.3L1018.9 774.1L1015.5 784.2L1012.1 794.5L1008.7 805.0L1005.3 815.7L1001.9 826.5L998.4 837.4L995.0 848.5L991.5 859.7L988.0 871.1L984.6 882.5L981.1 894.0L977.6 905.7L974.1 917.4L970.5 929.1L967.0 941.0L963.5 952.9L959.9 964.9L956.4 976.9L952.8 988.9L949.3 1001.0L945.7 1013.2L942.1 1025.3L938.6 1037.5L935.0 1049.7L931.4 1061.9L927.8 1074.0L924.1 1086.2L920.5 1098.2L916.9 1110.2L913.3 1122.1L909.6 1133.8L906.0 1145.3L902.4 1156.5L898.7 1167.5L895.1 1178.0L891.4 1188.2L887.8 1197.8L884.1 1206.9L880.5 1215.4M331.3 863.4L337.4 865.5L343.5 867.2L349.6 868.8L355.7 870.1L361.9 871.3L368.0 872.3L374.2 873.3L380.4 874.3L386.5 875.2L392.7 876.2L399.0 877.3L405.2 878.3L411.5 879.5L417.7 880.8L424.0 882.1L430.3 883.6L436.6 885.2L443.0 886.9L449.3 888.7L455.7 890.6L462.1 892.6L468.5 894.6L474.9 896.7L481.4 898.9L487.8 901.2L494.3 903.4L500.8 905.7L507.3 908.0L513.8 910.3L520.3 912.5L526.9 914.7L533.4 916.9L540.0 919.0L546.6 921.0L553.2 923.0L559.8 925.0L566.4 927.0L573.1 929.0L579.7 930.9L586.4 933.0L593.1 935.0L599.8 937.1L606.5 939.2L613.2 941.4L620.0 943.7L626.8 946.0L633.5 948.5L640.3 950.9L647.2 953.5L654.0 956.2L660.8 958.9L667.7 961.8L674.6 964.7L681.5 967.7L688.4 970.8L695.3 974.1L702.3 977.4L709.2 980.8L716.2 984.3L723.2 987.9L730.2 991.7L737.2 995.5L744.2 999.3L751.3 1003.3L758.3 1007.3L765.4 1011.5L772.5 1015.7L779.6 1020.0L786.7 1024.4L793.8 1028.9L801.0 1033.5L808.1 1038.3L815.3 1043.1L822.5 1048.1L829.7 1053.1L836.9 1058.3L844.1 1063.6L851.3 1068.9L858.6 1074.4L865.8 1079.9L873.1 1085.6L880.4 1091.2L887.6 1097.0L894.9 1102.8L902.3 1108.5L909.6 1114.3L916.9 1120.0L924.3 1125.7L931.7 1131.2L939.1 1136.6L946.5 1141.8L953.9 1146.7L961.3 1151.2L968.8 1155.3L976.3 1159.0L983.8 1162.2M1204.4 583.8L1201.8 585.7L1199.1 587.5L1196.5 589.2L1193.9 590.8L1191.3 592.4L1188.7 593.9L1186.0 595.4L1183.4 597.0L1180.7 598.5L1178.0 600.1L1175.4 601.7L1172.7 603.3L1170.0 605.0L1167.3 606.6L1164.5 608.4L1161.8 610.1L1159.1 611.9L1156.3 613.8L1153.5 615.6L1150.8 617.5L1148.0 619.4L1145.2 621.4L1142.4 623.4L1139.6 625.4L1136.7 627.4L1133.9 629.5L1131.1 631.6L1128.2 633.8L1125.3 635.9L1122.4 638.2L1119.5 640.5L1116.6 642.8L1113.7 645.2L1110.8 647.7L1107.8 650.2L1104.9 652.9L1101.9 655.6L1098.9 658.5L1095.9 661.4L1092.9 664.6L1089.9 667.9L1086.8 671.5L1083.8 675.3L1080.7 679.5L1077.6 684.1L1074.5 689.2L1071.3 694.8L1068.1 701.2L1064.9 708.1L1061.7 715.8L1058.4 724.0L1055.1 732.7L1051.8 741.9L1048.4 751.4L1045.1 761.2L1041.7 771.3L1038.4 781.7L1035.0 792.2L1031.6 802.9L1028.2 813.7L1024.8 824.7L1021.3 835.8L1017.9 847.1L1014.5 858.4L1011.0 869.9L1007.5 881.4L1004.1 893.1L1000.6 904.8L997.1 916.7L993.6 928.6L990.1 940.5L986.6 952.5L983.0 964.5L979.5 976.6L976.0 988.8L972.4 1000.9L968.9 1013.2L965.3 1025.4L961.7 1037.8L958.2 1050.1L954.6 1062.5L951.0 1075.0L947.4 1087.4L943.8 1099.9L940.2 1112.4L936.5 1124.8L932.9 1137.2L929.3 1149.5L925.7 1161.6L922.0 1173.5L918.4 1185.2L914.7 1196.5L911.1 1207.3L907.4 1217.4L903.8 1226.8L900.2 1235.4M321.2 898.6L327.3 900.5L333.4 901.9L339.5 902.9L345.6 903.5L351.7 903.9L357.8 904.1L363.9 904.3L370.1 904.4L376.2 904.6L382.4 904.8L388.6 905.1L394.8 905.6L401.1 906.2L407.3 907.0L413.6 908.0L419.9 909.2L426.3 910.5L432.6 912.1L439.0 913.8L445.3 915.7L451.7 917.8L458.2 920.0L464.6 922.3L471.0 924.6L477.5 927.1L484.0 929.6L490.5 932.2L497.0 934.7L503.5 937.2L510.1 939.7L516.6 942.0L523.2 944.3L529.8 946.4L536.4 948.3L543.0 950.2L549.6 952.0L556.2 953.8L562.8 955.5L569.5 957.3L576.2 959.2L582.9 961.1L589.6 963.0L596.3 965.1L603.1 967.2L609.8 969.4L616.6 971.8L623.4 974.2L630.2 976.7L637.0 979.3L643.9 982.1L650.7 984.9L657.6 987.9L664.5 991.0L671.4 994.2L678.3 997.5L685.3 1001.0L692.2 1004.5L699.2 1008.2L706.2 1012.0L713.2 1015.8L720.2 1019.8L727.2 1023.8L734.3 1027.8L741.3 1031.9L748.4 1036.0L755.5 1040.1L762.6 1044.3L769.7 1048.6L776.8 1052.9L783.9 1057.3L791.1 1061.9L798.3 1066.5L805.4 1071.3L812.6 1076.3L819.8 1081.3L827.1 1086.5L834.3 1091.9L841.5 1097.3L848.8 1102.9L856.0 1108.6L863.3 1114.4L870.6 1120.4L877.9 1126.4L885.2 1132.5L892.6 1138.7L899.9 1144.9L907.2 1151.1L914.6 1157.4L922.0 1163.6L929.4 1169.6L936.8 1175.5L944.2 1181.1L951.6 1186.2L959.1 1190.9L966.6 1194.9L974.2 1198.1M1213.4 589.6L1210.8 591.5L1208.2 593.2L1205.6 594.8L1203.0 596.3L1200.4 597.8L1197.8 599.2L1195.1 600.6L1192.5 602.1L1189.9 603.5L1187.2 605.0L1184.5 606.5L1181.9 608.1L1179.2 609.7L1176.5 611.3L1173.8 613.0L1171.1 614.7L1168.3 616.5L1165.6 618.3L1162.9 620.1L1160.1 622.0L1157.3 623.9L1154.5 625.8L1151.8 627.7L1148.9 629.7L1146.1 631.8L1143.3 633.8L1140.5 635.9L1137.6 638.0L1134.8 640.2L1131.9 642.4L1129.0 644.6L1126.1 646.9L1123.2 649.2L1120.3 651.6L1117.4 654.1L1114.4 656.6L1111.5 659.3L1108.5 662.0L1105.5 664.8L1102.5 667.7L1099.5 670.8L1096.5 674.1L1093.5 677.7L1090.4 681.5L1087.3 685.8L1084.2 690.6L1081.1 696.1L1077.9 702.3L1074.7 709.4L1071.4 717.3L1068.2 725.8L1064.9 734.9L1061.6 744.5L1058.2 754.4L1054.9 764.5L1051.5 774.9L1048.1 785.5L1044.8 796.2L1041.4 807.1L1038.0 818.1L1034.5 829.3L1031.1 840.5L1027.7 851.9L1024.2 863.4L1020.8 874.9L1017.3 886.6L1013.8 898.3L1010.4 910.2L1006.9 922.1L1003.4 934.0L999.9 946.1L996.4 958.1L992.8 970.2L989.3 982.3L985.8 994.5L982.2 1006.7L978.7 1018.9L975.1 1031.3L971.6 1043.6L968.0 1056.1L964.4 1068.6L960.8 1081.1L957.2 1093.7L953.6 1106.3L950.0 1119.0L946.4 1131.7L942.8 1144.3L939.2 1156.9L935.5 1169.4L931.9 1181.8L928.2 1193.9L924.6 1205.8L920.9 1217.1L917.3 1227.7L913.7 1237.4L910.0 1246.1M316.1 916.4L322.2 918.3L328.3 919.4L334.4 920.0L340.5 920.0L346.6 919.9L352.7 919.6L358.8 919.2L364.9 918.9L371.0 918.7L377.2 918.5L383.4 918.5L389.6 918.7L395.9 919.0L402.1 919.6L408.4 920.3L414.7 921.4L421.0 922.7L427.4 924.2L433.7 925.9L440.1 927.9L446.5 930.0L452.9 932.3L459.4 934.7L465.8 937.2L472.3 939.8L478.8 942.4L485.3 945.1L491.8 947.9L498.4 950.6L504.9 953.2L511.5 955.7L518.0 958.0L524.6 960.0L531.2 961.9L537.8 963.7L544.4 965.3L551.1 966.9L557.7 968.6L564.4 970.2L571.0 972.0L577.7 973.8L584.5 975.7L591.2 977.7L597.9 979.8L604.7 982.0L611.5 984.3L618.3 986.7L625.1 989.3L631.9 991.9L638.8 994.7L645.7 997.6L652.5 1000.6L659.4 1003.8L666.3 1007.1L673.3 1010.5L680.2 1014.0L687.2 1017.7L694.2 1021.5L701.1 1025.4L708.1 1029.4L715.2 1033.5L722.2 1037.6L729.2 1041.8L736.3 1045.9L743.4 1050.0L750.5 1054.1L757.6 1058.2L764.7 1062.4L771.8 1066.7L779.0 1071.0L786.1 1075.5L793.3 1080.2L800.5 1084.9L807.7 1089.8L814.9 1094.9L822.1 1100.1L829.4 1105.4L836.6 1110.9L843.9 1116.6L851.2 1122.3L858.4 1128.2L865.7 1134.3L873.0 1140.4L880.4 1146.7L887.7 1153.1L895.0 1159.5L902.4 1166.0L909.7 1172.6L917.1 1179.2L924.5 1185.7L931.9 1192.0L939.3 1198.1L946.8 1203.8L954.3 1208.9L961.8 1213.2L969.3 1216.5M1231.4 601.6L1228.8 603.4L1226.3 604.8L1223.7 606.0L1221.2 607.2L1218.6 608.3L1216.0 609.5L1213.5 610.7L1210.9 612.0L1208.3 613.3L1205.6 614.7L1203.0 616.1L1200.4 617.5L1197.7 619.1L1195.0 620.6L1192.4 622.3L1189.7 623.9L1187.0 625.6L1184.3 627.4L1181.5 629.2L1178.8 631.0L1176.1 632.9L1173.3 634.8L1170.5 636.7L1167.8 638.7L1165.0 640.7L1162.2 642.7L1159.4 644.7L1156.6 646.8L1153.7 648.9L1150.9 651.1L1148.0 653.3L1145.2 655.5L1142.3 657.8L1139.4 660.1L1136.5 662.4L1133.6 664.8L1130.7 667.3L1127.8 669.7L1124.8 672.3L1121.9 674.9L1118.9 677.5L1115.9 680.2L1112.9 683.0L1109.9 686.0L1106.9 689.2L1103.8 692.8L1100.7 697.3L1097.6 703.2L1094.4 710.7L1091.1 719.7L1087.8 729.5L1084.5 739.7L1081.2 750.2L1077.8 760.9L1074.5 771.7L1071.1 782.7L1067.7 793.7L1064.4 804.8L1061.0 816.0L1057.6 827.3L1054.2 838.6L1050.7 850.1L1047.3 861.6L1043.9 873.2L1040.4 884.9L1037.0 896.7L1033.5 908.6L1030.0 920.6L1026.6 932.7L1023.1 944.8L1019.6 956.9L1016.1 969.1L1012.6 981.1L1009.1 993.2L1005.5 1005.3L1002.0 1017.5L998.5 1029.8L994.9 1042.1L991.4 1054.5L987.8 1067.0L984.2 1079.6L980.7 1092.3L977.1 1105.1L973.5 1117.9L969.9 1130.9L966.2 1143.9L962.6 1157.0L959.0 1170.2L955.4 1183.4L951.7 1196.7L948.1 1210.0L944.4 1223.3L940.7 1236.3L937.1 1248.8L933.4 1260.1L929.8 1269.4M306.0 953.3L312.1 954.7L318.1 954.4L324.1 953.2L330.2 951.7L336.2 950.1L342.3 948.7L348.3 947.3L354.4 946.1L360.6 945.2L366.7 944.4L372.9 943.8L379.1 943.3L385.3 943.1L391.5 943.2L397.8 943.5L404.1 944.2L410.4 945.5L416.8 947.1L423.2 949.0L429.6 951.1L436.0 953.4L442.4 955.9L448.9 958.5L455.4 961.3L461.9 964.1L468.4 967.1L474.9 970.3L481.4 973.5L488.0 976.7L494.5 979.9L501.1 982.9L507.7 985.5L514.3 987.4L520.9 988.8L527.5 990.0L534.1 991.2L540.7 992.4L547.4 993.7L554.0 995.1L560.7 996.6L567.4 998.3L574.1 1000.1L580.9 1002.0L587.6 1004.0L594.4 1006.2L601.2 1008.5L608.0 1011.0L614.8 1013.5L621.7 1016.3L628.5 1019.1L635.4 1022.1L642.3 1025.2L649.2 1028.5L656.2 1031.9L663.1 1035.5L670.1 1039.2L677.0 1043.1L684.0 1047.1L691.0 1051.3L698.0 1055.6L705.1 1060.1L712.1 1064.6L719.2 1069.1L726.2 1073.3L733.3 1077.4L740.4 1081.3L747.6 1085.1L754.7 1089.0L761.8 1093.0L769.0 1097.2L776.2 1101.6L783.4 1106.1L790.6 1110.8L797.8 1115.6L805.0 1120.6L812.2 1125.8L819.5 1131.2L826.8 1136.7L834.0 1142.4L841.3 1148.2L848.6 1154.3L855.9 1160.4L863.3 1166.8L870.6 1173.3L877.9 1180.0L885.3 1186.8L892.7 1193.8L900.0 1201.0L907.4 1208.3L914.8 1215.7L922.2 1223.2L929.6 1230.8L937.0 1238.1L944.5 1245.1L952.0 1250.9L959.5 1254.8M1240.5 607.9L1237.9 609.5L1235.4 610.4L1232.9 611.3L1230.3 612.3L1227.8 613.3L1225.2 614.3L1222.7 615.5L1220.1 616.7L1217.5 618.0L1214.9 619.3L1212.3 620.7L1209.6 622.2L1207.0 623.7L1204.3 625.2L1201.7 626.8L1199.0 628.5L1196.3 630.2L1193.6 632.0L1190.9 633.8L1188.2 635.6L1185.5 637.5L1182.7 639.4L1180.0 641.3L1177.2 643.3L1174.4 645.3L1171.7 647.3L1168.9 649.3L1166.1 651.4L1163.2 653.5L1160.4 655.7L1157.6 657.9L1154.7 660.1L1151.9 662.3L1149.0 664.6L1146.1 667.0L1143.2 669.3L1140.3 671.7L1137.4 674.1L1134.5 676.6L1131.5 679.1L1128.6 681.5L1125.6 684.0L1122.7 686.6L1119.7 689.1L1116.7 691.6L1113.7 694.3L1110.6 697.5L1107.5 702.5L1104.3 710.9L1101.0 721.2L1097.7 732.0L1094.4 742.9L1091.0 753.9L1087.7 764.9L1084.3 776.0L1080.9 787.1L1077.6 798.2L1074.2 809.4L1070.8 820.7L1067.4 832.1L1064.0 843.5L1060.6 855.0L1057.2 866.5L1053.7 878.2L1050.3 889.9L1046.8 901.8L1043.4 913.7L1039.9 925.7L1036.4 937.8L1033.0 950.0L1029.5 962.2L1026.0 974.4L1022.5 986.4L1019.0 998.4L1015.5 1010.4L1011.9 1022.5L1008.4 1034.7L1004.9 1047.0L1001.3 1059.4L997.8 1071.9L994.2 1084.5L990.6 1097.2L987.0 1110.0L983.4 1122.9L979.8 1135.9L976.2 1149.0L972.6 1162.2L969.0 1175.6L965.3 1189.1L961.7 1202.7L958.0 1216.5L954.4 1230.4L950.7 1244.5L947.0 1258.5L943.3 1271.9L939.7 1282.5M301.0 972.9L307.0 973.0L313.0 970.9L318.9 968.3L324.9 965.9L330.9 963.6L337.0 961.7L343.0 960.0L349.1 958.6L355.2 957.3L361.4 956.3L367.6 955.5L373.8 954.9L380.0 954.4L386.2 954.2L392.5 954.2L398.8 954.7L405.1 956.1L411.5 957.9L417.9 960.0L424.3 962.3L430.7 964.7L437.1 967.2L443.6 969.9L450.1 972.7L456.6 975.7L463.1 978.8L469.6 982.1L476.2 985.6L482.7 989.1L489.3 992.8L495.9 996.5L502.5 999.4L509.1 1000.9L515.7 1001.8L522.3 1002.5L528.9 1003.4L535.5 1004.4L542.2 1005.6L548.8 1006.9L555.5 1008.3L562.2 1010.0L568.9 1011.7L575.7 1013.6L582.5 1015.7L589.2 1017.8L596.0 1020.2L602.8 1022.6L609.7 1025.2L616.5 1027.9L623.4 1030.8L630.3 1033.9L637.2 1037.0L644.1 1040.3L651.0 1043.8L658.0 1047.4L664.9 1051.2L671.9 1055.2L678.9 1059.3L685.9 1063.6L693.0 1068.1L700.0 1072.7L707.0 1077.5L714.1 1082.3L721.2 1086.9L728.3 1090.7L735.4 1094.2L742.5 1097.8L749.7 1101.6L756.8 1105.5L764.0 1109.6L771.2 1113.8L778.4 1118.3L785.6 1122.9L792.8 1127.8L800.0 1132.8L807.3 1137.9L814.5 1143.3L821.8 1148.8L829.1 1154.5L836.4 1160.3L843.7 1166.4L851.0 1172.6L858.4 1179.0L865.7 1185.5L873.1 1192.3L880.4 1199.2L887.8 1206.3L895.2 1213.7L902.6 1221.2L910.0 1229.0L917.4 1237.0L924.8 1245.2L932.2 1253.6L939.6 1262.1L947.0 1270.1L954.6 1275.3" fill="none" stroke="#d05858" stroke-width="1.7" opacity="0.55"/>
<path d="M644.0 371.2L640.7 375.2L637.5 378.3L634.2 381.3L630.9 384.1L627.7 386.8L624.4 389.3L621.0 391.9L617.7 394.3L614.4 396.7L611.1 399.0L607.7 401.3L604.3 403.6L601.0 405.8L597.6 408.0L594.2 410.2L590.8 412.3L587.4 414.4L583.9 416.5L580.5 418.5L577.1 420.4L573.6 422.3L570.1 424.1L566.6 425.8L563.1 426.8L559.7 432.5L556.2 437.6L552.7 442.6L549.3 447.5L545.8 452.3L542.2 457.1L538.7 461.8L535.2 466.6L531.7 471.3L528.1 476.0L524.6 480.7L521.0 485.3L517.4 490.0L513.8 494.7L510.2 499.3L506.6 503.9L503.0 508.5L499.4 513.1L495.7 517.7L492.1 522.2L488.4 526.7L484.7 531.1L481.1 535.5L477.4 539.5L473.7 545.8L470.0 551.8L466.3 557.7L462.6 563.6L458.9 569.4L455.2 575.2L451.4 580.9L447.7 586.7L443.9 592.3L440.2 598.0L436.4 603.6L432.6 609.2L428.8 614.8L425.0 620.3L421.1 625.8L417.3 631.2L413.4 636.6L409.6 641.9L405.7 647.1L401.8 652.1L397.9 657.0L394.0 661.7L390.0 665.8L386.0 668.3L382.4 684.0L378.7 698.1L375.0 711.6L371.3 725.0L367.6 738.2L363.8 751.2L360.1 764.2L356.4 777.2L352.6 790.1L348.9 803.0L345.1 815.9L341.3 828.8L337.6 841.8L333.8 854.8L330.0 867.8L326.2 880.9L322.4 894.1L318.6 907.5L314.8 921.0L311.1 934.6L307.3 948.6L303.5 962.9L299.7 978.0L296.1 995.4M644.0 371.2L649.8 375.0L655.6 378.2L661.4 381.2L667.2 384.1L673.0 387.0L678.8 389.8L684.7 392.7L690.5 395.6L696.4 398.5L702.2 401.4L708.1 404.3L714.0 407.3L719.9 410.4L725.8 413.5L731.7 416.7L737.7 420.3L743.6 421.1L749.5 422.4L755.5 423.7L761.5 425.1L767.5 426.6L773.5 428.1L779.5 429.7L785.5 431.3L791.5 433.0L797.6 434.7L803.6 436.5L809.7 438.4L815.8 440.3L821.9 442.2L828.0 444.3L834.1 446.7L840.2 447.1L846.3 447.8L852.5 448.6L858.7 449.5L864.9 450.4L871.1 451.4L877.3 452.4L883.5 453.4L889.7 454.5L896.0 455.6L902.2 456.8L908.5 458.0L914.8 459.1L921.1 460.3L927.4 461.5L933.7 462.8L940.1 464.0L946.4 465.2L952.8 466.5L959.2 467.7L965.6 469.0L972.0 470.2L978.4 471.4L984.8 472.6L991.3 473.8L997.7 474.9L1004.2 476.0L1010.7 477.1L1017.2 478.0L1023.7 478.9L1030.3 479.6L1036.8 479.7L1043.3 484.7L1049.8 489.1L1056.3 493.4L1062.8 497.5L1069.3 501.6L1075.8 505.6L1082.4 509.6L1088.9 513.6L1095.5 517.5L1102.1 521.5L1108.7 525.4L1115.3 529.4L1121.9 533.3L1128.5 537.3L1135.2 541.3L1141.8 545.3L1148.5 549.3L1155.1 553.3L1161.8 557.4L1168.5 561.4L1175.2 565.6L1181.9 569.7L1188.6 573.9L1195.4 578.1L1202.1 582.4L1208.9 586.7L1215.6 591.1L1222.4 595.5L1229.2 600.1L1235.9 604.7L1242.7 609.6L1249.5 615.0M667.2 384.1L663.9 385.4L660.7 387.0L657.4 388.9L654.2 391.0L650.9 393.1L647.6 395.3L644.3 397.4L641.0 399.6L637.7 401.8L634.4 404.0L631.1 406.1L627.7 408.3L624.4 410.4L621.0 412.6L617.6 414.8L614.3 416.9L610.9 419.1L607.5 421.3L604.0 423.6L600.6 425.9L597.2 428.4L593.8 431.0L590.3 433.9L586.9 437.1L583.4 440.6L579.9 444.5L576.5 448.7L573.0 453.0L569.5 457.5L566.0 462.0L562.5 466.6L559.0 471.2L555.5 475.9L551.9 480.6L548.4 485.3L544.8 490.0L541.3 494.7L537.7 499.4L534.1 504.2L530.5 509.0L527.0 513.7L523.3 518.5L519.7 523.3L516.1 528.1L512.5 533.0L508.8 537.9L505.2 543.0L501.5 548.2L497.8 553.6L494.2 559.1L490.5 564.7L486.8 570.4L483.1 576.1L479.4 581.9L475.6 587.6L471.9 593.4L468.2 599.2L464.4 605.0L460.7 610.8L456.9 616.6L453.1 622.4L449.3 628.2L445.5 634.0L441.7 639.9L437.9 645.8L434.1 651.8L430.2 657.9L426.4 664.2L422.5 670.8L418.7 677.8L414.9 685.5L411.0 694.2L407.2 703.8L403.5 714.4L399.7 725.7L396.0 737.4L392.2 749.4L388.5 761.7L384.7 774.0L380.9 786.4L377.2 798.9L373.4 811.4L369.6 824.0L365.9 836.5L362.1 849.1L358.3 861.7L354.5 874.3L350.7 886.8L346.9 899.4L343.0 911.8L339.2 924.1L335.3 936.2L331.5 947.9L327.6 959.0L323.6 969.1L319.6 978.0M630.9 384.1L636.7 385.2L642.5 386.8L648.3 388.8L654.2 391.0L660.0 393.3L665.9 395.8L671.7 398.4L677.6 401.0L683.5 403.6L689.4 406.3L695.3 409.0L701.2 411.7L707.1 414.4L713.1 416.9L719.0 419.4L725.0 421.7L730.9 423.8L736.9 425.7L742.9 427.5L748.9 429.2L754.9 430.9L760.9 432.6L767.0 434.2L773.0 435.9L779.1 437.6L785.1 439.3L791.2 441.0L797.3 442.7L803.4 444.4L809.5 446.1L815.7 447.7L821.8 449.2L828.0 450.6L834.1 451.9L840.3 453.1L846.5 454.3L852.7 455.5L859.0 456.7L865.2 457.9L871.4 459.1L877.7 460.3L884.0 461.6L890.3 462.9L896.6 464.2L902.9 465.5L909.2 466.9L915.5 468.2L921.9 469.6L928.3 471.0L934.6 472.4L941.0 473.8L947.4 475.2L953.9 476.6L960.3 478.0L966.7 479.4L973.2 480.8L979.7 482.2L986.1 483.7L992.6 485.2L999.1 486.7L1005.7 488.3L1012.2 490.1L1018.7 492.2L1025.3 494.6L1031.8 497.4L1038.4 500.5L1044.9 503.8L1051.5 507.3L1058.0 511.0L1064.6 514.7L1071.2 518.4L1077.8 522.2L1084.4 526.0L1091.0 529.8L1097.7 533.7L1104.3 537.5L1111.0 541.4L1117.6 545.3L1124.3 549.2L1131.0 553.1L1137.7 557.0L1144.4 561.0L1151.1 565.0L1157.8 569.0L1164.6 573.0L1171.3 577.1L1178.1 581.2L1184.9 585.3L1191.7 589.4L1198.4 593.6L1205.3 597.7L1212.1 601.8L1218.9 605.9L1225.8 609.8L1232.6 613.5L1239.5 616.9M690.5 395.6L687.3 396.8L684.1 398.1L680.8 399.5L677.6 401.0L674.3 402.5L671.1 404.2L667.8 405.9L664.5 407.7L661.2 409.5L657.9 411.4L654.6 413.4L651.3 415.4L648.0 417.4L644.6 419.6L641.3 421.7L637.9 424.0L634.6 426.3L631.2 428.8L627.8 431.3L624.4 433.9L621.0 436.7L617.6 439.7L614.2 442.8L610.7 446.1L607.3 449.5L603.9 453.2L600.4 457.0L596.9 461.0L593.5 465.1L590.0 469.3L586.5 473.7L583.0 478.1L579.5 482.7L576.0 487.3L572.5 491.9L568.9 496.6L565.4 501.4L561.8 506.3L558.3 511.1L554.7 516.1L551.1 521.1L547.5 526.1L544.0 531.2L540.3 536.3L536.7 541.5L533.1 546.7L529.5 552.0L525.8 557.4L522.2 562.8L518.5 568.3L514.9 573.9L511.2 579.6L507.5 585.3L503.8 591.0L500.1 596.8L496.4 602.7L492.7 608.6L489.0 614.6L485.2 620.7L481.5 626.8L477.7 633.0L473.9 639.2L470.2 645.6L466.4 652.2L462.6 658.8L458.8 665.7L455.0 672.8L451.2 680.1L447.4 687.8L443.6 695.8L439.8 704.3L436.0 713.1L432.3 722.4L428.5 732.2L424.7 742.3L420.9 752.8L417.1 763.6L413.3 774.6L409.5 785.8L405.8 797.2L402.0 808.7L398.2 820.2L394.4 831.8L390.6 843.5L386.7 855.1L382.9 866.6L379.1 878.1L375.2 889.5L371.4 900.7L367.5 911.7L363.6 922.5L359.7 932.9L355.7 942.9L351.8 952.5L347.8 961.5L343.8 970.0M617.7 394.3L623.5 395.3L629.3 396.5L635.2 398.0L641.0 399.6L646.9 401.4L652.8 403.4L658.6 405.5L664.5 407.7L670.4 410.0L676.4 412.3L682.3 414.6L688.2 416.9L694.2 419.2L700.1 421.4L706.1 423.6L712.1 425.7L718.1 427.7L724.1 429.7L730.1 431.6L736.1 433.4L742.2 435.2L748.2 436.9L754.3 438.6L760.4 440.2L766.4 441.9L772.5 443.5L778.7 445.1L784.8 446.8L790.9 448.4L797.1 449.9L803.2 451.5L809.4 453.0L815.6 454.6L821.8 456.1L828.0 457.5L834.2 459.0L840.4 460.5L846.7 462.0L853.0 463.5L859.2 465.0L865.5 466.5L871.8 468.0L878.1 469.5L884.5 471.1L890.8 472.7L897.1 474.2L903.5 475.8L909.9 477.5L916.3 479.1L922.7 480.7L929.1 482.4L935.5 484.0L942.0 485.7L948.4 487.4L954.9 489.2L961.4 490.9L967.9 492.8L974.4 494.6L980.9 496.5L987.4 498.5L993.9 500.6L1000.5 502.9L1007.0 505.2L1013.6 507.7L1020.2 510.4L1026.8 513.2L1033.4 516.2L1040.0 519.3L1046.6 522.5L1053.2 525.7L1059.8 529.1L1066.5 532.5L1073.1 536.0L1079.8 539.5L1086.5 543.0L1093.2 546.6L1099.9 550.3L1106.6 553.9L1113.3 557.6L1120.0 561.3L1126.8 565.1L1133.5 568.8L1140.3 572.6L1147.0 576.5L1153.8 580.3L1160.6 584.1L1167.4 588.0L1174.3 591.8L1181.1 595.7L1187.9 599.5L1194.8 603.3L1201.7 607.1L1208.6 610.8L1215.5 614.4L1222.4 617.9L1229.3 621.2M714.0 407.3L710.8 408.5L707.6 409.5L704.4 410.6L701.2 411.7L698.0 412.9L694.7 414.1L691.5 415.4L688.2 416.9L685.0 418.4L681.7 420.0L678.4 421.7L675.1 423.6L671.8 425.5L668.5 427.5L665.2 429.7L661.8 431.9L658.5 434.3L655.1 436.9L651.8 439.5L648.4 442.3L645.0 445.3L641.6 448.3L638.2 451.5L634.8 454.9L631.4 458.3L628.0 461.8L624.5 465.5L621.1 469.3L617.6 473.3L614.2 477.4L610.7 481.6L607.2 485.9L603.7 490.4L600.2 495.0L596.7 499.7L593.2 504.4L589.7 509.3L586.2 514.3L582.6 519.3L579.1 524.4L575.5 529.6L572.0 534.8L568.4 540.2L564.8 545.5L561.2 551.0L557.6 556.5L554.0 562.0L550.4 567.5L546.8 573.1L543.1 578.6L539.5 584.3L535.8 589.9L532.2 595.7L528.5 601.5L524.8 607.4L521.1 613.3L517.4 619.4L513.7 625.5L510.0 631.8L506.3 638.2L502.5 644.7L498.8 651.3L495.0 658.2L491.3 665.1L487.5 672.3L483.8 679.7L480.0 687.3L476.2 695.2L472.5 703.3L468.7 711.7L464.9 720.3L461.1 729.1L457.3 738.2L453.6 747.5L449.8 757.0L446.0 766.7L442.2 776.7L438.4 786.8L434.6 797.1L430.8 807.6L427.0 818.2L423.1 828.8L419.3 839.5L415.5 850.1L411.6 860.8L407.8 871.4L403.9 881.8L400.0 892.1L396.1 902.3L392.2 912.2L388.3 921.9L384.4 931.3L380.4 940.4L376.4 949.2L372.4 957.7L368.4 966.0M604.3 403.6L610.2 404.5L616.0 405.6L621.9 406.8L627.7 408.3L633.6 409.9L639.5 411.6L645.4 413.5L651.3 415.4L657.2 417.4L663.2 419.4L669.1 421.5L675.1 423.6L681.1 425.6L687.1 427.7L693.1 429.7L699.1 431.6L705.1 433.5L711.1 435.4L717.2 437.2L723.2 438.9L729.3 440.6L735.3 442.3L741.4 443.9L747.5 445.4L753.7 447.0L759.8 448.5L765.9 450.1L772.1 451.6L778.2 453.1L784.4 454.7L790.6 456.2L796.8 457.8L803.0 459.4L809.2 461.1L815.5 462.8L821.7 464.5L828.0 466.2L834.3 467.9L840.5 469.7L846.8 471.5L853.2 473.3L859.5 475.1L865.8 477.0L872.2 478.8L878.5 480.7L884.9 482.5L891.3 484.4L897.7 486.3L904.1 488.2L910.5 490.1L917.0 492.1L923.4 494.0L929.9 496.0L936.4 498.0L942.9 500.1L949.4 502.2L955.9 504.3L962.4 506.5L969.0 508.7L975.5 511.0L982.1 513.3L988.6 515.7L995.2 518.2L1001.8 520.7L1008.4 523.3L1015.1 526.0L1021.7 528.8L1028.3 531.6L1035.0 534.5L1041.6 537.4L1048.3 540.5L1055.0 543.5L1061.7 546.7L1068.4 549.9L1075.1 553.1L1081.8 556.4L1088.6 559.7L1095.3 563.1L1102.1 566.5L1108.9 569.9L1115.7 573.4L1122.5 576.9L1129.3 580.5L1136.1 584.1L1142.9 587.6L1149.8 591.2L1156.6 594.9L1163.5 598.5L1170.4 602.1L1177.3 605.7L1184.2 609.3L1191.1 612.9L1198.0 616.4L1205.0 619.9L1212.0 623.3L1218.9 626.7M737.7 420.3L734.5 420.2L731.3 420.5L728.1 421.0L725.0 421.7L721.8 422.5L718.5 423.4L715.3 424.5L712.1 425.7L708.8 427.0L705.6 428.4L702.3 430.0L699.1 431.6L695.8 433.4L692.5 435.4L689.2 437.4L685.9 439.6L682.6 442.0L679.2 444.5L675.9 447.2L672.5 450.0L669.2 453.1L665.8 456.3L662.4 459.7L659.1 463.5L655.7 466.5L652.2 469.8L648.8 473.3L645.4 477.0L642.0 480.9L638.5 485.0L635.1 489.2L631.6 493.6L628.2 498.1L624.7 502.8L621.2 507.6L617.7 512.5L614.2 517.5L610.7 522.6L607.2 527.8L603.7 533.1L600.1 538.5L596.6 544.0L593.0 549.6L589.5 555.2L585.9 560.9L582.3 566.7L578.7 572.6L575.2 578.6L571.5 583.9L567.9 589.4L564.3 595.0L560.7 600.6L557.0 606.4L553.3 612.2L549.7 618.2L546.0 624.2L542.3 630.3L538.6 636.6L534.9 643.0L531.2 649.5L527.5 656.2L523.8 663.0L520.1 670.0L516.4 677.2L512.6 684.6L508.9 692.2L505.1 700.0L501.4 708.1L497.6 716.4L493.9 725.0L490.1 734.0L486.4 743.3L482.6 751.6L478.8 760.3L475.0 769.2L471.2 778.4L467.4 787.8L463.6 797.4L459.8 807.2L456.0 817.1L452.1 827.0L448.3 837.0L444.5 847.1L440.6 857.1L436.8 867.1L432.9 877.1L429.0 886.9L425.1 896.5L421.2 906.0L417.3 915.3L413.4 924.4L409.4 933.1L405.4 941.5L401.4 949.6L397.4 957.2L393.4 964.2M590.8 412.3L596.6 413.2L602.5 414.2L608.4 415.5L614.3 416.9L620.2 418.5L626.1 420.3L632.0 422.1L637.9 424.0L643.9 425.9L649.9 427.9L655.8 429.9L661.8 431.9L667.8 433.9L673.8 435.9L679.8 437.8L685.9 439.6L691.9 441.4L698.0 443.1L704.0 444.8L710.1 446.4L716.2 447.9L722.3 449.3L728.4 450.8L734.6 452.1L740.7 453.5L746.8 454.8L753.0 456.2L759.2 457.5L765.4 458.9L771.6 460.3L777.8 461.9L784.0 463.5L790.3 465.2L796.5 467.0L802.8 468.9L809.1 470.8L815.4 472.8L821.7 474.9L828.0 477.0L834.3 479.1L840.6 481.2L847.0 483.3L853.4 485.5L859.7 487.6L866.1 489.7L872.5 491.9L878.9 494.0L885.4 496.2L891.8 498.3L898.2 500.5L904.7 502.7L911.2 504.9L917.7 507.2L924.2 509.5L930.7 511.8L937.2 514.1L943.8 516.5L950.3 518.9L956.9 521.4L963.5 523.9L970.0 526.4L976.6 528.9L983.3 531.4L989.9 534.0L996.5 536.5L1003.2 539.0L1009.8 541.6L1016.5 544.2L1023.2 546.8L1029.9 549.4L1036.6 552.1L1043.4 554.9L1050.1 557.7L1056.8 560.5L1063.6 563.5L1070.4 566.4L1077.2 569.5L1084.0 572.5L1090.8 575.7L1097.6 578.8L1104.4 582.1L1111.3 585.3L1118.1 588.6L1125.0 592.0L1131.9 595.3L1138.7 598.7L1145.7 602.1L1152.6 605.5L1159.5 609.0L1166.4 612.4L1173.4 615.9L1180.4 619.3L1187.3 622.8L1194.3 626.2L1201.3 629.6L1208.4 633.1M761.5 425.1L758.3 426.3L755.2 427.3L752.1 428.3L748.9 429.2L745.7 430.2L742.5 431.2L739.3 432.2L736.1 433.4L732.9 434.6L729.7 436.0L726.5 437.4L723.2 438.9L719.9 440.6L716.7 442.4L713.4 444.3L710.1 446.4L706.8 448.6L703.5 450.9L700.2 453.4L696.9 456.1L693.5 459.0L690.2 462.0L686.8 465.2L683.5 468.5L680.1 472.0L676.7 475.6L673.3 479.3L669.9 483.3L666.5 487.3L663.1 491.6L659.7 496.0L656.2 500.6L652.8 505.3L649.3 510.2L645.9 515.2L642.4 520.3L638.9 525.5L635.4 530.9L631.9 536.3L628.4 541.8L624.9 547.4L621.4 553.1L617.9 558.8L614.3 564.6L610.8 570.4L607.2 576.2L603.7 582.0L600.1 587.8L596.5 593.6L592.9 599.4L589.3 605.1L585.7 610.9L582.0 616.8L578.4 622.6L574.8 628.6L571.1 634.7L567.4 640.8L563.8 647.1L560.1 653.4L556.4 660.0L552.7 666.6L549.0 673.4L545.3 680.4L541.6 687.5L537.9 694.9L534.1 702.4L530.4 710.1L526.7 718.0L522.9 726.2L519.2 734.5L515.4 743.0L511.7 751.6L507.9 760.3L504.1 769.2L500.3 778.3L496.5 787.4L492.8 796.8L489.0 806.2L485.1 815.8L481.3 825.5L477.5 835.2L473.7 845.0L469.9 854.8L466.0 864.6L462.2 874.4L458.3 884.1L454.4 893.8L450.5 903.3L446.6 912.6L442.7 921.8L438.8 930.9L434.9 939.7L430.9 948.3L426.9 956.7L422.9 965.0L418.9 973.2M577.1 420.4L582.9 421.4L588.8 422.6L594.7 424.2L600.6 425.9L606.6 427.8L612.5 429.8L618.4 431.9L624.4 433.9L630.4 436.0L636.4 438.1L642.4 440.2L648.4 442.3L654.4 444.3L660.4 446.3L666.5 448.2L672.5 450.0L678.6 451.7L684.7 453.3L690.8 454.8L696.9 456.1L703.0 457.4L709.1 458.7L715.2 459.8L721.4 460.9L727.6 462.0L733.7 463.0L739.9 464.0L746.1 464.9L752.4 465.9L758.6 467.0L764.8 468.3L771.1 469.8L777.4 471.6L783.6 473.7L789.9 476.0L796.2 478.4L802.6 480.9L808.9 483.4L815.2 485.8L821.6 488.3L827.9 490.7L834.3 493.1L840.7 495.5L847.1 497.8L853.5 500.2L859.9 502.5L866.4 504.8L872.8 507.2L879.3 509.5L885.8 511.8L892.3 514.2L898.8 516.6L905.3 519.0L911.8 521.5L918.4 524.0L924.9 526.5L931.5 529.1L938.1 531.8L944.6 534.5L951.2 537.2L957.9 539.9L964.5 542.7L971.1 545.3L977.8 547.9L984.5 550.3L991.1 552.5L997.8 554.8L1004.6 557.0L1011.3 559.2L1018.0 561.5L1024.8 563.8L1031.6 566.2L1038.3 568.7L1045.1 571.2L1051.9 573.9L1058.8 576.6L1065.6 579.3L1072.4 582.1L1079.3 585.0L1086.1 587.9L1093.0 590.9L1099.9 594.0L1106.8 597.0L1113.7 600.2L1120.6 603.3L1127.6 606.6L1134.5 609.8L1141.5 613.1L1148.4 616.4L1155.4 619.7L1162.4 623.1L1169.4 626.5L1176.5 629.9L1183.5 633.3L1190.5 636.7L1197.6 640.2M785.5 431.3L782.4 432.6L779.3 433.7L776.1 434.8L773.0 435.9L769.9 436.9L766.7 438.0L763.5 439.1L760.4 440.2L757.2 441.4L754.0 442.7L750.8 444.0L747.5 445.4L744.3 447.0L741.1 448.6L737.8 450.3L734.6 452.1L731.3 454.1L728.0 456.2L724.7 458.5L721.4 460.9L718.1 463.6L714.8 466.4L711.4 469.5L708.1 472.8L704.7 476.3L701.4 480.0L698.0 484.0L694.6 488.2L691.2 492.6L687.8 497.2L684.4 501.9L681.0 506.8L677.6 511.8L674.2 517.0L670.7 522.3L667.3 527.7L663.8 533.2L660.4 538.8L656.9 544.5L653.4 550.3L649.9 556.1L646.4 562.1L642.9 568.0L639.4 574.0L635.9 580.0L632.3 586.0L628.8 591.9L625.2 597.8L621.6 603.7L618.1 609.5L614.5 615.3L610.9 621.1L607.3 626.9L603.7 632.7L600.0 638.6L596.4 644.5L592.7 650.6L589.1 656.7L585.4 663.0L581.8 669.3L578.1 675.9L574.4 682.5L570.7 689.3L567.0 696.3L563.3 703.4L559.6 710.7L555.8 718.1L552.1 725.8L548.4 733.6L544.6 741.7L540.9 750.0L537.1 758.5L533.4 767.3L529.6 776.2L525.9 785.3L522.1 794.6L518.3 804.1L514.5 813.7L510.7 823.4L506.9 833.2L503.1 843.0L499.3 852.9L495.5 862.8L491.7 872.7L487.8 882.6L484.0 892.4L480.1 902.2L476.2 911.9L472.3 921.5L468.5 930.9L464.5 940.2L460.6 949.4L456.7 958.3L452.7 967.1L448.8 975.5L444.8 983.8M563.1 426.8L569.0 429.9L575.0 432.4L580.9 434.8L586.9 437.1L592.8 439.3L598.8 441.6L604.7 443.8L610.7 446.1L616.7 448.3L622.7 450.5L628.8 452.7L634.8 454.9L640.8 457.0L646.9 459.2L653.0 461.3L659.1 463.5L665.1 464.7L671.2 466.0L677.3 467.3L683.5 468.5L689.6 469.7L695.8 470.8L701.9 471.8L708.1 472.8L714.3 473.6L720.5 474.4L726.7 475.0L732.9 475.6L739.2 476.0L745.4 476.2L751.7 476.2L758.0 475.5L764.3 479.6L770.6 483.0L776.9 486.1L783.2 489.1L789.6 492.0L795.9 494.8L802.3 497.5L808.7 500.1L815.1 502.6L821.5 505.1L827.9 507.6L834.3 510.0L840.7 512.4L847.2 514.7L853.7 517.1L860.1 519.4L866.6 521.8L873.1 524.1L879.7 526.5L886.2 528.9L892.7 531.3L899.3 533.8L905.9 536.3L912.5 538.9L919.0 541.6L925.7 544.3L932.3 547.1L938.9 550.1L945.5 553.1L952.2 556.3L958.8 559.7L965.5 563.5L972.2 564.4L979.0 565.8L985.7 567.4L992.5 569.1L999.3 570.9L1006.0 572.9L1012.8 574.9L1019.6 577.1L1026.5 579.4L1033.3 581.7L1040.1 584.1L1047.0 586.6L1053.9 589.1L1060.7 591.8L1067.6 594.5L1074.5 597.2L1081.5 600.0L1088.4 602.9L1095.3 605.8L1102.3 608.8L1109.2 611.8L1116.2 614.8L1123.2 617.9L1130.2 621.1L1137.2 624.3L1144.3 627.5L1151.3 630.8L1158.3 634.2L1165.4 637.6L1172.5 641.0L1179.6 644.5L1186.7 648.0M809.7 438.4L806.6 439.6L803.5 440.7L800.4 441.7L797.3 442.7L794.2 443.7L791.1 444.7L787.9 445.7L784.8 446.8L781.6 447.9L778.4 449.0L775.3 450.3L772.1 451.6L768.9 453.0L765.7 454.4L762.4 455.9L759.2 457.5L755.9 459.2L752.7 461.0L749.4 462.9L746.1 464.9L742.9 467.1L739.6 469.6L736.2 472.4L732.9 475.6L729.6 479.2L726.3 483.3L722.9 487.7L719.6 492.3L716.2 497.2L712.8 502.2L709.4 507.3L706.0 512.5L702.6 517.9L699.2 523.4L695.8 528.9L692.4 534.6L688.9 540.4L685.5 546.3L682.0 552.3L678.6 558.4L675.1 564.5L671.6 570.8L668.1 577.2L664.6 583.5L661.1 590.0L657.6 596.3L654.1 602.6L650.6 608.6L647.0 614.5L643.4 620.1L639.9 625.6L636.3 631.1L632.7 636.6L629.1 642.2L625.5 647.8L621.9 653.6L618.2 659.5L614.6 665.4L611.0 671.5L607.3 677.7L603.6 684.1L600.0 690.5L596.3 697.1L592.6 703.8L588.9 710.6L585.2 717.6L581.5 724.7L577.8 732.0L574.0 739.4L570.3 747.2L566.6 755.2L562.8 763.6L559.1 772.4L555.3 781.6L551.6 791.0L547.8 800.7L544.1 810.5L540.3 820.5L536.5 830.5L532.7 840.5L528.9 850.6L525.1 860.8L521.3 870.9L517.5 881.0L513.7 891.2L509.9 901.3L506.0 911.4L502.2 921.4L498.3 931.4L494.4 941.3L490.5 951.1L486.6 960.8L482.7 970.4L478.8 979.6L474.9 988.5L470.9 996.9M549.3 447.5L555.2 448.4L561.1 449.7L567.0 451.3L573.0 453.0L578.9 454.9L584.9 456.9L590.9 458.9L596.9 461.0L603.0 463.1L609.0 465.2L615.0 467.2L621.1 469.3L627.1 471.3L633.2 473.3L639.3 475.2L645.4 477.0L651.5 478.7L657.6 480.3L663.8 481.8L669.9 483.3L676.1 484.6L682.2 485.9L688.4 487.1L694.6 488.2L700.8 489.3L707.1 490.3L713.3 491.3L719.6 492.3L725.8 493.3L732.1 494.4L738.4 495.7L744.7 497.2L751.0 499.1L757.3 501.1L763.7 503.4L770.0 505.8L776.4 508.2L782.8 510.6L789.2 513.0L795.6 515.3L802.0 517.7L808.4 519.9L814.9 522.2L821.3 524.4L827.8 526.6L834.3 528.8L840.8 531.0L847.3 533.1L853.8 535.3L860.3 537.5L866.9 539.6L873.5 541.9L880.0 544.1L886.6 546.3L893.2 548.6L899.8 551.0L906.5 553.4L913.1 555.8L919.8 558.3L926.4 560.9L933.1 563.4L939.8 565.9L946.5 568.4L953.2 570.7L960.0 572.9L966.7 575.0L973.5 577.0L980.3 578.9L987.1 581.0L993.9 583.0L1000.7 585.1L1007.6 587.3L1014.4 589.5L1021.3 591.8L1028.2 594.2L1035.1 596.6L1042.0 599.0L1048.9 601.6L1055.8 604.2L1062.8 606.8L1069.7 609.5L1076.7 612.2L1083.7 615.0L1090.7 617.8L1097.7 620.7L1104.7 623.6L1111.7 626.6L1118.8 629.6L1125.8 632.7L1132.9 635.9L1140.0 639.1L1147.1 642.4L1154.2 645.7L1161.3 649.1L1168.4 652.6L1175.6 656.1M834.1 446.7L831.0 447.0L828.0 447.6L824.9 448.4L821.8 449.2L818.7 450.0L815.6 451.0L812.5 452.0L809.4 453.0L806.3 454.1L803.1 455.3L800.0 456.5L796.8 457.8L793.6 459.2L790.4 460.5L787.2 462.0L784.0 463.5L780.8 465.0L777.6 466.6L774.3 468.2L771.1 469.8L767.8 471.4L764.6 473.0L761.3 474.5L758.0 475.5L754.7 481.4L751.4 486.7L748.0 492.0L744.7 497.2L741.3 502.5L738.0 507.8L734.6 513.2L731.3 518.6L727.9 524.2L724.5 529.8L721.1 535.5L717.7 541.2L714.3 547.1L710.8 553.1L707.4 559.2L703.9 565.5L700.5 571.8L697.0 578.3L693.6 584.9L690.1 591.7L686.6 598.7L683.1 605.9L679.6 613.3L676.1 621.4L672.6 625.3L669.0 629.8L665.5 634.6L661.9 639.6L658.3 644.8L654.7 650.1L651.2 655.6L647.6 661.3L643.9 667.1L640.3 673.0L636.7 679.0L633.1 685.2L629.4 691.5L625.8 697.9L622.1 704.4L618.4 711.0L614.7 717.7L611.1 724.5L607.4 731.3L603.6 738.3L599.9 745.2L596.2 752.2L592.5 759.1L588.7 765.5L585.0 776.3L581.3 786.7L577.6 797.0L573.8 807.2L570.1 817.5L566.3 827.7L562.6 838.0L558.8 848.3L555.0 858.6L551.2 868.8L547.4 879.1L543.6 889.4L539.8 899.7L536.0 910.0L532.2 920.3L528.3 930.6L524.5 940.9L520.6 951.1L516.8 961.4L512.9 971.7L509.0 982.0L505.1 992.4L501.2 1002.9L497.3 1014.2M535.2 466.6L541.1 467.5L547.1 468.5L553.0 469.8L559.0 471.2L565.0 472.8L571.0 474.5L577.0 476.3L583.0 478.1L589.0 480.0L595.1 482.0L601.1 483.9L607.2 485.9L613.3 487.9L619.4 489.8L625.5 491.7L631.6 493.6L637.8 495.4L643.9 497.2L650.1 498.9L656.2 500.6L662.4 502.2L668.6 503.8L674.8 505.3L681.0 506.8L687.3 508.2L693.5 509.7L699.8 511.1L706.0 512.5L712.3 514.0L718.6 515.5L724.9 517.0L731.3 518.6L737.6 520.3L743.9 522.1L750.3 523.9L756.7 525.8L763.1 527.7L769.5 529.6L775.9 531.5L782.3 533.5L788.8 535.4L795.2 537.3L801.7 539.2L808.2 541.0L814.7 542.9L821.2 544.7L827.7 546.5L834.3 548.4L840.8 550.2L847.4 552.0L854.0 553.8L860.5 555.7L867.2 557.5L873.8 559.4L880.4 561.3L887.1 563.3L893.7 565.2L900.4 567.3L907.1 569.3L913.8 571.4L920.5 573.5L927.3 575.6L934.0 577.7L940.8 579.8L947.5 582.0L954.3 584.1L961.1 586.2L967.9 588.4L974.8 590.6L981.6 592.8L988.5 595.1L995.4 597.4L1002.2 599.7L1009.1 602.1L1016.0 604.5L1023.0 607.0L1029.9 609.4L1036.9 612.0L1043.8 614.5L1050.8 617.1L1057.8 619.7L1064.8 622.3L1071.8 625.0L1078.9 627.7L1085.9 630.4L1093.0 633.2L1100.1 636.0L1107.2 638.9L1114.3 641.8L1121.4 644.8L1128.5 647.9L1135.6 651.1L1142.8 654.4L1150.0 657.8L1157.1 661.3L1164.3 664.8M858.7 449.5L855.7 450.8L852.6 452.0L849.6 453.1L846.5 454.3L843.5 455.4L840.4 456.6L837.3 457.8L834.2 459.0L831.1 460.3L828.0 461.6L824.9 463.0L821.7 464.5L818.6 466.0L815.4 467.5L812.2 469.1L809.1 470.8L805.9 472.6L802.7 474.4L799.5 476.4L796.2 478.4L793.0 480.7L789.8 483.2L786.5 485.9L783.2 489.1L779.9 492.8L776.6 496.8L773.3 501.2L770.0 505.8L766.7 510.6L763.4 515.5L760.0 520.6L756.7 525.8L753.3 531.1L749.9 536.5L746.6 542.0L743.2 547.6L739.8 553.3L736.4 559.1L733.0 565.0L729.5 571.1L726.1 577.2L722.7 583.4L719.2 589.7L715.7 596.1L712.3 602.5L708.8 608.8L705.3 615.1L701.8 621.2L698.3 627.1L694.8 632.8L691.2 638.4L687.7 644.0L684.2 649.6L680.6 655.3L677.0 661.1L673.4 667.0L669.9 673.0L666.3 679.2L662.7 685.4L659.0 691.8L655.4 698.2L651.8 704.9L648.1 711.6L644.5 718.4L640.8 725.4L637.2 732.5L633.5 739.7L629.8 747.1L626.1 754.7L622.4 762.5L618.7 770.7L615.0 779.2L611.3 788.1L607.5 797.4L603.8 807.0L600.1 816.7L596.3 826.7L592.6 836.7L588.8 846.8L585.1 857.0L581.3 867.1L577.5 877.4L573.7 887.6L570.0 897.8L566.2 908.0L562.3 918.2L558.5 928.4L554.7 938.6L550.8 948.7L547.0 958.7L543.1 968.6L539.3 978.4L535.4 988.0L531.5 997.4L527.6 1006.3L523.6 1014.8M521.0 485.3L526.9 486.3L532.9 487.4L538.9 488.6L544.8 490.0L550.8 491.5L556.9 493.1L562.9 494.8L568.9 496.6L575.0 498.5L581.1 500.5L587.1 502.4L593.2 504.4L599.3 506.5L605.4 508.5L611.6 510.5L617.7 512.5L623.9 514.5L630.0 516.5L636.2 518.4L642.4 520.3L648.6 522.2L654.8 524.0L661.0 525.9L667.3 527.7L673.5 529.4L679.8 531.2L686.1 532.9L692.4 534.6L698.7 536.3L705.0 538.0L711.3 539.6L717.7 541.2L724.0 542.9L730.4 544.5L736.8 546.0L743.2 547.6L749.6 549.1L756.0 550.7L762.5 552.2L768.9 553.7L775.4 555.2L781.9 556.6L788.4 558.1L794.9 559.5L801.4 561.0L807.9 562.4L814.5 563.8L821.0 565.2L827.6 566.5L834.2 567.9L840.8 569.3L847.5 570.7L854.1 572.1L860.8 573.5L867.4 575.0L874.1 576.4L880.8 577.9L887.5 579.5L894.3 581.1L901.0 582.7L907.8 584.4L914.5 586.2L921.3 588.1L928.1 590.1L934.9 592.1L941.7 594.3L948.6 596.5L955.4 598.8L962.3 601.1L969.2 603.5L976.0 606.0L982.9 608.5L989.9 611.0L996.8 613.5L1003.7 616.0L1010.7 618.6L1017.7 621.1L1024.7 623.7L1031.7 626.2L1038.7 628.8L1045.7 631.3L1052.8 633.8L1059.8 636.4L1066.9 638.9L1074.0 641.4L1081.1 644.0L1088.2 646.6L1095.4 649.2L1102.5 652.0L1109.7 654.7L1116.8 657.6L1124.0 660.6L1131.2 663.7L1138.4 667.0L1145.6 670.5L1152.8 674.1M883.5 453.4L880.5 454.9L877.5 456.3L874.5 457.7L871.4 459.1L868.4 460.5L865.4 462.0L862.3 463.4L859.2 465.0L856.2 466.5L853.1 468.1L850.0 469.8L846.8 471.5L843.7 473.3L840.6 475.1L837.5 477.1L834.3 479.1L831.1 481.2L828.0 483.4L824.8 485.8L821.6 488.3L818.4 490.9L815.1 493.8L811.9 496.8L808.7 500.1L805.4 503.6L802.1 507.3L798.9 511.2L795.6 515.3L792.3 519.6L789.0 524.1L785.7 528.7L782.3 533.5L779.0 538.3L775.6 543.4L772.3 548.5L768.9 553.7L765.5 559.0L762.1 564.5L758.7 570.0L755.3 575.6L751.9 581.3L748.5 587.1L745.1 593.0L741.6 598.9L738.2 604.8L734.7 610.8L731.2 616.8L727.8 622.8L724.3 628.8L720.8 634.7L717.3 640.7L713.7 646.7L710.2 652.8L706.7 658.9L703.1 665.1L699.6 671.4L696.0 677.7L692.4 684.2L688.8 690.8L685.2 697.6L681.6 704.4L678.0 711.4L674.4 718.5L670.8 725.7L667.1 733.1L663.5 740.7L659.8 748.4L656.2 756.3L652.5 764.4L648.8 772.7L645.1 781.2L641.4 789.9L637.7 798.8L634.0 808.0L630.3 817.4L626.6 826.9L622.9 836.5L619.1 846.3L615.4 856.2L611.6 866.1L607.9 876.1L604.1 886.2L600.3 896.2L596.5 906.3L592.7 916.3L588.9 926.3L585.1 936.3L581.3 946.1L577.5 955.9L573.6 965.6L569.8 975.1L565.9 984.5L562.0 993.6L558.1 1002.5L554.2 1011.2L550.3 1019.6M506.6 503.9L512.6 504.9L518.6 506.1L524.5 507.5L530.5 509.0L536.6 510.6L542.6 512.3L548.7 514.2L554.7 516.1L560.8 518.1L566.9 520.1L573.0 522.3L579.1 524.4L585.2 526.6L591.4 528.8L597.5 531.0L603.7 533.1L609.8 535.3L616.0 537.5L622.2 539.7L628.4 541.8L634.7 543.9L640.9 546.1L647.1 548.2L653.4 550.3L659.7 552.3L666.0 554.4L672.3 556.4L678.6 558.4L684.9 560.3L691.2 562.1L697.6 563.8L703.9 565.5L710.3 567.0L716.7 568.4L723.1 569.8L729.5 571.1L736.0 572.3L742.4 573.4L748.9 574.5L755.3 575.6L761.8 576.7L768.3 577.7L774.9 578.8L781.4 579.8L787.9 580.8L794.5 581.7L801.1 582.7L807.7 583.7L814.3 584.6L820.9 585.5L827.6 586.5L834.2 587.4L840.9 588.3L847.6 589.2L854.3 590.1L861.0 591.0L867.7 591.9L874.5 592.9L881.2 594.0L888.0 595.1L894.8 596.4L901.6 597.9L908.4 599.5L915.3 601.3L922.1 603.3L929.0 605.5L935.8 607.9L942.7 610.4L949.6 613.1L956.5 615.8L963.4 618.6L970.3 621.4L977.3 624.2L984.2 627.0L991.2 629.7L998.2 632.5L1005.2 635.2L1012.2 637.8L1019.2 640.4L1026.3 642.9L1033.4 645.4L1040.5 647.8L1047.6 650.2L1054.7 652.5L1061.8 654.8L1069.0 657.1L1076.1 659.3L1083.3 661.5L1090.5 663.8L1097.7 666.1L1105.0 668.6L1112.2 671.1L1119.4 673.9L1126.7 676.9L1134.0 680.2L1141.2 683.8M908.5 458.0L905.5 459.5L902.6 461.0L899.6 462.6L896.6 464.2L893.6 465.9L890.5 467.6L887.5 469.3L884.5 471.1L881.4 472.9L878.3 474.8L875.3 476.8L872.2 478.8L869.1 480.9L866.0 483.0L862.9 485.3L859.7 487.6L856.6 490.0L853.4 492.5L850.3 495.1L847.1 497.8L843.9 500.7L840.7 503.7L837.5 506.8L834.3 510.0L831.1 513.4L827.8 516.9L824.6 520.6L821.3 524.4L818.1 528.4L814.8 532.5L811.5 536.7L808.2 541.0L804.9 545.5L801.5 550.1L798.2 554.7L794.9 559.5L791.5 564.4L788.1 569.4L784.8 574.6L781.4 579.8L778.0 585.1L774.6 590.5L771.2 596.0L767.8 601.6L764.3 607.2L760.9 613.0L757.4 618.8L754.0 624.7L750.5 630.7L747.0 636.8L743.5 642.9L740.0 649.1L736.5 655.4L733.0 661.8L729.5 668.4L725.9 675.0L722.4 681.7L718.8 688.6L715.3 695.5L711.7 702.6L708.1 709.8L704.5 717.2L700.9 724.7L697.3 732.3L693.7 740.1L690.0 748.1L686.4 756.2L682.8 764.4L679.1 772.8L675.4 781.4L671.8 790.2L668.1 799.1L664.4 808.2L660.7 817.4L657.0 826.8L653.3 836.3L649.6 846.0L645.9 855.7L642.1 865.5L638.4 875.4L634.6 885.3L630.9 895.2L627.1 905.2L623.4 915.1L619.6 925.0L615.8 934.9L612.0 944.7L608.2 954.4L604.3 964.0L600.5 973.5L596.7 982.9L592.8 992.0L588.9 1001.1L585.0 1009.9L581.2 1018.5L577.2 1026.9M492.1 522.2L498.1 523.4L504.1 524.8L510.1 526.4L516.1 528.1L522.1 530.0L528.2 532.0L534.3 534.1L540.3 536.3L546.4 538.5L552.6 540.8L558.7 543.2L564.8 545.5L571.0 547.9L577.1 550.4L583.3 552.8L589.5 555.2L595.7 557.6L601.9 559.9L608.1 562.2L614.3 564.6L620.6 566.9L626.8 569.3L633.1 571.6L639.4 574.0L645.7 576.4L652.0 578.8L658.3 581.2L664.6 583.5L671.0 585.8L677.3 588.0L683.7 590.0L690.1 591.7L696.5 593.2L702.9 594.3L709.3 595.3L715.7 596.1L722.2 596.8L728.7 597.5L735.1 598.2L741.6 598.9L748.1 599.6L754.7 600.2L761.2 600.9L767.8 601.6L774.3 602.2L780.9 602.8L787.5 603.5L794.1 604.1L800.8 604.6L807.4 605.2L814.1 605.7L820.8 606.2L827.5 606.7L834.2 607.1L840.9 607.5L847.7 607.8L854.4 608.1L861.2 608.4L868.0 608.8L874.8 609.1L881.7 609.6L888.5 610.3L895.4 611.4L902.2 613.0L909.1 615.2L916.0 617.8L922.9 620.8L929.8 624.0L936.7 627.4L943.6 630.7L950.5 634.1L957.5 637.4L964.5 640.6L971.4 643.8L978.4 646.8L985.5 649.8L992.5 652.7L999.5 655.5L1006.6 658.2L1013.7 660.8L1020.8 663.2L1027.9 665.6L1035.0 667.8L1042.2 669.9L1049.4 672.0L1056.6 673.9L1063.8 675.7L1071.0 677.3L1078.3 678.9L1085.5 680.5L1092.8 682.0L1100.1 683.6L1107.5 685.3L1114.8 687.4L1122.1 690.0L1129.4 693.4M933.7 462.8L930.8 464.4L927.8 466.1L924.9 467.8L921.9 469.6L918.9 471.5L915.9 473.4L912.9 475.4L909.9 477.5L906.9 479.6L903.8 481.8L900.8 484.0L897.7 486.3L894.6 488.7L891.6 491.1L888.5 493.6L885.4 496.2L882.2 498.8L879.1 501.5L876.0 504.3L872.8 507.2L869.7 510.1L866.5 513.1L863.3 516.2L860.1 519.4L856.9 522.7L853.7 526.1L850.5 529.6L847.3 533.1L844.0 536.8L840.8 540.6L837.5 544.4L834.3 548.4L831.0 552.4L827.7 556.6L824.4 560.8L821.0 565.2L817.7 569.6L814.4 574.2L811.0 578.9L807.7 583.7L804.3 588.6L800.9 593.6L797.5 598.8L794.1 604.1L790.7 609.5L787.3 615.0L783.9 620.7L780.4 626.6L777.0 632.5L773.5 638.6L770.0 644.9L766.6 651.2L763.1 657.8L759.6 664.4L756.1 671.2L752.5 678.1L749.0 685.2L745.5 692.3L741.9 699.6L738.4 707.1L734.8 714.7L731.2 722.4L727.6 730.2L724.1 738.2L720.4 746.3L716.8 754.6L713.2 763.0L709.6 771.5L706.0 780.2L702.3 789.1L698.7 798.1L695.0 807.3L691.3 816.5L687.6 826.0L684.0 835.5L680.3 845.2L676.6 854.9L672.9 864.8L669.1 874.7L665.4 884.6L661.7 894.6L657.9 904.6L654.2 914.6L650.4 924.6L646.7 934.5L642.9 944.4L639.1 954.2L635.3 963.9L631.5 973.5L627.7 983.0L623.8 992.4L620.0 1001.5L616.1 1010.6L612.3 1019.4L608.4 1028.1L604.5 1036.5M477.4 539.5L483.4 541.8L489.4 543.9L495.4 546.0L501.5 548.2L507.6 550.4L513.6 552.7L519.7 555.0L525.8 557.4L532.0 559.8L538.1 562.3L544.2 564.9L550.4 567.5L556.6 570.2L562.7 572.9L568.9 575.7L575.2 578.6L581.4 580.8L587.6 583.1L593.8 585.4L600.1 587.8L606.3 590.3L612.6 592.7L618.9 595.3L625.2 597.8L631.5 600.4L637.9 603.1L644.2 605.8L650.6 608.6L656.9 611.5L663.3 614.5L669.7 617.7L676.1 621.4L682.5 620.8L688.9 620.8L695.4 620.9L701.8 621.2L708.3 621.5L714.7 621.9L721.2 622.3L727.8 622.8L734.3 623.2L740.8 623.7L747.4 624.2L754.0 624.7L760.6 625.2L767.2 625.7L773.8 626.1L780.4 626.6L787.1 627.0L793.8 627.3L800.5 627.7L807.2 627.9L813.9 628.2L820.6 628.4L827.4 628.5L834.2 628.5L840.9 628.5L847.8 628.3L854.6 628.1L861.4 627.7L868.3 627.1L875.2 626.3L882.1 625.2L889.1 622.9L895.9 628.9L902.8 633.9L909.7 638.4L916.6 642.7L923.5 646.9L930.5 650.8L937.4 654.7L944.4 658.4L951.4 662.0L958.4 665.4L965.4 668.7L972.5 671.9L979.5 675.0L986.6 678.0L993.7 680.8L1000.8 683.5L1007.9 686.0L1015.1 688.4L1022.2 690.7L1029.4 692.8L1036.6 694.8L1043.9 696.6L1051.1 698.2L1058.4 699.6L1065.7 700.8L1073.0 701.8L1080.3 702.6L1087.7 703.1L1095.1 703.2L1102.6 703.0L1110.0 702.1L1117.6 699.4M959.2 467.7L956.3 469.4L953.3 471.3L950.4 473.2L947.4 475.2L944.5 477.3L941.5 479.5L938.5 481.7L935.5 484.0L932.5 486.5L929.5 488.9L926.5 491.4L923.4 494.0L920.4 496.7L917.3 499.4L914.3 502.1L911.2 504.9L908.1 507.8L905.0 510.7L901.9 513.6L898.8 516.6L895.6 519.6L892.5 522.7L889.4 525.8L886.2 528.9L883.0 532.1L879.9 535.3L876.7 538.5L873.5 541.9L870.2 545.2L867.0 548.6L863.8 552.1L860.5 555.7L857.3 559.3L854.0 563.0L850.8 566.8L847.5 570.7L844.2 574.7L840.9 578.8L837.5 583.0L834.2 587.4L830.9 591.8L827.5 596.5L824.1 601.3L820.8 606.2L817.4 611.3L814.0 616.7L810.6 622.2L807.2 627.9L803.7 633.9L800.3 640.0L796.8 646.4L793.4 653.0L789.9 659.7L786.4 666.6L782.9 673.7L779.4 680.9L775.9 688.3L772.4 695.8L768.9 703.5L765.3 711.2L761.8 719.1L758.2 727.1L754.6 735.3L751.1 743.5L747.5 751.9L743.9 760.5L740.3 769.1L736.7 777.9L733.0 786.9L729.4 796.0L725.8 805.3L722.1 814.7L718.5 824.2L714.8 833.9L711.1 843.7L707.5 853.6L703.8 863.6L700.1 873.7L696.4 883.9L692.7 894.1L689.0 904.3L685.2 914.5L681.5 924.7L677.7 934.9L674.0 945.0L670.2 955.1L666.5 965.1L662.7 974.9L658.9 984.7L655.1 994.3L651.3 1003.8L647.4 1013.1L643.6 1022.2L639.8 1031.2L635.9 1039.9L632.0 1048.5M462.6 563.6L468.6 564.9L474.7 566.6L480.7 568.4L486.8 570.4L492.9 572.5L499.0 574.8L505.1 577.1L511.2 579.6L517.3 582.1L523.5 584.7L529.6 587.3L535.8 589.9L542.0 592.6L548.2 595.3L554.4 598.0L560.7 600.6L566.9 603.3L573.1 605.8L579.4 608.4L585.7 610.9L592.0 613.5L598.2 616.0L604.6 618.5L610.9 621.1L617.2 623.6L623.6 626.1L629.9 628.6L636.3 631.1L642.7 633.5L649.1 635.8L655.5 637.8L661.9 639.6L668.3 641.1L674.8 642.2L681.2 643.2L687.7 644.0L694.2 644.8L700.7 645.4L707.2 646.1L713.7 646.7L720.3 647.3L726.8 647.9L733.4 648.5L740.0 649.1L746.6 649.7L753.3 650.2L759.9 650.7L766.6 651.2L773.2 651.7L779.9 652.2L786.6 652.6L793.4 653.0L800.1 653.3L806.9 653.6L813.6 653.9L820.4 654.2L827.3 654.5L834.1 654.7L840.9 655.0L847.8 655.4L854.7 655.9L861.6 656.7L868.5 657.9L875.4 659.6L882.3 661.8L889.2 664.7L896.2 667.9L903.1 671.3L910.1 674.9L917.0 678.5L924.0 682.1L931.0 685.7L938.1 689.3L945.1 692.8L952.1 696.2L959.2 699.5L966.3 702.7L973.4 705.8L980.5 708.8L987.6 711.7L994.8 714.5L1001.9 717.1L1009.1 719.6L1016.3 722.0L1023.6 724.3L1030.8 726.4L1038.1 728.4L1045.3 730.3L1052.7 732.1L1060.0 733.8L1067.3 735.5L1074.7 737.2L1082.1 739.0L1089.4 741.2L1096.8 743.9L1104.2 747.3M984.8 472.6L981.9 474.4L979.0 476.4L976.1 478.5L973.2 480.8L970.2 483.2L967.3 485.7L964.3 488.3L961.4 490.9L958.4 493.7L955.4 496.5L952.4 499.3L949.4 502.2L946.4 505.1L943.3 508.1L940.3 511.1L937.2 514.1L934.2 517.2L931.1 520.3L928.0 523.4L924.9 526.5L921.8 529.6L918.7 532.8L915.6 535.8L912.5 538.9L909.3 542.0L906.2 545.0L903.0 548.0L899.8 551.0L896.7 554.0L893.5 557.1L890.3 560.1L887.1 563.3L883.8 566.5L880.6 569.7L877.4 573.0L874.1 576.4L870.9 579.9L867.6 583.5L864.3 587.2L861.0 591.0L857.7 594.9L854.4 599.0L851.0 603.3L847.7 607.8L844.3 612.5L840.9 617.6L837.6 622.9L834.2 628.5L830.7 634.5L827.3 640.8L823.9 647.3L820.4 654.2L817.0 661.3L813.5 668.6L810.0 676.1L806.6 683.8L803.1 691.6L799.6 699.5L796.0 707.5L792.5 715.6L789.0 723.8L785.4 732.1L781.9 740.5L778.3 749.0L774.8 757.5L771.2 766.2L767.6 775.1L764.0 784.0L760.4 793.1L756.8 802.4L753.2 811.9L749.5 821.5L745.9 831.4L742.2 841.4L738.6 851.6L734.9 861.9L731.2 872.4L727.6 882.9L723.9 893.5L720.2 904.1L716.5 914.7L712.8 925.3L709.0 935.9L705.3 946.4L701.6 956.8L697.8 967.2L694.1 977.5L690.3 987.6L686.5 997.7L682.7 1007.5L679.0 1017.3L675.1 1026.8L671.3 1036.2L667.5 1045.3L663.7 1054.2L659.8 1062.8M447.7 586.7L453.7 588.1L459.8 589.7L465.8 591.4L471.9 593.4L478.0 595.6L484.1 597.8L490.3 600.2L496.4 602.7L502.6 605.3L508.7 607.9L514.9 610.6L521.1 613.3L527.3 616.1L533.5 618.8L539.8 621.5L546.0 624.2L552.3 626.9L558.5 629.5L564.8 632.1L571.1 634.7L577.4 637.2L583.7 639.7L590.1 642.1L596.4 644.5L602.7 646.9L609.1 649.2L615.5 651.4L621.9 653.6L628.3 655.7L634.7 657.7L641.1 659.5L647.6 661.3L654.0 662.9L660.5 664.4L667.0 665.7L673.4 667.0L680.0 668.2L686.5 669.3L693.0 670.4L699.6 671.4L706.1 672.3L712.7 673.2L719.3 674.1L725.9 675.0L732.6 675.8L739.2 676.6L745.9 677.4L752.5 678.1L759.2 678.8L765.9 679.5L772.7 680.2L779.4 680.9L786.2 681.6L793.0 682.3L799.7 683.0L806.6 683.8L813.4 684.6L820.2 685.5L827.1 686.5L834.0 687.6L840.8 689.0L847.7 690.5L854.7 692.3L861.6 694.3L868.5 696.6L875.5 699.1L882.4 701.9L889.4 704.9L896.4 708.1L903.4 711.4L910.4 714.8L917.5 718.2L924.5 721.6L931.5 725.1L938.6 728.5L945.7 731.9L952.8 735.3L959.9 738.6L967.1 741.9L974.2 745.0L981.4 748.1L988.5 751.2L995.7 754.1L1003.0 757.0L1010.2 759.8L1017.4 762.5L1024.7 765.2L1032.0 767.8L1039.3 770.5L1046.6 773.1L1054.0 775.8L1061.3 778.7L1068.7 781.6L1076.0 784.8L1083.4 788.3L1090.8 792.0M1010.7 477.1L1007.8 479.0L1004.9 481.4L1002.1 483.9L999.1 486.7L996.2 489.6L993.3 492.5L990.4 495.5L987.4 498.5L984.4 501.6L981.5 504.7L978.5 507.8L975.5 511.0L972.5 514.2L969.5 517.4L966.5 520.6L963.5 523.9L960.4 527.2L957.4 530.5L954.3 533.8L951.2 537.2L948.2 540.5L945.1 543.8L942.0 547.0L938.9 550.1L935.8 552.9L932.7 555.6L929.6 558.3L926.4 560.9L923.3 563.4L920.1 566.0L917.0 568.7L913.8 571.4L910.6 574.1L907.4 576.9L904.2 579.8L901.0 582.7L897.8 585.7L894.5 588.8L891.3 591.9L888.0 595.1L884.7 598.5L881.4 601.9L878.1 605.4L874.8 609.1L871.5 613.1L868.2 617.4L864.8 622.2L861.4 627.7L858.0 633.8L854.6 640.6L851.2 647.8L847.8 655.4L844.3 663.3L840.9 671.3L837.4 679.4L834.0 687.6L830.5 695.9L827.0 704.3L823.5 712.7L820.0 721.2L816.5 729.6L812.9 738.2L809.4 746.8L805.9 755.4L802.3 764.0L798.7 772.7L795.2 781.5L791.6 790.4L788.0 799.4L784.4 808.5L780.8 818.0L777.2 827.9L773.6 838.1L769.9 848.7L766.3 859.6L762.6 870.6L759.0 881.8L755.3 892.9L751.6 904.1L747.9 915.2L744.2 926.3L740.5 937.4L736.8 948.4L733.1 959.3L729.4 970.1L725.7 980.8L721.9 991.5L718.2 1002.0L714.4 1012.4L710.7 1022.7L706.9 1032.8L703.1 1042.7L699.3 1052.4L695.5 1061.9L691.7 1071.1L687.9 1079.9M432.6 609.2L438.6 610.7L444.7 612.5L450.8 614.4L456.9 616.6L463.0 618.9L469.1 621.4L475.3 624.0L481.5 626.8L487.6 629.6L493.8 632.4L500.0 635.3L506.3 638.2L512.5 641.1L518.7 643.9L525.0 646.7L531.2 649.5L537.5 652.2L543.8 654.9L550.1 657.4L556.4 660.0L562.7 662.4L569.1 664.8L575.4 667.1L581.8 669.3L588.1 671.5L594.5 673.7L600.9 675.7L607.3 677.7L613.7 679.7L620.2 681.6L626.6 683.4L633.1 685.2L639.5 686.9L646.0 688.6L652.5 690.2L659.0 691.8L665.6 693.3L672.1 694.8L678.7 696.2L685.2 697.6L691.8 698.9L698.4 700.2L705.0 701.4L711.7 702.6L718.3 703.8L725.0 704.9L731.7 706.0L738.4 707.1L745.1 708.1L751.8 709.2L758.6 710.2L765.3 711.2L772.1 712.3L778.9 713.3L785.7 714.4L792.5 715.6L799.4 716.8L806.2 718.1L813.1 719.6L820.0 721.2L826.9 722.9L833.8 724.8L840.7 726.9L847.7 729.2L854.6 731.7L861.6 734.4L868.6 737.3L875.6 740.3L882.6 743.5L889.6 746.8L896.6 750.3L903.7 753.8L910.7 757.3L917.8 760.9L924.9 764.6L932.0 768.2L939.1 771.8L946.3 775.4L953.4 779.0L960.6 782.5L967.7 786.0L974.9 789.4L982.2 792.8L989.4 796.2L996.6 799.5L1003.9 802.8L1011.2 806.1L1018.4 809.4L1025.7 812.6L1033.1 815.9L1040.4 819.2L1047.7 822.6L1055.1 826.1L1062.5 829.6L1069.9 833.3L1077.3 837.0M1036.8 479.7L1033.9 484.0L1031.1 487.7L1028.2 491.2L1025.3 494.6L1022.4 497.9L1019.5 501.2L1016.5 504.5L1013.6 507.7L1010.7 511.0L1007.7 514.2L1004.8 517.5L1001.8 520.7L998.9 524.0L995.9 527.3L992.9 530.6L989.9 534.0L986.9 537.3L983.9 540.8L980.8 544.3L977.8 547.9L974.7 551.5L971.7 555.3L968.6 559.2L965.5 563.5L962.5 564.9L959.4 566.7L956.3 568.6L953.2 570.7L950.1 572.9L947.0 575.1L943.9 577.4L940.8 579.8L937.6 582.3L934.5 584.8L931.3 587.4L928.1 590.1L924.9 592.8L921.7 595.6L918.5 598.4L915.3 601.3L912.0 604.2L908.8 607.1L905.5 610.1L902.2 613.0L899.0 615.9L895.7 618.7L892.4 621.3L889.1 622.9L885.6 632.9L882.2 642.0L878.8 650.8L875.4 659.6L871.9 668.3L868.5 676.9L865.0 685.6L861.6 694.3L858.1 703.0L854.6 711.7L851.2 720.4L847.7 729.2L844.2 737.9L840.7 746.7L837.1 755.5L833.6 764.3L830.1 773.1L826.5 781.8L823.0 790.6L819.4 799.2L815.9 807.9L812.3 816.4L808.7 824.7L805.1 832.3L801.5 845.3L797.8 857.7L794.2 869.8L790.6 881.7L786.9 893.6L783.3 905.3L779.6 917.0L775.9 928.6L772.3 940.1L768.6 951.4L764.9 962.7L761.2 973.9L757.5 985.0L753.8 996.0L750.0 1006.9L746.3 1017.7L742.6 1028.4L738.8 1038.9L735.0 1049.4L731.3 1059.7L727.5 1070.0L723.7 1080.1L719.9 1090.3L716.1 1100.7M417.3 631.2L423.4 632.9L429.5 634.9L435.6 637.3L441.7 639.9L447.9 642.8L454.0 645.8L460.2 648.9L466.4 652.2L472.6 655.4L478.8 658.7L485.1 661.9L491.3 665.1L497.5 668.3L503.8 671.3L510.1 674.3L516.4 677.2L522.7 679.9L529.0 682.6L535.3 685.1L541.6 687.5L547.9 689.9L554.3 692.1L560.6 694.2L567.0 696.3L573.4 698.2L579.8 700.1L586.2 702.0L592.6 703.8L599.0 705.6L605.5 707.4L611.9 709.2L618.4 711.0L624.9 712.8L631.4 714.7L637.9 716.5L644.5 718.4L651.0 720.3L657.6 722.1L664.2 724.0L670.8 725.7L677.4 727.5L684.0 729.1L690.6 730.8L697.3 732.3L704.0 733.9L710.6 735.3L717.3 736.8L724.1 738.2L730.8 739.6L737.5 740.9L744.3 742.2L751.1 743.5L757.9 744.9L764.7 746.2L771.5 747.6L778.3 749.0L785.2 750.4L792.1 752.0L799.0 753.6L805.9 755.4L812.8 757.3L819.7 759.4L826.7 761.7L833.6 764.3L840.6 767.1L847.6 770.1L854.6 773.3L861.6 776.6L868.6 780.2L875.6 783.9L882.7 787.6L889.8 791.5L896.8 795.4L903.9 799.3L911.0 803.3L918.1 807.3L925.3 811.2L932.4 815.2L939.6 819.2L946.8 823.1L953.9 827.0L961.1 830.8L968.4 834.7L975.6 838.5L982.9 842.3L990.1 846.0L997.4 849.8L1004.7 853.5L1012.0 857.2L1019.3 860.9L1026.7 864.6L1034.0 868.3L1041.4 872.0L1048.8 875.7L1056.2 879.4L1063.6 883.2M1062.8 497.5L1060.0 499.5L1057.2 501.9L1054.3 504.5L1051.5 507.3L1048.6 510.2L1045.7 513.2L1042.9 516.2L1040.0 519.3L1037.1 522.3L1034.2 525.4L1031.2 528.5L1028.3 531.6L1025.4 534.7L1022.4 537.8L1019.5 541.0L1016.5 544.2L1013.5 547.4L1010.6 550.6L1007.6 553.8L1004.6 557.0L1001.6 560.1L998.5 563.3L995.5 566.3L992.5 569.1L989.4 571.7L986.4 574.2L983.3 576.6L980.3 578.9L977.2 581.3L974.1 583.6L971.0 586.0L967.9 588.4L964.8 590.9L961.7 593.4L958.6 596.1L955.4 598.8L952.3 601.5L949.1 604.4L945.9 607.4L942.7 610.4L939.5 613.6L936.3 616.9L933.0 620.4L929.8 624.0L926.5 628.0L923.2 632.3L919.9 637.2L916.6 642.7L913.3 649.0L909.9 656.0L906.5 663.4L903.1 671.3L899.7 679.5L896.3 687.8L892.9 696.3L889.4 704.9L886.0 713.7L882.5 722.5L879.0 731.4L875.6 740.3L872.1 749.3L868.6 758.4L865.1 767.5L861.6 776.6L858.1 785.9L854.5 795.1L851.0 804.4L847.5 813.9L843.9 823.4L840.3 833.2L836.8 843.2L833.2 853.6L829.6 864.3L826.0 875.5L822.3 886.9L818.7 898.4L815.1 910.0L811.4 921.7L807.8 933.3L804.1 944.9L800.5 956.4L796.8 967.9L793.1 979.2L789.4 990.5L785.8 1001.7L782.1 1012.7L778.3 1023.6L774.6 1034.4L770.9 1045.1L767.2 1055.5L763.4 1065.8L759.7 1075.9L755.9 1085.8L752.2 1095.4L748.4 1104.6L744.6 1113.4M401.8 652.1L407.9 654.2L414.0 657.0L420.2 660.4L426.4 664.2L432.6 668.1L438.8 672.1L445.0 676.2L451.2 680.1L457.5 684.0L463.7 687.9L470.0 691.6L476.2 695.2L482.5 698.7L488.8 702.0L495.1 705.1L501.4 708.1L507.7 710.8L514.0 713.4L520.3 715.8L526.7 718.0L533.0 720.1L539.4 722.1L545.7 724.0L552.1 725.8L558.5 727.4L564.9 729.0L571.3 730.5L577.8 732.0L584.2 733.4L590.7 734.9L597.2 736.5L603.6 738.3L610.2 740.3L616.7 742.4L623.2 744.8L629.8 747.1L636.4 749.5L642.9 751.8L649.5 754.1L656.2 756.3L662.8 758.4L669.4 760.5L676.1 762.5L682.8 764.4L689.4 766.3L696.1 768.1L702.9 769.8L709.6 771.5L716.3 773.2L723.1 774.8L729.9 776.4L736.7 777.9L743.5 779.5L750.3 781.0L757.1 782.5L764.0 784.0L770.9 785.5L777.8 787.1L784.7 788.7L791.6 790.4L798.5 792.2L805.5 794.2L812.4 796.5L819.4 799.2L826.4 802.4L833.4 806.0L840.4 809.8L847.5 813.9L854.5 818.1L861.5 822.4L868.6 826.7L875.7 831.1L882.8 835.5L889.9 839.9L897.0 844.3L904.1 848.7L911.3 853.0L918.4 857.4L925.6 861.7L932.8 866.0L940.0 870.3L947.2 874.6L954.4 878.8L961.7 883.0L968.9 887.2L976.2 891.3L983.5 895.4L990.8 899.5L998.1 903.5L1005.5 907.5L1012.8 911.5L1020.2 915.4L1027.6 919.3L1035.0 923.2L1042.4 926.9L1049.8 930.6M1088.9 513.6L1086.2 515.5L1083.4 517.6L1080.6 519.9L1077.8 522.2L1075.0 524.7L1072.2 527.2L1069.3 529.8L1066.5 532.5L1063.6 535.2L1060.8 538.0L1057.9 540.7L1055.0 543.5L1052.1 546.3L1049.2 549.2L1046.3 552.0L1043.4 554.9L1040.4 557.7L1037.5 560.6L1034.5 563.4L1031.6 566.2L1028.6 569.0L1025.6 571.8L1022.6 574.5L1019.6 577.1L1016.6 579.7L1013.6 582.3L1010.6 584.8L1007.6 587.3L1004.5 589.8L1001.5 592.3L998.4 594.8L995.4 597.4L992.3 600.0L989.2 602.8L986.1 605.6L982.9 608.5L979.8 611.5L976.7 614.6L973.5 617.9L970.3 621.4L967.1 625.0L963.9 628.9L960.7 633.0L957.5 637.4L954.2 642.1L951.0 647.1L947.7 652.5L944.4 658.4L941.1 664.6L937.7 671.3L934.4 678.3L931.0 685.7L927.7 693.5L924.3 701.5L920.9 709.7L917.5 718.2L914.0 726.8L910.6 735.7L907.1 744.6L903.7 753.8L900.2 763.0L896.7 772.4L893.3 781.9L889.8 791.5L886.3 801.2L882.7 811.0L879.2 821.0L875.7 831.1L872.1 841.3L868.6 851.7L865.0 862.3L861.5 873.0L857.9 884.0L854.3 895.1L850.7 906.3L847.1 917.6L843.5 929.0L839.8 940.5L836.2 952.0L832.6 963.5L828.9 974.9L825.3 986.3L821.6 997.7L817.9 1008.9L814.3 1020.0L810.6 1031.0L806.9 1041.9L803.2 1052.6L799.5 1063.1L795.8 1073.4L792.1 1083.5L788.3 1093.4L784.6 1102.9L780.9 1112.3L777.1 1121.3L773.4 1130.0M386.0 668.3L392.3 676.5L398.5 682.9L404.8 688.8L411.0 694.2L417.3 699.3L423.5 704.1L429.8 708.7L436.0 713.1L442.3 717.4L448.6 721.4L454.8 725.3L461.1 729.1L467.4 732.8L473.7 736.3L480.0 739.8L486.4 743.3L492.7 745.4L499.0 747.5L505.3 749.6L511.7 751.6L518.0 753.5L524.4 755.3L530.7 756.9L537.1 758.5L543.5 760.0L550.0 761.3L556.4 762.5L562.8 763.6L569.3 764.5L575.7 765.2L582.2 765.7L588.7 765.5L595.3 769.6L601.8 773.0L608.4 776.2L615.0 779.2L621.6 782.0L628.2 784.8L634.8 787.4L641.4 789.9L648.1 792.3L654.7 794.7L661.4 796.9L668.1 799.1L674.8 801.2L681.5 803.3L688.2 805.3L695.0 807.3L701.8 809.2L708.5 811.0L715.3 812.9L722.1 814.7L729.0 816.4L735.8 818.1L742.7 819.8L749.5 821.5L756.4 823.2L763.3 824.8L770.2 826.3L777.2 827.9L784.1 829.3L791.1 830.7L798.1 831.8L805.1 832.3L812.1 838.2L819.1 843.5L826.1 848.6L833.2 853.6L840.2 858.5L847.3 863.4L854.4 868.2L861.5 873.0L868.6 877.8L875.7 882.6L882.8 887.4L889.9 892.1L897.1 896.8L904.3 901.5L911.5 906.2L918.7 910.9L925.9 915.5L933.1 920.1L940.3 924.6L947.6 929.1L954.9 933.6L962.2 938.1L969.5 942.4L976.8 946.8L984.1 951.1L991.5 955.3L998.8 959.5L1006.2 963.6L1013.6 967.7L1021.0 971.7L1028.5 975.7L1035.9 979.8M1115.3 529.4L1112.6 531.3L1109.8 533.3L1107.1 535.4L1104.3 537.5L1101.5 539.7L1098.8 542.0L1096.0 544.3L1093.2 546.6L1090.3 549.0L1087.5 551.5L1084.7 553.9L1081.8 556.4L1079.0 558.9L1076.1 561.4L1073.3 563.9L1070.4 566.4L1067.5 569.0L1064.6 571.5L1061.7 574.0L1058.8 576.6L1055.8 579.1L1052.9 581.6L1049.9 584.1L1047.0 586.6L1044.0 589.1L1041.0 591.6L1038.1 594.1L1035.1 596.6L1032.1 599.1L1029.0 601.7L1026.0 604.3L1023.0 607.0L1019.9 609.7L1016.9 612.6L1013.8 615.5L1010.7 618.6L1007.6 621.8L1004.5 625.2L1001.3 628.7L998.2 632.5L995.0 636.4L991.9 640.6L988.7 645.1L985.5 649.8L982.2 654.9L979.0 660.2L975.7 665.9L972.5 671.9L969.2 678.3L965.9 685.0L962.5 692.1L959.2 699.5L955.8 707.2L952.5 715.2L949.1 723.4L945.7 731.9L942.3 740.7L938.9 749.7L935.5 758.8L932.0 768.2L928.6 777.7L925.1 787.4L921.6 797.3L918.1 807.3L914.7 817.4L911.2 827.7L907.6 838.1L904.1 848.7L900.6 859.3L897.0 870.1L893.5 881.1L889.9 892.1L886.4 903.3L882.8 914.6L879.2 925.9L875.6 937.3L872.0 948.8L868.4 960.3L864.8 971.8L861.2 983.3L857.6 994.8L853.9 1006.2L850.3 1017.6L846.6 1028.9L843.0 1040.0L839.3 1051.0L835.6 1061.9L832.0 1072.6L828.3 1083.1L824.6 1093.4L820.9 1103.4L817.2 1113.2L813.5 1122.7L809.8 1131.9L806.0 1140.9L802.3 1149.5M371.3 725.0L377.4 727.2L383.6 730.2L389.7 733.6L396.0 737.4L402.2 741.3L408.4 745.2L414.6 749.0L420.9 752.8L427.2 756.5L433.4 760.0L439.7 763.4L446.0 766.7L452.3 769.9L458.6 772.9L464.9 775.8L471.2 778.4L477.5 780.9L483.8 783.2L490.2 785.4L496.5 787.4L502.9 789.4L509.3 791.2L515.7 793.0L522.1 794.6L528.5 796.2L534.9 797.8L541.4 799.3L547.8 800.7L554.3 802.2L560.8 803.7L567.3 805.4L573.8 807.2L580.4 809.4L586.9 811.7L593.5 814.2L600.1 816.7L606.7 819.3L613.3 821.9L619.9 824.4L626.6 826.9L633.2 829.3L639.9 831.7L646.6 834.0L653.3 836.3L660.0 838.6L666.8 840.8L673.5 843.0L680.3 845.2L687.0 847.3L693.8 849.4L700.6 851.5L707.5 853.6L714.3 855.7L721.2 857.8L728.0 859.9L734.9 861.9L741.8 864.1L748.7 866.2L755.7 868.4L762.6 870.6L769.6 873.0L776.6 875.6L783.6 878.5L790.6 881.7L797.6 885.4L804.6 889.5L811.7 893.8L818.7 898.4L825.8 903.1L832.9 907.9L840.0 912.7L847.1 917.6L854.2 922.5L861.3 927.4L868.5 932.4L875.6 937.3L882.8 942.3L890.0 947.2L897.2 952.1L904.4 957.0L911.6 961.9L918.9 966.8L926.1 971.6L933.4 976.4L940.7 981.2L948.0 985.8L955.3 990.5L962.6 995.0L970.0 999.5L977.3 1003.8L984.7 1008.1L992.1 1012.2L999.5 1016.2L1007.0 1020.1L1014.4 1023.7L1021.9 1027.2M1141.8 545.3L1139.1 547.2L1136.4 549.1L1133.7 551.1L1131.0 553.1L1128.3 555.1L1125.5 557.2L1122.8 559.2L1120.0 561.3L1117.2 563.5L1114.5 565.6L1111.7 567.8L1108.9 569.9L1106.1 572.1L1103.3 574.4L1100.4 576.6L1097.6 578.8L1094.7 581.1L1091.9 583.4L1089.0 585.6L1086.1 587.9L1083.3 590.2L1080.4 592.5L1077.5 594.9L1074.5 597.2L1071.6 599.6L1068.7 601.9L1065.7 604.3L1062.8 606.8L1059.8 609.3L1056.8 611.8L1053.8 614.4L1050.8 617.1L1047.8 619.8L1044.8 622.7L1041.7 625.7L1038.7 628.8L1035.6 632.0L1032.5 635.5L1029.4 639.1L1026.3 642.9L1023.2 647.0L1020.0 651.3L1016.9 655.9L1013.7 660.8L1010.5 665.9L1007.3 671.4L1004.0 677.3L1000.8 683.5L997.5 690.0L994.2 696.9L990.9 704.1L987.6 711.7L984.3 719.6L980.9 727.8L977.6 736.3L974.2 745.0L970.8 754.1L967.4 763.3L964.0 772.8L960.6 782.5L957.1 792.4L953.7 802.5L950.2 812.7L946.8 823.1L943.3 833.6L939.8 844.3L936.3 855.1L932.8 866.0L929.3 877.1L925.7 888.2L922.2 899.5L918.7 910.9L915.1 922.3L911.5 933.8L908.0 945.4L904.4 957.0L900.8 968.7L897.2 980.4L893.6 992.1L890.0 1003.8L886.4 1015.4L882.8 1027.0L879.2 1038.6L875.5 1050.0L871.9 1061.4L868.2 1072.6L864.6 1083.6L860.9 1094.5L857.3 1105.1L853.6 1115.5L849.9 1125.7L846.2 1135.6L842.6 1145.1L838.9 1154.4L835.2 1163.3L831.5 1171.8M356.4 777.2L362.5 779.2L368.6 781.5L374.8 783.9L380.9 786.4L387.1 789.1L393.3 791.8L399.5 794.5L405.8 797.2L412.0 799.9L418.2 802.5L424.5 805.1L430.8 807.6L437.0 810.1L443.3 812.5L449.6 814.8L456.0 817.1L462.3 819.3L468.6 821.4L475.0 823.5L481.3 825.5L487.7 827.5L494.1 829.4L500.5 831.3L506.9 833.2L513.4 835.0L519.8 836.9L526.3 838.7L532.7 840.5L539.2 842.4L545.7 844.3L552.2 846.3L558.8 848.3L565.3 850.4L571.9 852.5L578.5 854.7L585.1 857.0L591.7 859.2L598.3 861.5L605.0 863.8L611.6 866.1L618.3 868.5L625.0 870.8L631.7 873.1L638.4 875.4L645.1 877.7L651.9 880.0L658.6 882.3L665.4 884.6L672.2 886.9L679.0 889.3L685.8 891.7L692.7 894.1L699.5 896.5L706.4 899.0L713.3 901.5L720.2 904.1L727.1 906.7L734.0 909.5L741.0 912.3L747.9 915.2L754.9 918.3L761.9 921.6L768.9 925.0L775.9 928.6L783.0 932.4L790.0 936.4L797.1 940.5L804.1 944.9L811.2 949.4L818.3 954.0L825.4 958.7L832.6 963.5L839.7 968.4L846.8 973.3L854.0 978.3L861.2 983.3L868.4 988.4L875.6 993.5L882.8 998.6L890.0 1003.8L897.3 1008.9L904.5 1014.0L911.8 1019.1L919.1 1024.2L926.4 1029.3L933.7 1034.2L941.0 1039.1L948.3 1043.9L955.7 1048.6L963.1 1053.1L970.5 1057.5L977.9 1061.7L985.3 1065.7L992.8 1069.5L1000.3 1073.1L1007.8 1076.4M1168.5 561.4L1165.9 563.4L1163.2 565.3L1160.5 567.1L1157.8 569.0L1155.2 570.9L1152.5 572.7L1149.8 574.6L1147.0 576.5L1144.3 578.3L1141.6 580.2L1138.8 582.1L1136.1 584.1L1133.3 586.0L1130.6 588.0L1127.8 589.9L1125.0 592.0L1122.2 594.0L1119.4 596.0L1116.5 598.1L1113.7 600.2L1110.9 602.3L1108.0 604.4L1105.2 606.6L1102.3 608.8L1099.4 611.0L1096.5 613.2L1093.6 615.5L1090.7 617.8L1087.7 620.2L1084.8 622.6L1081.8 625.1L1078.9 627.7L1075.9 630.3L1072.9 633.0L1069.9 635.9L1066.9 638.9L1063.9 642.0L1060.8 645.3L1057.8 648.8L1054.7 652.5L1051.6 656.5L1048.5 660.7L1045.3 665.1L1042.2 669.9L1039.0 675.1L1035.8 680.6L1032.6 686.5L1029.4 692.8L1026.2 699.5L1022.9 706.6L1019.6 714.2L1016.3 722.0L1013.0 730.3L1009.7 738.9L1006.3 747.8L1003.0 757.0L999.6 766.4L996.2 776.1L992.8 786.1L989.4 796.2L986.0 806.5L982.5 817.0L979.1 827.7L975.6 838.5L972.1 849.4L968.7 860.5L965.2 871.7L961.7 883.0L958.2 894.4L954.7 905.9L951.1 917.5L947.6 929.1L944.1 940.9L940.5 952.7L937.0 964.5L933.4 976.4L929.8 988.3L926.2 1000.3L922.7 1012.3L919.1 1024.2L915.5 1036.2L911.9 1048.1L908.2 1060.0L904.6 1071.8L901.0 1083.5L897.4 1095.1L893.7 1106.5L890.1 1117.8L886.4 1128.9L882.8 1139.7L879.1 1150.2L875.5 1160.3L871.8 1170.1L868.2 1179.5L864.5 1188.5L860.8 1197.0M341.3 828.8L347.5 830.9L353.6 832.8L359.7 834.7L365.9 836.5L372.0 838.3L378.2 840.1L384.4 841.8L390.6 843.5L396.8 845.1L403.0 846.8L409.2 848.5L415.5 850.1L421.7 851.8L428.0 853.6L434.3 855.3L440.6 857.1L447.0 859.0L453.3 860.8L459.6 862.7L466.0 864.6L472.4 866.6L478.8 868.6L485.2 870.6L491.7 872.7L498.1 874.8L504.6 876.8L511.0 878.9L517.5 881.0L524.0 883.1L530.5 885.2L537.1 887.3L543.6 889.4L550.2 891.5L556.8 893.6L563.3 895.7L570.0 897.8L576.6 899.9L583.2 902.0L589.9 904.1L596.5 906.3L603.2 908.4L609.9 910.6L616.6 912.9L623.4 915.1L630.1 917.4L636.9 919.8L643.6 922.1L650.4 924.6L657.2 927.1L664.1 929.6L670.9 932.2L677.7 934.9L684.6 937.7L691.5 940.5L698.4 943.4L705.3 946.4L712.2 949.5L719.2 952.6L726.1 955.9L733.1 959.3L740.1 962.8L747.1 966.4L754.1 970.1L761.2 973.9L768.2 977.9L775.3 982.0L782.4 986.2L789.4 990.5L796.5 994.9L803.7 999.5L810.8 1004.1L817.9 1008.9L825.1 1013.8L832.3 1018.7L839.4 1023.7L846.6 1028.9L853.8 1034.1L861.1 1039.3L868.3 1044.6L875.5 1050.0L882.8 1055.4L890.0 1060.9L897.3 1066.3L904.6 1071.8L911.9 1077.2L919.3 1082.6L926.6 1087.9L933.9 1093.2L941.3 1098.2L948.7 1103.2L956.1 1107.9L963.5 1112.4L971.0 1116.6L978.4 1120.5L985.9 1124.0L993.5 1127.2M1195.4 578.1L1192.8 580.0L1190.1 581.9L1187.5 583.6L1184.9 585.3L1182.2 587.0L1179.6 588.6L1176.9 590.2L1174.3 591.8L1171.6 593.5L1168.9 595.1L1166.2 596.8L1163.5 598.5L1160.8 600.2L1158.1 602.0L1155.3 603.7L1152.6 605.5L1149.8 607.4L1147.0 609.3L1144.3 611.2L1141.5 613.1L1138.7 615.0L1135.9 617.0L1133.0 619.0L1130.2 621.1L1127.4 623.2L1124.5 625.3L1121.7 627.4L1118.8 629.6L1115.9 631.9L1113.0 634.1L1110.1 636.5L1107.2 638.9L1104.2 641.3L1101.3 643.9L1098.3 646.5L1095.4 649.2L1092.4 652.1L1089.4 655.1L1086.4 658.2L1083.3 661.5L1080.3 665.1L1077.2 668.8L1074.1 672.9L1071.0 677.3L1067.9 682.2L1064.7 687.5L1061.6 693.2L1058.4 699.6L1055.2 706.5L1051.9 713.9L1048.6 721.9L1045.3 730.3L1042.0 739.2L1038.7 748.4L1035.4 758.0L1032.0 767.8L1028.6 777.9L1025.2 788.2L1021.8 798.7L1018.4 809.4L1015.0 820.2L1011.6 831.1L1008.1 842.3L1004.7 853.5L1001.2 864.8L997.8 876.3L994.3 887.8L990.8 899.5L987.3 911.2L983.8 923.0L980.3 934.9L976.8 946.8L973.2 958.8L969.7 970.8L966.2 982.9L962.6 995.0L959.1 1007.2L955.5 1019.4L951.9 1031.6L948.3 1043.9L944.7 1056.2L941.2 1068.5L937.6 1080.9L933.9 1093.2L930.3 1105.4L926.7 1117.6L923.1 1129.7L919.5 1141.7L915.8 1153.5L912.2 1165.1L908.5 1176.3L904.9 1187.2L901.2 1197.6L897.6 1207.5L894.0 1216.7L890.3 1225.2M326.2 880.9L332.3 882.9L338.4 884.5L344.6 885.8L350.7 886.8L356.8 887.6L362.9 888.3L369.1 888.9L375.2 889.5L381.4 890.1L387.6 890.7L393.8 891.4L400.0 892.1L406.3 893.0L412.5 894.1L418.8 895.2L425.1 896.5L431.5 898.0L437.8 899.6L444.2 901.4L450.5 903.3L456.9 905.3L463.4 907.4L469.8 909.6L476.2 911.9L482.7 914.2L489.2 916.6L495.7 919.0L502.2 921.4L508.7 923.8L515.2 926.1L521.8 928.4L528.3 930.6L534.9 932.7L541.5 934.7L548.1 936.7L554.7 938.6L561.3 940.4L568.0 942.3L574.6 944.2L581.3 946.1L588.0 948.1L594.7 950.1L601.4 952.2L608.2 954.4L614.9 956.7L621.7 959.0L628.5 961.4L635.3 963.9L642.1 966.5L648.9 969.2L655.8 972.0L662.7 974.9L669.6 977.9L676.5 981.1L683.4 984.3L690.3 987.6L697.3 991.1L704.2 994.6L711.2 998.3L718.2 1002.0L725.2 1005.8L732.2 1009.7L739.2 1013.7L746.3 1017.7L753.4 1021.8L760.4 1025.9L767.5 1030.1L774.6 1034.4L781.8 1038.8L788.9 1043.3L796.0 1047.9L803.2 1052.6L810.4 1057.4L817.6 1062.3L824.8 1067.4L832.0 1072.6L839.2 1077.9L846.4 1083.3L853.7 1088.8L860.9 1094.5L868.2 1100.2L875.5 1106.0L882.8 1111.9L890.1 1117.8L897.4 1123.8L904.7 1129.8L912.1 1135.8L919.5 1141.7L926.8 1147.5L934.2 1153.2L941.6 1158.7L949.1 1163.9L956.5 1168.7L964.0 1173.0L971.5 1176.8L979.0 1180.0M1222.4 595.5L1219.8 597.4L1217.2 599.0L1214.7 600.5L1212.1 601.8L1209.5 603.1L1206.9 604.4L1204.3 605.7L1201.7 607.1L1199.0 608.5L1196.4 609.9L1193.8 611.3L1191.1 612.9L1188.4 614.4L1185.8 616.0L1183.1 617.7L1180.4 619.3L1177.6 621.1L1174.9 622.8L1172.2 624.6L1169.4 626.5L1166.7 628.4L1163.9 630.3L1161.1 632.2L1158.3 634.2L1155.5 636.2L1152.7 638.2L1149.9 640.3L1147.1 642.4L1144.2 644.5L1141.4 646.7L1138.5 648.9L1135.6 651.1L1132.8 653.4L1129.9 655.8L1126.9 658.2L1124.0 660.6L1121.1 663.1L1118.1 665.7L1115.2 668.4L1112.2 671.1L1109.2 674.0L1106.2 677.0L1103.2 680.2L1100.1 683.6L1097.1 687.4L1094.0 691.8L1090.9 696.9L1087.7 703.1L1084.5 710.3L1081.3 718.5L1078.0 727.6L1074.7 737.2L1071.4 747.2L1068.0 757.5L1064.7 768.0L1061.3 778.7L1057.9 789.5L1054.5 800.4L1051.2 811.5L1047.7 822.6L1044.3 833.9L1040.9 845.3L1037.5 856.7L1034.0 868.3L1030.6 879.9L1027.1 891.7L1023.7 903.5L1020.2 915.4L1016.7 927.4L1013.2 939.5L1009.7 951.5L1006.2 963.6L1002.7 975.7L999.2 987.9L995.6 1000.0L992.1 1012.2L988.6 1024.5L985.0 1036.8L981.5 1049.2L977.9 1061.7L974.3 1074.3L970.7 1086.9L967.1 1099.6L963.5 1112.4L959.9 1125.2L956.3 1138.1L952.7 1151.0L949.1 1163.9L945.4 1176.8L941.8 1189.6L938.1 1202.3L934.5 1214.8L930.8 1226.9L927.2 1238.2L923.6 1248.5L919.9 1257.4M311.1 934.6L317.2 936.3L323.2 937.0L329.3 936.8L335.3 936.2L341.4 935.4L347.5 934.5L353.6 933.6L359.7 932.9L365.8 932.2L372.0 931.7L378.2 931.4L384.4 931.3L390.6 931.3L396.8 931.6L403.1 932.2L409.4 933.1L415.7 934.3L422.1 935.9L428.5 937.7L434.9 939.7L441.3 941.9L447.7 944.3L454.2 946.8L460.6 949.4L467.1 952.1L473.6 955.0L480.1 957.9L486.6 960.8L493.2 963.8L499.7 966.6L506.3 969.3L512.9 971.7L519.5 973.7L526.0 975.4L532.7 977.0L539.3 978.4L545.9 979.8L552.5 981.3L559.2 982.8L565.9 984.5L572.6 986.2L579.3 988.0L586.0 990.0L592.8 992.0L599.6 994.2L606.4 996.6L613.2 999.0L620.0 1001.5L626.8 1004.2L633.7 1007.1L640.5 1010.0L647.4 1013.1L654.3 1016.3L661.3 1019.7L668.2 1023.2L675.1 1026.8L682.1 1030.6L689.1 1034.5L696.1 1038.6L703.1 1042.7L710.1 1047.0L717.2 1051.2L724.2 1055.5L731.3 1059.7L738.4 1063.8L745.5 1067.8L752.6 1071.9L759.7 1075.9L766.8 1080.1L774.0 1084.4L781.2 1088.8L788.3 1093.4L795.5 1098.1L802.7 1103.0L810.0 1108.0L817.2 1113.2L824.4 1118.6L831.7 1124.1L839.0 1129.7L846.2 1135.6L853.5 1141.5L860.8 1147.6L868.2 1153.9L875.5 1160.3L882.8 1166.9L890.2 1173.5L897.5 1180.3L904.9 1187.2L912.3 1194.1L919.7 1201.1L927.1 1208.1L934.5 1214.8L941.9 1221.3L949.4 1227.1L956.9 1231.9L964.4 1235.4M1249.5 615.0L1247.0 614.9L1244.5 615.4L1242.0 616.1L1239.5 616.9L1237.0 617.9L1234.5 618.9L1231.9 620.0L1229.3 621.2L1226.8 622.5L1224.2 623.9L1221.6 625.2L1218.9 626.7L1216.3 628.2L1213.7 629.8L1211.0 631.4L1208.4 633.1L1205.7 634.8L1203.0 636.5L1200.3 638.3L1197.6 640.2L1194.9 642.1L1192.2 644.0L1189.4 646.0L1186.7 648.0L1183.9 650.0L1181.1 652.0L1178.4 654.0L1175.6 656.1L1172.8 658.2L1170.0 660.4L1167.1 662.6L1164.3 664.8L1161.5 667.1L1158.6 669.4L1155.7 671.8L1152.8 674.1L1150.0 676.5L1147.1 678.9L1144.1 681.4L1141.2 683.8L1138.3 686.3L1135.3 688.7L1132.4 691.1L1129.4 693.4L1126.5 695.7L1123.5 697.7L1120.5 699.4L1117.6 699.4L1114.2 712.8L1110.9 724.6L1107.5 736.1L1104.2 747.3L1100.8 758.5L1097.5 769.7L1094.1 780.8L1090.8 792.0L1087.4 803.2L1084.0 814.4L1080.7 825.7L1077.3 837.0L1073.9 848.5L1070.5 860.0L1067.1 871.5L1063.6 883.2L1060.2 894.9L1056.8 906.7L1053.3 918.6L1049.8 930.6L1046.4 942.7L1042.9 954.9L1039.4 967.2L1035.9 979.8L1032.4 991.4L1028.9 1003.2L1025.4 1015.1L1021.9 1027.2L1018.4 1039.3L1014.8 1051.6L1011.3 1063.9L1007.8 1076.4L1004.2 1088.9L1000.6 1101.6L997.0 1114.4L993.5 1127.2L989.9 1140.2L986.3 1153.3L982.6 1166.6L979.0 1180.0L975.4 1193.5L971.7 1207.2L968.1 1221.2L964.4 1235.4L960.7 1249.9L957.0 1264.9L953.3 1280.7L949.5 1299.2M296.1 995.4L301.8 988.6L307.7 984.3L313.6 980.9L319.6 978.0L325.6 975.5L331.6 973.4L337.7 971.5L343.8 970.0L349.9 968.7L356.0 967.6L362.2 966.7L368.4 966.0L374.6 965.4L380.8 965.0L387.1 964.7L393.4 964.2L399.7 966.5L406.1 968.6L412.5 970.8L418.9 973.2L425.4 975.6L431.8 978.2L438.3 980.9L444.8 983.8L451.3 986.8L457.8 990.0L464.3 993.3L470.9 996.9L477.5 1000.6L484.1 1004.6L490.7 1008.9L497.3 1014.2L503.9 1013.4L510.4 1013.6L517.0 1014.1L523.6 1014.8L530.3 1015.7L536.9 1016.9L543.6 1018.1L550.3 1019.6L557.0 1021.2L563.7 1023.0L570.5 1024.9L577.2 1026.9L584.0 1029.1L590.8 1031.4L597.7 1033.9L604.5 1036.5L611.4 1039.3L618.2 1042.2L625.1 1045.3L632.0 1048.5L638.9 1051.8L645.9 1055.3L652.8 1059.0L659.8 1062.8L666.8 1066.8L673.8 1071.0L680.8 1075.3L687.9 1079.9L694.9 1084.6L702.0 1089.6L709.0 1094.8L716.1 1100.7L723.2 1103.2L730.3 1106.3L737.5 1109.8L744.6 1113.4L751.8 1117.3L759.0 1121.3L766.1 1125.6L773.4 1130.0L780.6 1134.6L787.8 1139.4L795.0 1144.4L802.3 1149.5L809.6 1154.8L816.9 1160.3L824.2 1166.0L831.5 1171.8L838.8 1177.8L846.1 1184.0L853.5 1190.4L860.8 1197.0L868.2 1203.7L875.5 1210.7L882.9 1217.8L890.3 1225.2L897.7 1232.8L905.1 1240.7L912.5 1248.9L919.9 1257.4L927.3 1266.3L934.8 1275.7L942.2 1286.1L949.5 1299.2" fill="none" stroke="#1b1b90" stroke-width="3.5" stroke-linejoin="round"/>
<path d="M626.3 240.6L644.0 371.2" stroke="#2020a8" stroke-width="3.4" fill="none"/>
<defs><radialGradient id="pg" cx="50%" cy="45%" r="50%"><stop offset="0" stop-color="#1a1a9a"/><stop offset="0.55" stop-color="#0c0c50"/><stop offset="1" stop-color="#050510"/></radialGradient></defs>
<circle cx="644.0" cy="371.2" r="10.3" fill="url(#pg)"/>
<circle cx="737.7" cy="420.3" r="10.3" fill="url(#pg)"/>
<circle cx="834.1" cy="446.7" r="10.3" fill="url(#pg)"/>
<circle cx="1036.8" cy="479.7" r="10.3" fill="url(#pg)"/>
<circle cx="1249.5" cy="615.0" r="10.3" fill="#000"/>
<circle cx="563.1" cy="426.8" r="10.3" fill="#000"/>
<circle cx="659.1" cy="463.5" r="10.3" fill="url(#pg)"/>
<circle cx="758.0" cy="475.5" r="10.3" fill="#000"/>
<circle cx="965.5" cy="563.5" r="10.3" fill="#000"/>
<circle cx="1186.7" cy="648.0" r="10.3" fill="#000"/>
<circle cx="477.4" cy="539.5" r="10.3" fill="url(#pg)"/>
<circle cx="575.2" cy="578.6" r="10.3" fill="url(#pg)"/>
<circle cx="676.1" cy="621.4" r="10.3" fill="url(#pg)"/>
<circle cx="889.1" cy="622.9" r="10.3" fill="url(#pg)"/>
<circle cx="1117.6" cy="699.4" r="10.3" fill="url(#pg)"/>
<circle cx="386.0" cy="668.3" r="10.3" fill="url(#pg)"/>
<circle cx="486.4" cy="743.3" r="10.3" fill="url(#pg)"/>
<circle cx="588.7" cy="765.5" r="10.3" fill="url(#pg)"/>
<circle cx="805.1" cy="832.3" r="10.3" fill="url(#pg)"/>
<circle cx="1035.9" cy="979.8" r="10.3" fill="url(#pg)"/>
<circle cx="296.1" cy="995.4" r="10.3" fill="url(#pg)"/>
<circle cx="393.4" cy="964.2" r="10.3" fill="url(#pg)"/>
<circle cx="497.3" cy="1014.2" r="10.3" fill="url(#pg)"/>
<circle cx="716.1" cy="1100.7" r="10.3" fill="url(#pg)"/>
<circle cx="949.5" cy="1299.2" r="10.3" fill="#000"/>
<circle cx="626.3" cy="240.6" r="10.3" fill="#000"/>
<path d="M101.6 1201.3L989.6 1446.0L1388.4 1070.8L1441.2 208.3" fill="none" stroke="#000" stroke-width="5" stroke-linejoin="miter"/>
<ellipse cx="742.6" cy="445" rx="266" ry="66" fill="none" stroke="#000" stroke-width="6.2"/>
<path d="M844.1 95.9L663.4 217.6" stroke="#000" stroke-width="3.7" fill="none"/>
<path d="M634.6 234.9L657.7 211.1L669.5 224.1Z" fill="#000" stroke="#000" stroke-width="1" stroke-linejoin="round"/>
<path d="M1179.6 176.2L935.5 354.1" stroke="#000" stroke-width="6" fill="none"/>
<path d="M913.2 371.4L927.2 343.2L944.1 365.2Z" fill="#000" stroke="#000" stroke-width="1" stroke-linejoin="round"/>
<text transform="translate(848.4,56.5) scale(1.033,1) translate(-123.8,18.7)" font-family="Liberation Serif, serif" font-size="55.4" fill="#000">Initial state</text>
<text transform="translate(1187.6,127.3) scale(1.043,1) translate(-242.9,18.7)" font-family="Liberation Serif, serif" font-size="55.4" fill="#000">Thermal stability area</text>
<text transform="translate(1510.3,206.2) scale(1.000,1) translate(-57.0,19.3)" font-family="Liberation Serif, serif" font-size="57" fill="#000">3100</text>
<text transform="translate(1504.8,301.2) scale(1.000,1) translate(-57.0,19.3)" font-family="Liberation Serif, serif" font-size="57" fill="#000">3000</text>
<text transform="translate(1495.6,391.3) scale(1.000,1) translate(-57.0,19.3)" font-family="Liberation Serif, serif" font-size="57" fill="#000">2900</text>
<text transform="translate(1495.0,478.1) scale(1.000,1) translate(-57.0,19.3)" font-family="Liberation Serif, serif" font-size="57" fill="#000">2800</text>
<text transform="translate(1487.8,571.6) scale(1.000,1) translate(-57.0,19.3)" font-family="Liberation Serif, serif" font-size="57" fill="#000">2700</text>
<text transform="translate(1485.1,656.9) scale(1.000,1) translate(-57.0,19.3)" font-family="Liberation Serif, serif" font-size="57" fill="#000">2600</text>
<text transform="translate(1475.4,742.2) scale(1.000,1) translate(-57.0,19.3)" font-family="Liberation Serif, serif" font-size="57" fill="#000">2500</text>
<text transform="translate(1469.1,828.9) scale(1.000,1) translate(-57.0,19.3)" font-family="Liberation Serif, serif" font-size="57" fill="#000">2400</text>
<text transform="translate(1465.0,911.2) scale(1.000,1) translate(-57.0,19.3)" font-family="Liberation Serif, serif" font-size="57" fill="#000">2300</text>
<text transform="translate(1456.4,992.9) scale(1.000,1) translate(-57.0,19.3)" font-family="Liberation Serif, serif" font-size="57" fill="#000">2200</text>
<text transform="translate(1453.6,1070.2) scale(1.000,1) translate(-57.0,19.3)" font-family="Liberation Serif, serif" font-size="57" fill="#000">2100</text>
<text transform="translate(1396.5,1131.3) scale(1.000,1) translate(-42.8,19.3)" font-family="Liberation Serif, serif" font-size="57" fill="#000">250</text>
<text transform="translate(1340.2,1184.4) scale(1.000,1) translate(-42.8,19.3)" font-family="Liberation Serif, serif" font-size="57" fill="#000">300</text>
<text transform="translate(1270.0,1246.0) scale(1.000,1) translate(-42.8,19.3)" font-family="Liberation Serif, serif" font-size="57" fill="#000">350</text>
<text transform="translate(1200.3,1307.0) scale(1.000,1) translate(-42.8,19.3)" font-family="Liberation Serif, serif" font-size="57" fill="#000">400</text>
<text transform="translate(1124.0,1375.0) scale(1.000,1) translate(-42.8,19.3)" font-family="Liberation Serif, serif" font-size="57" fill="#000">450</text>
<text transform="translate(1046.8,1457.4) scale(1.000,1) translate(-42.8,19.3)" font-family="Liberation Serif, serif" font-size="57" fill="#000">500</text>
<text transform="translate(78.5,1232.3) rotate(4) scale(0.970,1) translate(-35.6,19.3)" font-family="Liberation Serif, serif" font-size="57" fill="#000">0.5</text>
<text transform="translate(180.1,1257.0) rotate(4) scale(0.970,1) translate(-35.6,19.3)" font-family="Liberation Serif, serif" font-size="57" fill="#000">1.0</text>
<text transform="translate(280.0,1283.8) rotate(4) scale(0.970,1) translate(-35.6,19.3)" font-family="Liberation Serif, serif" font-size="57" fill="#000">1.5</text>
<text transform="translate(383.7,1311.7) rotate(4) scale(0.980,1) translate(-35.6,19.3)" font-family="Liberation Serif, serif" font-size="57" fill="#000">2.0</text>
<text transform="translate(494.3,1343.5) rotate(4) scale(0.980,1) translate(-35.6,19.3)" font-family="Liberation Serif, serif" font-size="57" fill="#000">2.5</text>
<text transform="translate(604.8,1371.1) rotate(4) scale(0.990,1) translate(-35.6,19.3)" font-family="Liberation Serif, serif" font-size="57" fill="#000">3.0</text>
<text transform="translate(713.5,1407.6) rotate(4) scale(0.990,1) translate(-35.6,19.3)" font-family="Liberation Serif, serif" font-size="57" fill="#000">3.5</text>
<text transform="translate(841.6,1443.7) rotate(4) scale(1.000,1) translate(-35.6,19.3)" font-family="Liberation Serif, serif" font-size="57" fill="#000">4.0</text>
<text transform="translate(959.4,1472.5) rotate(4) scale(0.985,1) translate(-35.6,19.3)" font-family="Liberation Serif, serif" font-size="57" fill="#000">4.5</text>
<text transform="translate(469.8,1406.9) rotate(5) scale(0.980,1) translate(-39.4,19.6)" font-family="Liberation Serif, serif" font-size="58" font-style="italic" fill="#000">τ, h</text>
<text transform="translate(1262,1358.2) scale(1.0,1) rotate(-50.6)" font-family="Liberation Serif, serif" font-size="57"><tspan font-style="italic">t</tspan>,<tspan font-size="40" dy="-9">°</tspan><tspan dy="9">C</tspan></text>
<text transform="translate(1610.6,709.2) rotate(-90)" font-family="Liberation Serif, serif" font-size="57.2" text-anchor="middle">H<tspan font-size="31" dy="18">μ</tspan><tspan dy="-13">,</tspan><tspan dy="-5"> MPa</tspan></text>
</g>
</svg>
</body></html>
